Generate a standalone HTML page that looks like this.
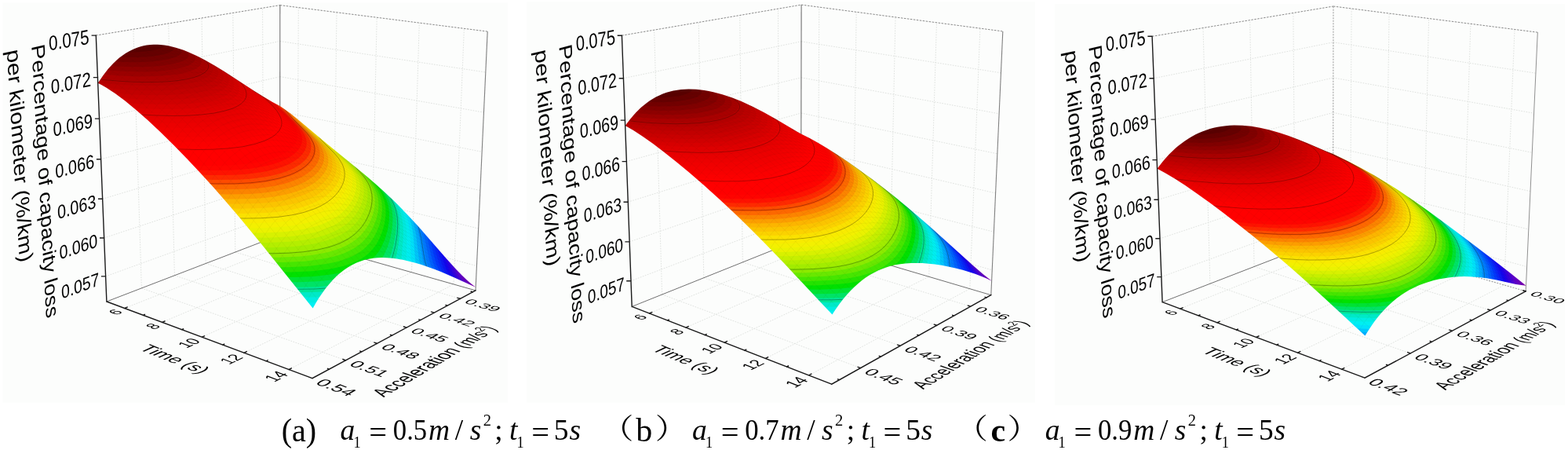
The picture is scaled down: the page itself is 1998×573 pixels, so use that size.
<!DOCTYPE html>
<html lang="en"><head><meta charset="utf-8"><title>Percentage of capacity loss per kilometer</title><style>html,body{margin:0;padding:0;background:#fff}svg{display:block}</style></head><body>
<svg width="1998" height="573" viewBox="0 0 1998 573">
<rect width="1998" height="573" fill="#fff"/>
<g fill="#fcfdfc"><rect x="3.5" y="3.5" width="643.5" height="509"/><rect x="671" y="2.5" width="648" height="510"/><rect x="1344" y="5" width="650" height="511"/></g>
<g id="panel-a">
<g id="grid-a"><path d="M134.6,351.9 356.7,271.3M356.7,271.3 607.4,338.6M132.7,303 356.7,228.8M356.7,228.8 609.6,291M130.7,253.3 356.7,185.8M356.7,185.8 611.8,242.5M128.6,202.7 356.7,142M356.7,142 614.1,193.3M126.6,151.1 356.8,97.6M356.8,97.6 616.4,143.1M124.5,98.6 356.8,52.5M356.8,52.5 618.8,92M378.9,305.5 380.3,9.6M158.8,392.5 378.9,305.5M425.1,318.6 429,15.7M206.6,410.3 425.1,318.6M473.5,332.3 480.2,22.2M257.2,429.2 473.5,332.3M524.5,346.8 534.3,29.1M310.9,449.3 524.5,346.8M578.1,362 591.4,36.3M368,470.6 578.1,362M180.4,366.9 169.9,37.3M180.4,366.9 440.6,458.8M222.4,350.7 214.7,30M222.4,350.7 480.6,437.3M262.2,335.5 257,23M262.2,335.5 518.1,417.1M299.8,321 296.8,16.5M299.8,321 553.3,398.2M335.5,307.3 334.6,10.3M335.5,307.3 586.5,380.3" fill="none" stroke="#dfe2df" stroke-width="1" stroke-dasharray="1.6 1.6"/>
<path d="M122.3,45.1 356.8,6.6M356.8,6.6 621.2,40.1" fill="none" stroke="#8a8a8a" stroke-width="1" stroke-dasharray="2.5 1.5"/>
<path d="M356.7,299.2 356.8,6.6" fill="none" stroke="#707070" stroke-width="1.1"/>
<path d="M606,369.9 621.2,40.1" fill="none" stroke="#808080" stroke-width="1.1"/>
<path d="M135.9,384 356.7,299.2M356.7,299.2 606,369.9" fill="none" stroke="#707070" stroke-width="1"/></g>
<g id="surf-a"><mask id="clip-a" maskUnits="userSpaceOnUse" x="0" y="0" width="1998" height="573"><path d="M124.77,105.75 131.27,96.14 137.77,87.82 144.28,80.7 148.18,76.97 152.08,73.62 155.97,70.63 159.86,67.97 163.74,65.65 167.61,63.63 171.47,61.9 175.32,60.45 179.17,59.27 183,58.32 186.81,57.61 191.88,57.01 195.67,56.79 200.69,56.8 204.44,57.01 209.42,57.55 214.37,58.36 219.29,59.42 224.17,60.7 229.03,62.18 233.86,63.86 239.84,66.18 250.49,70.94 262.12,76.9 273.55,83.39 285.88,90.93 323.46,115.43 334.78,122.6 346.87,129.73 356.75,134.92 363.6,139.63 370.49,144.82 378.57,151.29 417.44,183.85 455.15,214.55 467.56,224.82 478.84,234.49 490.2,244.67 500.38,254.26 510.62,264.41 520.92,275.13 532.59,287.85 543.03,299.66 568.11,328.59 581.51,343.35 588.28,350.28 595.11,356.74 600.61,361.48 606.16,365.74 578.48,353.18 561.17,345.84 552.73,342.56 544.12,339.44 536.33,336.86 528.4,334.48 520.33,332.38 513.16,330.8 505.87,329.52 499.53,328.7 493.1,328.2 486.58,328.07 481.09,328.28 475.53,328.83 469.9,329.76 464.21,331.12 458.46,332.97 453.81,334.84 447.94,337.73 443.19,340.52 438.41,343.77 433.58,347.54 428.71,351.87 423.8,356.8 418.84,362.39 415.1,367.04 410.08,373.91 406.29,379.58 402.48,385.73 398.65,392.39 381.8,371.6 333.93,311.8 319.31,293.91 304.85,276.55 287.72,256.5 272.22,238.87 255.53,220.49 239.08,202.96 221.53,184.96 204.26,168 188.57,153.33 173.12,139.73 159.19,128.36 146.72,119.11 140.55,114.94 135.66,111.84 129.59,108.3 124.77,105.75Z" fill="#fff"/></mask>
<g mask="url(#clip-a)">
<path d="M124.8,105.7 131.3,96.1 137.8,87.8 144.3,80.7 148.2,77 152.1,73.6 156,70.6 159.9,68 163.7,65.6 167.6,63.6 171.5,61.9 175.3,60.5 179.2,59.3 183,58.3 186.8,57.6 191.9,57 195.7,56.8 200.7,56.8 204.4,57 209.4,57.6 214.4,58.4 219.3,59.4 224.2,60.7 229,62.2 233.9,63.9 239.8,66.2 250.5,70.9 262.1,76.9 273.5,83.4 285.9,90.9 323.5,115.4 334.8,122.6 346.9,129.7 356.8,134.9 363.6,139.6 370.5,144.8 378.6,151.3 417.4,183.9 455.1,214.5 467.6,224.8 478.8,234.5 490.2,244.7 500.4,254.3 510.6,264.4 520.9,275.1 532.6,287.9 543,299.7 568.1,328.6 581.5,343.3 588.3,350.3 595.1,356.7 600.6,361.5 606.2,365.7 578.5,353.2 561.2,345.8 552.7,342.6 544.1,339.4 536.3,336.9 528.4,334.5 520.3,332.4 513.2,330.8 505.9,329.5 499.5,328.7 493.1,328.2 486.6,328.1 481.1,328.3 475.5,328.8 469.9,329.8 464.2,331.1 458.5,333 453.8,334.8 447.9,337.7 443.2,340.5 438.4,343.8 433.6,347.5 428.7,351.9 423.8,356.8 418.8,362.4 415.1,367 410.1,373.9 406.3,379.6 402.5,385.7 398.6,392.4 381.8,371.6 333.9,311.8 319.3,293.9 304.9,276.6 287.7,256.5 272.2,238.9 255.5,220.5 239.1,203 221.5,185 204.3,168 188.6,153.3 173.1,139.7 159.2,128.4 146.7,119.1 140.6,114.9 135.7,111.8 129.6,108.3 124.8,105.7Z" fill="#7d00a5" stroke="#7d00a5" stroke-width="3"/>
<path d="M109.9,115.8 120.7,121 133.6,128.7 146.6,137.9 159.9,148.4 175.3,161.7 191,176.1 208.9,193.6 227.1,212.2 260.3,248.2 296.6,290.1 327.3,327.5 400.2,418.6 408,403.4 417.5,387.4 427,374.4 436.2,363.9 445.4,355.6 456.1,348.2 466.7,342.9 477,339.5 488.8,337.4 501.9,336.9 514.7,337.8 530.2,340.4 546.6,344.6 563.9,350.3 583.2,357.6 607.6,368 603.4,365 600,361.6 597.2,357.9 595.2,354.4 578.3,336.8 540.7,293.6 521.3,272.5 509.7,260.7 496.3,248 469.9,225 424,187.5 381.6,151.9 366.1,140 355.8,133.5 344,127.8 331.9,121 275.7,85.1 260.4,76 248.2,69.5 235.7,63.7 224.9,59.5 213.9,56.2 204.6,54.2 195.2,53.3 185.8,53.4 176.2,54.7 168.5,56.9 160.7,60 152.9,64.4 145.1,70.1 137.3,77.2 129.5,85.9 123.6,93.6 115.8,105.5 109.9,115.8Z" fill="#6e00b6"/>
<path d="M109.9,115.8 120.7,121 133.6,128.7 146.6,137.9 159.9,148.4 175.3,161.7 191,176.1 208.9,193.6 227.1,212.2 260.3,248.2 296.6,290.1 327.3,327.5 400.2,418.6 408,403.4 417.5,387.4 427,374.4 436.2,363.9 445.4,355.6 456.1,348.2 466.7,342.9 477,339.5 488.8,337.4 500.3,336.8 513.1,337.6 528.7,340.1 545.2,344.2 562.5,349.8 580.5,356.5 603.6,366.3 599.7,363.4 596.6,360.4 592.5,354.8 589.6,348.9 576.3,334.5 542.7,295.8 525.1,276.5 513.6,264.6 500.1,251.5 486.8,239.4 471.8,226.5 424,187.5 383.3,153.3 366.1,140 355.8,133.5 344,127.8 331.9,121 275.7,85.1 260.4,76 248.2,69.5 235.7,63.7 224.9,59.5 213.9,56.2 204.6,54.2 195.2,53.3 185.8,53.4 176.2,54.7 168.5,56.9 160.7,60 152.9,64.4 145.1,70.1 137.3,77.2 129.5,85.9 123.6,93.6 115.8,105.5 109.9,115.8Z" fill="#6500c1"/>
<path d="M109.9,115.8 120.7,121 133.6,128.7 146.6,137.9 159.9,148.4 175.3,161.7 191,176.1 208.9,193.6 227.1,212.2 260.3,248.2 296.6,290.1 327.3,327.5 400.2,418.6 408,403.4 417.5,387.4 425.1,376.8 434.4,365.8 443.6,357.1 454.4,349.2 464.9,343.7 475.3,340 487.1,337.6 498.7,336.8 511.5,337.4 527.1,339.8 542.2,343.4 559.6,348.8 577.8,355.5 599.5,364.5 594.2,360.3 590.4,355.7 586.5,349 584.5,343.5 531,282.8 517.4,268.5 504,255.2 488.7,241.1 473.6,228.1 424,187.5 383.3,153.3 366.1,140 355.8,133.5 344,127.8 331.9,121 275.7,85.1 260.4,76 248.2,69.5 235.7,63.7 224.9,59.5 213.9,56.2 204.6,54.2 195.2,53.3 185.8,53.4 176.2,54.7 168.5,56.9 160.7,60 152.9,64.4 145.1,70.1 137.3,77.2 129.5,85.9 123.6,93.6 115.8,105.5 109.9,115.8Z" fill="#5b00cc"/>
<path d="M109.9,115.8 120.7,121 133.6,128.7 146.6,137.9 159.9,148.4 175.3,161.7 191,176.1 208.9,193.6 227.1,212.2 260.3,248.2 296.6,290.1 327.3,327.5 400.2,418.6 408,403.4 417.5,387.4 425.1,376.8 434.4,365.8 443.6,357.1 454.4,349.2 464.9,343.7 475.3,340 487.1,337.6 498.7,336.8 511.5,337.4 525.6,339.5 540.7,343 556.8,347.8 575.1,354.4 595.3,362.7 590.1,358.4 585.6,352.4 581.5,344.3 579.6,338.2 536.8,289.2 521.3,272.5 507.8,258.9 492.5,244.5 475.5,229.7 424,187.5 383.3,153.3 366.1,140 355.8,133.5 344,127.8 331.9,121 275.7,85.1 260.4,76 248.2,69.5 235.7,63.7 224.9,59.5 213.9,56.2 204.6,54.2 195.2,53.3 185.8,53.4 176.2,54.7 168.5,56.9 160.7,60 152.9,64.4 145.1,70.1 137.3,77.2 129.5,85.9 123.6,93.6 115.8,105.5 109.9,115.8Z" fill="#4800d6"/>
<path d="M109.9,115.8 120.7,121 133.6,128.7 146.6,137.9 159.9,148.4 175.3,161.7 191,176.1 208.9,193.6 227.1,212.2 260.3,248.2 296.6,290.1 327.3,327.5 400.2,418.6 408,403.4 417.5,387.4 425.1,376.8 434.4,365.8 443.6,357.1 452.6,350.4 463.2,344.5 473.6,340.5 485.5,337.9 497.1,336.9 510,337.3 522.5,338.9 537.7,342.2 553.9,346.9 570.9,352.8 591.1,360.9 586.1,356.5 581.6,350.3 577.2,341 574.9,333 544.6,298 527.1,278.6 511.6,262.6 494.4,246.2 477.4,231.3 422.2,186.1 383.3,153.3 366.1,140 355.8,133.5 344,127.8 330.3,120.1 275.7,85.1 262.1,77 249.9,70.4 237.5,64.5 226.7,60.1 215.7,56.6 206.5,54.6 197.1,53.4 187.7,53.2 178.1,54.3 170.4,56.2 160.7,60 152.9,64.4 145.1,70.1 137.3,77.2 129.5,85.9 123.6,93.6 115.8,105.5 109.9,115.8Z" fill="#3500df"/>
<path d="M109.9,115.8 120.7,121 133.6,128.7 146.6,137.9 159.9,148.4 175.3,161.7 191,176.1 208.9,193.6 227.1,212.2 260.3,248.2 296.6,290.1 327.3,327.5 400.2,418.6 408,403.4 415.6,390.4 423.2,379.3 432.5,367.8 441.7,358.7 450.8,351.6 461.4,345.3 471.9,341 482.1,338.4 493.8,337 506.8,337.1 519.4,338.4 533.2,341.1 549.6,345.5 566.7,351.3 586.8,359.1 581.9,354.7 576.9,347 572.5,336.5 571.1,332 570.4,327.8 540.7,293.6 521.3,272.5 500.1,251.5 479.3,232.9 422.2,186.1 383.3,153.3 366.1,140 355.8,133.5 344,127.8 330.3,120.1 275.7,85.1 262.1,77 249.9,70.4 237.5,64.5 226.7,60.1 215.7,56.6 206.5,54.6 197.1,53.4 187.7,53.2 178.1,54.3 170.4,56.2 160.7,60 152.9,64.4 145.1,70.1 137.3,77.2 129.5,85.9 123.6,93.6 115.8,105.5 109.9,115.8Z" fill="#2200e9"/>
<path d="M109.9,115.8 120.7,121 133.6,128.7 146.6,137.9 159.9,148.4 175.3,161.7 191,176.1 208.9,193.6 227.1,212.2 260.3,248.2 296.6,290.1 327.3,327.5 400.2,418.6 408,403.4 415.6,390.4 423.2,379.3 432.5,367.8 441.7,358.7 450.8,351.6 461.4,345.3 471.9,341 482.1,338.4 493.8,337 505.2,337 517.8,338.2 531.7,340.8 548.1,345.1 563.9,350.3 582.4,357.3 577.7,352.8 575.1,349 572.3,343.7 568.2,332.8 566.5,326.8 565.9,322.6 540.7,293.6 521.3,272.5 502,253.3 481.2,234.5 422.2,186.1 383.3,153.3 367.8,141.2 355.8,133.5 344,127.8 330.3,120.1 275.7,85.1 262.1,77 249.9,70.4 237.5,64.5 226.7,60.1 215.7,56.6 206.5,54.6 197.1,53.4 187.7,53.2 178.1,54.3 170.4,56.2 160.7,60 152.9,64.4 145.1,70.1 137.3,77.2 129.5,85.9 123.6,93.6 115.8,105.5 109.9,115.8Z" fill="#1205f1"/>
<path d="M109.9,115.8 120.7,121 133.6,128.7 146.6,137.9 159.9,148.4 175.3,161.7 191,176.1 208.9,193.6 227.1,212.2 260.3,248.2 296.6,290.1 327.3,327.5 400.2,418.6 408,403.4 415.6,390.4 423.2,379.3 432.5,367.8 441.7,358.7 450.8,351.6 459.7,346.2 470.2,341.6 480.4,338.8 492.1,337.1 503.5,336.9 516.3,338 530.2,340.4 545.2,344.2 561.1,349.3 578,355.5 573.4,350.9 570.9,347.1 568.3,341.7 564,329.3 562,321.6 561.5,317.5 538.8,291.4 519.3,270.5 502,253.3 483,236.1 466.2,221.9 422.2,186.1 383.3,153.3 367.8,141.2 355.8,133.5 344,127.8 330.3,120.1 275.7,85.1 262.1,77 249.9,70.4 237.5,64.5 226.7,60.1 215.7,56.6 206.5,54.6 197.1,53.4 187.7,53.2 178.1,54.3 170.4,56.2 160.7,60 152.9,64.4 145.1,70.1 137.3,77.2 129.5,85.9 123.6,93.6 115.8,105.5 109.9,115.8Z" fill="#0d16f5"/>
<path d="M109.9,115.8 120.7,121 133.6,128.7 146.6,137.9 159.9,148.4 175.3,161.7 191,176.1 208.9,193.6 227.1,212.2 260.3,248.2 296.6,290.1 327.3,327.5 400.2,418.6 408,403.4 415.6,390.4 423.2,379.3 432.5,367.8 439.9,360.3 449,352.9 457.9,347.1 468.4,342.3 478.7,339.1 488.8,337.4 500.3,336.8 513.1,337.6 527.1,339.8 540.7,343 556.8,347.8 573.4,353.8 569,349.1 566.7,345.1 564.2,339.7 559.8,325.8 557.5,316.4 557.1,312.4 536.8,289.2 519.3,270.5 502,253.3 484.9,237.8 466.2,221.9 420.4,184.6 383.3,153.3 367.8,141.2 355.8,133.5 344,127.8 330.3,120.1 275.7,85.1 262.1,77 249.9,70.4 237.5,64.5 226.7,60.1 215.7,56.6 206.5,54.6 197.1,53.4 187.7,53.2 178.1,54.3 170.4,56.2 160.7,60 152.9,64.4 145.1,70.1 137.3,77.2 129.5,85.9 123.6,93.6 115.8,105.5 109.9,115.8Z" fill="#0726fa"/>
<path d="M109.9,115.8 120.7,121 133.6,128.7 146.6,137.9 159.9,148.4 175.3,161.7 191,176.1 208.9,193.6 227.1,212.2 260.3,248.2 296.6,290.1 327.3,327.5 400.2,418.6 408,403.4 415.6,390.4 423.2,379.3 430.7,369.9 438.1,362.1 447.2,354.2 456.1,348.2 466.7,342.9 477,339.5 487.1,337.6 498.7,336.8 510,337.3 522.5,338.9 537.7,342.2 552.5,346.4 568.7,352 565.5,348.4 563.8,345.9 559.6,336.3 555.3,320.9 553.1,311.3 552.7,307.2 534.9,287.1 519.3,270.5 504,255.2 486.8,239.4 468,223.4 420.4,184.6 383.3,153.3 367.8,141.2 355.8,133.5 344,127.8 330.3,120.1 275.7,85.1 262.1,77 249.9,70.4 237.5,64.5 226.7,60.1 215.7,56.6 206.5,54.6 197.1,53.4 187.7,53.2 178.1,54.3 170.4,56.2 160.7,60 152.9,64.4 145.1,70.1 137.3,77.2 129.5,85.9 123.6,93.6 115.8,105.5 109.9,115.8Z" fill="#0237fe"/>
<path d="M109.9,115.8 120.7,121 133.6,128.7 146.6,137.9 159.9,148.4 175.3,161.7 191,176.1 208.9,193.6 227.1,212.2 260.3,248.2 296.6,290.1 327.3,327.5 400.2,418.6 408,403.4 415.6,390.4 423.2,379.3 430.7,369.9 438.1,362.1 447.2,354.2 456.1,348.2 466.7,342.9 477,339.5 487.1,337.6 497.1,336.9 508.4,337.2 521,338.7 534.7,341.5 548.1,345.1 563.9,350.3 560,345.3 555.8,335.7 552,321.5 548.6,306.1 548.2,302.1 532.9,284.9 517.4,268.5 504,255.2 488.7,241.1 469.9,225 424,187.5 385.1,154.7 367.8,141.2 355.8,133.5 344,127.8 330.3,120.1 275.7,85.1 262.1,77 249.9,70.4 237.5,64.5 226.7,60.1 215.7,56.6 206.5,54.6 197.1,53.4 187.7,53.2 178.1,54.3 170.4,56.2 160.7,60 152.9,64.4 145.1,70.1 137.3,77.2 129.5,85.9 123.6,93.6 115.8,105.5 109.9,115.8Z" fill="#004cff"/>
<path d="M109.9,115.8 120.7,121 133.6,128.7 146.6,137.9 159.9,148.4 175.3,161.7 191,176.1 208.9,193.6 227.1,212.2 260.3,248.2 296.6,290.1 327.3,327.5 400.2,418.6 408,403.4 415.6,390.4 423.2,379.3 430.7,369.9 438.1,362.1 447.2,354.2 456.1,348.2 464.9,343.7 473.6,340.5 483.8,338.1 493.8,337 505.2,337 517.8,338.2 530.2,340.4 543.7,343.8 559,348.6 555.3,343.5 551.5,333.7 549.3,325.1 544.2,301 543.8,297 531,282.8 517.4,268.5 504,255.2 490.6,242.8 471.8,226.5 424,187.5 385.1,154.7 367.8,141.2 355.8,133.5 344,127.8 330.3,120.1 275.7,85.1 262.1,77 249.9,70.4 237.5,64.5 226.7,60.1 215.7,56.6 206.5,54.6 197.1,53.4 187.7,53.2 178.1,54.3 170.4,56.2 160.7,60 152.9,64.4 145.1,70.1 137.3,77.2 129.5,85.9 123.6,93.6 115.8,105.5 109.9,115.8Z" fill="#0062ff"/>
<path d="M109.9,115.8 120.7,121 133.6,128.7 146.6,137.9 159.9,148.4 175.3,161.7 191,176.1 208.9,193.6 227.1,212.2 260.3,248.2 296.6,290.1 327.3,327.5 400.2,418.6 406,407 413.7,393.4 421.3,381.9 428.8,372.1 436.2,363.9 445.4,355.6 454.4,349.2 463.2,344.5 471.9,341 482.1,338.4 492.1,337.1 501.9,336.9 513.1,337.6 525.6,339.5 539.2,342.6 553.9,346.9 550.5,341.7 547.1,331.7 539.7,295.9 539.2,291.9 517.4,268.5 494.4,246.2 468,223.4 424,187.5 383.3,153.3 367.8,141.2 355.8,133.5 344,127.8 330.3,120.1 277.4,86.2 263.8,78 251.7,71.3 239.3,65.2 228.5,60.8 217.6,57.1 206.5,54.6 197.1,53.4 187.7,53.2 178.1,54.3 170.4,56.2 160.7,60 152.9,64.4 145.1,70.1 137.3,77.2 129.5,85.9 123.6,93.6 115.8,105.5 109.9,115.8Z" fill="#0078ff"/>
<path d="M109.9,115.8 120.7,121 131.7,127.5 144.7,136.5 158,146.8 173.4,159.9 189,174.3 206.9,191.6 225.1,210.1 260.3,248.2 296.6,290.1 327.3,327.5 399.3,417.5 400.7,417.6 409.9,399.9 417.5,387.4 423.2,379.3 430.7,369.9 438.1,362.1 445.4,355.6 452.6,350.4 461.4,345.3 470.2,341.6 480.4,338.8 490.5,337.3 500.3,336.8 511.5,337.4 522.5,338.9 534.7,341.5 548.6,345.2 545.6,339.9 543,331.2 538.2,304.2 535.1,290.7 534.7,286.8 515.5,266.5 496.3,248 469.9,225 424,187.5 383.3,153.3 367.8,141.2 355.8,133.5 344,127.8 330.3,120.1 277.4,86.2 263.8,78 251.7,71.3 239.3,65.2 228.5,60.8 217.6,57.1 206.5,54.6 197.1,53.4 187.7,53.2 178.1,54.3 170.4,56.2 160.7,60 152.9,64.4 145.1,70.1 137.3,77.2 129.5,85.9 123.6,93.6 115.8,105.5 109.9,115.8Z" fill="#008fff"/>
<path d="M109.9,115.8 120.7,121 131.7,127.5 144.7,136.5 158,146.8 173.4,159.9 189,174.3 206.9,191.6 225.1,210.1 258.2,245.8 294.4,287.5 327.3,327.5 393.9,410.9 403.8,411.3 409.9,399.9 417.5,387.4 425.1,376.8 432.5,367.8 439.9,360.3 447.2,354.2 454.4,349.2 463.2,344.5 471.9,341 480.4,338.8 488.8,337.4 498.7,336.8 508.4,337.2 519.4,338.4 530.2,340.4 543.2,343.7 540.4,338.1 538.9,332.2 534.1,301 530.5,285.6 530,281.7 513.6,264.6 498.2,249.8 484.9,237.8 469.9,225 424,187.5 383.3,153.3 367.8,141.2 355.8,133.5 344,127.8 330.3,120.1 277.4,86.2 263.8,78 251.7,71.3 239.3,65.2 228.5,60.8 217.6,57.1 206.5,54.6 197.1,53.4 187.7,53.2 178.1,54.3 170.4,56.2 160.7,60 152.9,64.4 145.1,70.1 137.3,77.2 129.5,85.9 123.6,93.6 115.8,105.5 109.9,115.8Z" fill="#00abfd"/>
<path d="M109.9,115.8 120.7,121 131.7,127.5 144.7,136.5 158,146.8 173.4,159.9 189,174.3 204.9,189.6 223.1,208 258.2,245.8 294.4,287.5 327.3,327.5 388.5,404.3 407.2,404.9 413.7,393.4 421.3,381.9 427,374.4 434.4,365.8 441.7,358.7 450.8,351.6 457.9,347.1 466.7,342.9 473.6,340.5 482.1,338.4 490.5,337.3 498.7,336.8 506.8,337.1 516.3,338 527.1,339.8 537.4,342.1 535.1,336.4 534.5,333.4 533.3,325.8 530,297.9 525.2,276.6 502,253.3 486.8,239.4 471.8,226.5 424,187.5 383.3,153.3 369.5,142.4 357.5,134.5 342.5,127 328.8,119.2 277.4,86.2 253.4,72.2 241.1,66.1 230.3,61.5 219.4,57.7 208.3,54.9 197.1,53.4 187.7,53.2 178.1,54.3 170.4,56.2 160.7,60 152.9,64.4 145.1,70.1 137.3,77.2 129.5,85.9 123.6,93.6 115.8,105.5 109.9,115.8Z" fill="#00c6fc"/>
<path d="M109.9,115.8 120.7,121 131.7,127.5 144.7,136.5 158,146.8 171.4,158.2 187,172.4 202.9,187.6 221,205.9 256.1,243.5 292.3,285 327.3,327.5 383.3,397.7 410.8,398.3 417.5,387.4 423.2,379.3 430.7,369.9 438.1,362.1 445.4,355.6 452.6,350.4 459.7,346.2 468.4,342.3 475.3,340 482.1,338.4 488.8,337.4 497.1,336.9 505.2,337 513.1,337.6 522.5,338.9 531.4,340.7 529.6,334.8 529,330.1 527,304.1 525.8,293.7 524.1,285.3 521.1,275.3 520.3,271.4 505.9,257 490.6,242.8 473.6,228.1 424,187.5 383.3,153.3 369.5,142.4 357.5,134.5 342.5,127 328.8,119.2 277.4,86.2 253.4,72.2 241.1,66.1 230.3,61.5 219.4,57.7 208.3,54.9 197.1,53.4 187.7,53.2 178.1,54.3 170.4,56.2 160.7,60 152.9,64.4 145.1,70.1 137.3,77.2 129.5,85.9 123.6,93.6 115.8,105.5 109.9,115.8Z" fill="#00e2fb"/>
<path d="M109.9,115.8 120.7,121 131.7,127.5 142.9,135.2 156.1,145.3 169.5,156.5 185.1,170.6 200.9,185.7 219,203.8 254,241.2 290.1,282.4 325.1,324.7 378,391.2 398.3,391.7 414.8,391.7 421.3,381.9 428.8,372.1 434.4,365.8 441.7,358.7 449,352.9 456.1,348.2 463.2,344.5 470.2,341.6 482.1,338.4 495.4,336.9 510,337.3 525.1,339.4 523.8,333.2 522.7,300.9 521.9,292.6 520.8,285.6 519,278.3 516.2,270.1 515.2,266.3 509.7,260.7 492.5,244.5 475.5,229.7 424,187.5 383.3,153.3 369.5,142.4 357.5,134.5 342.5,127 328.8,119.2 279.1,87.2 255.2,73.1 242.9,66.9 230.3,61.5 219.4,57.7 208.3,54.9 197.1,53.4 187.7,53.2 178.1,54.3 170.4,56.2 160.7,60 152.9,64.4 145.1,70.1 137.3,77.2 129.5,85.9 123.6,93.6 115.8,105.5 109.9,115.8Z" fill="#00eff2"/>
<path d="M109.9,115.8 120.7,121 131.7,127.5 142.9,135.2 156.1,145.3 169.5,156.5 185.1,170.6 200.9,185.7 217,201.7 251.9,238.9 288,279.9 322.9,322 372.9,384.7 397.6,385.2 419.3,384.8 428.8,372.1 434.4,365.8 439.9,360.3 450.8,351.6 456.1,348.2 463.2,344.5 468.4,342.3 475.3,340 482.1,338.4 488.8,337.4 495.4,336.9 503.5,336.9 518.2,338.3 517.7,331.7 518.4,302.8 517.8,289.9 516.8,283.3 515.4,277 510.1,261.1 494.4,246.2 475.5,229.7 424,187.5 383.3,153.3 369.5,142.4 357.5,134.5 342.5,127 328.8,119.2 279.1,87.2 256.9,74.1 244.6,67.7 232.1,62.2 221.2,58.2 210.2,55.3 199,53.5 189.6,53.2 180,54 172.3,55.7 162.7,59.1 154.9,63.2 147.1,68.5 139.3,75.3 131.4,83.6 123.6,93.6 115.8,105.5 109.9,115.8Z" fill="#00ede2"/>
<path d="M109.9,115.8 118.9,120 129.9,126.3 141,133.8 154.2,143.8 167.6,154.9 183.1,168.8 198.9,183.7 214.9,199.7 247.8,234.3 283.7,274.9 320.7,319.3 367.7,378.2 396.9,378.6 424.4,377.6 434.4,365.8 443.6,357.1 452.6,350.4 463.2,344.5 473.6,340.5 485.5,337.9 497.1,336.9 510.7,337.4 513.6,305.7 513.9,296.3 513.6,288.1 512.8,280.9 511.2,273.4 509.3,267.6 505.9,259.7 504.7,255.9 490.6,242.8 473.6,228.1 424,187.5 383.3,153.3 369.5,142.4 357.5,134.5 342.5,127 328.8,119.2 280.7,88.3 258.6,75 244.6,67.7 232.1,62.2 221.2,58.2 210.2,55.3 199,53.5 189.6,53.2 180,54 172.3,55.7 162.7,59.1 154.9,63.2 147.1,68.5 139.3,75.3 131.4,83.6 123.6,93.6 115.8,105.5 109.9,115.8Z" fill="#00eac7"/>
<path d="M109.9,115.8 118.9,120 129.9,126.3 141,133.8 154.2,143.8 167.6,154.9 183.1,168.8 198.9,183.7 214.9,199.7 247.8,234.3 283.7,274.9 318.5,316.6 362.6,371.8 382.4,372.2 400.3,372 416.3,371.2 430.6,370 438.1,362.1 447.2,354.2 454.4,349.2 463.2,344.5 471.9,341 482.1,338.4 492.1,337.1 502.2,336.9 505.7,322.6 507.8,310.7 509.1,298.2 509.4,286.7 508.6,277.8 506.9,269.7 504.6,262.9 500.6,254.5 499.2,250.6 486.8,239.4 471.8,226.5 424,187.5 383.3,153.3 369.5,142.4 357.5,134.5 342.5,127 328.8,119.2 280.7,88.3 260.4,76 246.4,68.6 233.9,62.9 223.1,58.8 212,55.7 200.9,53.7 191.5,53.2 181.9,53.7 172.3,55.7 162.7,59.1 154.9,63.2 147.1,68.5 139.3,75.3 131.4,83.6 123.6,93.6 115.8,105.5 109.9,115.8Z" fill="#00e698"/>
<path d="M109.9,115.8 118.9,120 129.9,126.3 141,133.8 154.2,143.8 167.6,154.9 181.1,167 196.9,181.8 212.9,197.6 245.7,232 279.4,269.9 314.1,311.2 357.5,365.3 381.9,365.8 403.1,365.2 421.6,363.8 438.6,361.6 449,352.9 454.4,349.2 461.4,345.3 468.4,342.3 475.3,340 483.8,338.1 491.9,337.1 493.3,334.9 498,324.2 501.4,312.4 504.1,297.8 505,284.6 504.4,274.6 502.3,265.1 499.4,257.2 495.1,249.2 493.5,245.4 469.9,225 424,187.5 383.3,153.3 369.5,142.4 357.5,134.5 342.5,127 328.8,119.2 280.7,88.3 262.1,77 248.2,69.5 235.7,63.7 224.9,59.5 213.9,56.2 202.7,54 193.3,53.2 183.8,53.5 174.3,55.2 164.6,58.3 156.8,62.1 147.1,68.5 139.3,75.3 131.4,83.6 123.6,93.6 115.8,105.5 109.9,115.8Z" fill="#00e366"/>
<path d="M109.9,115.8 118.9,120 129.9,126.3 141,133.8 154.2,143.8 167.6,154.9 181.1,167 210.9,195.6 243.6,229.8 277.3,267.4 311.9,308.5 352.5,359 381.2,359.3 405.5,358.3 429,355.7 448.1,351.9 452,350.8 457.9,347.1 464.9,343.7 476.1,339.8 479.1,337.4 483,333.6 486.2,329.5 489.4,324.4 494.1,314 497.5,302.6 499.9,289.3 500.5,278 499.6,268.3 497.3,259.3 494.3,252.2 489.4,244 487.6,240.1 469.9,225 424,187.5 385.1,154.7 367.8,141.2 355.8,133.5 344,127.8 328.8,119.2 279.1,87.2 256.9,74.1 244.6,67.7 232.1,62.2 221.2,58.2 210.2,55.3 199,53.5 189.6,53.2 180,54 172.3,55.7 162.7,59.1 154.9,63.2 147.1,68.5 139.3,75.3 131.4,83.6 123.6,93.6 115.8,105.5 109.9,115.8Z" fill="#00e233"/>
<path d="M109.9,115.8 118.9,120 129.9,126.3 141,133.8 152.3,142.3 163.7,151.6 177.2,163.4 206.9,191.6 239.5,225.3 273,262.5 307.5,303.2 347.4,352.6 376.1,353 400.2,351.9 423.5,349.3 442.2,345.4 449,343.4 456.9,340.5 463.6,337.2 469.3,333.8 474,330.1 478.7,325.3 482.6,320.3 485.7,315.3 490.3,305.1 493.9,292.9 495.7,281.5 496,271 494.8,262 492.1,253.5 488.9,246.9 483.5,238.7 481.5,234.8 422.2,186.1 383.3,153.3 367.8,141.2 355.8,133.5 344,127.8 330.3,120.1 277.4,86.2 253.4,72.2 241.1,66.1 230.3,61.5 219.4,57.7 208.3,54.9 197.1,53.4 187.7,53.2 178.1,54.3 170.4,56.2 160.7,60 152.9,64.4 145.1,70.1 137.3,77.2 129.5,85.9 123.6,93.6 115.8,105.5 109.9,115.8Z" fill="#01e100"/>
<path d="M109.9,115.8 118.9,120 128,125.2 139.1,132.5 150.4,140.8 161.8,150 175.3,161.7 189,174.3 204.9,189.6 237.4,223.1 270.9,260.1 305.3,300.5 342.3,346.2 371.1,346.6 398.7,345.3 421,342.4 438.9,338.4 447.3,335.6 454.6,332.5 460.7,329.2 466,325.7 470.4,322 474.9,317.2 479.3,311.4 482.7,305.4 486.9,295.4 490,284.4 491.5,273.5 491.3,264 489.7,255.5 486.8,247.8 483.4,241.6 477.5,233.3 475.2,229.4 424,187.5 383.3,153.3 366.1,140 355.8,133.5 344,127.8 331.9,121 275.7,85.1 260.4,76 248.2,69.5 235.7,63.7 224.9,59.5 213.9,56.2 204.6,54.2 195.2,53.3 185.8,53.4 176.2,54.7 168.5,56.9 160.7,60 152.9,64.4 145.1,70.1 137.3,77.2 129.5,85.9 123.6,93.6 115.8,105.5 109.9,115.8Z" fill="#23e300"/>
<path d="M109.9,115.8 118.9,120 128,125.2 139.1,132.5 150.4,140.8 161.8,150 175.3,161.7 202.9,187.6 233.3,218.7 266.6,255.3 300.9,295.3 337.3,339.9 366,340.3 393.5,339 415.8,336.1 426.4,333.9 435.7,331.4 443.7,328.6 450.7,325.5 456.6,322.1 462.9,317.7 467.9,313.1 472.1,308.4 476.1,302.5 479.4,296.6 483.4,286.8 485.9,277 487,266.9 486.5,257.8 484.5,249.7 481.4,242.4 477.7,236.4 471.3,228 468.9,224.1 424,187.5 381.6,151.9 366.1,140 355.8,133.5 344,127.8 331.9,121 274,84.1 258.6,75 246.4,68.6 235.7,63.7 224.9,59.5 213.9,56.2 204.6,54.2 195.2,53.3 185.8,53.4 176.2,54.7 168.5,56.9 160.7,60 152.9,64.4 145.1,70.1 137.3,77.2 129.5,85.9 123.6,93.6 115.8,105.5 109.9,115.8Z" fill="#46e600"/>
<path d="M109.9,115.8 118.9,120 128,125.2 137.3,131.2 148.5,139.3 159.9,148.4 173.4,159.9 200.9,185.7 231.2,216.5 264.5,252.9 296.6,290.1 332.2,333.6 361,334 388.5,332.7 410.6,329.8 421.2,327.7 430.4,325.2 438.4,322.4 445.4,319.3 451.4,316 457.7,311.7 462.8,307.2 467.9,301.5 471.9,295.8 475.6,289 479.5,279.3 481.8,269.6 482.5,260.6 481.7,252.1 479.7,245 476.3,237.7 471.9,231.1 464.9,222.6 462.4,218.7 424,187.5 381.6,151.9 366.1,140 355.8,133.5 344,127.8 328.8,119.2 284.1,90.4 267.2,80 255.2,73.1 242.9,66.9 232.1,62.2 221.2,58.2 210.2,55.3 200.9,53.7 191.5,53.2 183.8,53.5 174.3,55.2 166.5,57.5 158.8,61 151,65.7 143.2,71.7 137.3,77.2 129.5,85.9 123.6,93.6 115.8,105.5 109.9,115.8Z" fill="#69e800"/>
<path d="M109.9,115.8 118.9,120 128,125.2 137.3,131.2 148.5,139.3 159.9,148.4 171.4,158.2 198.9,183.7 229.2,214.4 260.3,248.2 292.3,285 327.1,327.3 356,327.7 383.4,326.4 396.6,325 408.3,323.1 418.5,320.9 427.4,318.3 435.1,315.5 441.8,312.4 448.9,308.3 454.8,303.9 459.7,299.4 464.5,293.8 468.4,288.1 472,281.5 475.3,272.8 477.4,263.3 477.9,254.6 476.8,246.8 474.3,239.3 470.6,232.3 466.7,226.8 458.4,217.2 455.8,213.4 422.2,186.1 381.6,151.9 364.3,138.8 355.8,133.5 344,127.8 328.8,119.2 284.1,90.4 267.2,80 253.4,72.2 241.1,66.1 230.3,61.5 219.4,57.7 210.2,55.3 200.9,53.7 191.5,53.2 183.8,53.5 174.3,55.2 166.5,57.5 158.8,61 151,65.7 143.2,71.7 137.3,77.2 129.5,85.9 123.6,93.6 115.8,105.5 109.9,115.8Z" fill="#8cea00"/>
<path d="M109.9,115.8 118.9,120 128,125.2 137.3,131.2 148.5,139.3 159.9,148.4 171.4,158.2 196.9,181.8 225.1,210.1 256.1,243.5 288,279.9 322.1,321 351,321.5 378.4,320.2 391.6,318.8 403.2,316.9 413.4,314.7 422.3,312.2 430.1,309.4 438.3,305.6 445.2,301.4 451,297.1 456.7,291.7 461.2,286.2 464.9,280.6 468.3,274 471.4,265.5 473,256.9 473.2,249.3 471.7,241.1 469.3,234.6 465.1,227.5 459.9,220.7 451.9,211.9 449.2,208.1 422.2,186.1 381.6,151.9 364.3,138.8 355.8,133.5 344,127.8 328.8,119.2 282.4,89.3 265.5,79 251.7,71.3 237.5,64.5 226.7,60.1 217.6,57.1 208.3,54.9 199,53.5 189.6,53.2 181.9,53.7 172.3,55.7 164.6,58.3 156.8,62.1 149,67.1 141.2,73.4 135.3,79.2 127.5,88.4 121.6,96.4 115.8,105.5 109.9,115.8Z" fill="#a2ec00"/>
<path d="M109.9,115.8 118.9,120 128,125.2 137.3,131.2 146.6,137.9 158,146.8 169.5,156.5 194.9,179.9 223.1,208 254,241.2 283.7,274.9 316.9,314.7 345.9,315.2 373.5,314 386.7,312.6 398.3,310.8 408.4,308.6 417.3,306.1 425.1,303.3 433.4,299.6 440.3,295.5 446.2,291.3 451.9,286 456.6,280.5 460.9,274 464.2,267.5 467.1,259.1 468.5,250.8 468.3,242.9 466.5,235.3 463.7,229.1 459.5,222.6 454,215.8 445.3,206.5 442.6,202.8 381.6,151.9 364.3,138.8 355.8,133.5 344,127.8 328.8,119.2 282.4,89.3 265.5,79 249.9,70.4 235.7,63.7 224.9,59.5 215.7,56.6 206.5,54.6 197.1,53.4 187.7,53.2 180,54 172.3,55.7 164.6,58.3 156.8,62.1 149,67.1 141.2,73.4 135.3,79.2 127.5,88.4 121.6,96.4 115.8,105.5 109.9,115.8Z" fill="#b4ee00"/>
<path d="M109.9,115.8 118.9,120 128,125.2 137.3,131.2 146.6,137.9 167.6,154.9 192.9,178 221,205.9 249.8,236.6 279.4,269.9 311.8,308.5 340.9,309 368.5,307.8 381.7,306.5 393.3,304.7 403.5,302.5 412.4,300 420.2,297.3 428.5,293.6 435.5,289.6 442.5,284.6 448.1,279.3 452.7,273.9 456.9,267.5 460.1,261.1 462.8,252.7 463.8,245.2 463.3,237.6 461.5,230.7 458.6,224.6 454.3,218.2 449.2,212.2 438.7,201.2 436.1,197.5 381.6,151.9 371.2,143.7 362.6,137.6 355.8,133.5 344,127.8 330.3,120.1 282.4,89.3 263.8,78 248.2,69.5 233.9,62.9 223.1,58.8 213.9,56.2 204.6,54.2 197.1,53.4 187.7,53.2 180,54 172.3,55.7 164.6,58.3 156.8,62.1 149,67.1 141.2,73.4 135.3,79.2 127.5,88.4 121.6,96.4 115.8,105.5 109.9,115.8Z" fill="#c6ef00"/>
<path d="M109.9,115.8 117.1,119.1 126.2,124.1 135.4,129.9 144.7,136.5 165.6,153.2 191,176.1 219,203.8 247.8,234.3 277.3,267.4 306.7,302.2 322,302.7 340.2,302.8 367,301.4 379.8,299.9 391.1,298.1 401,295.9 409.6,293.4 417.1,290.6 425.2,286.9 432.1,282.9 438.8,277.9 444.3,272.7 448.8,267.4 452.9,261.1 455.9,254.7 458.2,247.3 459,239.8 458.4,232.5 456.4,226 453.4,220.1 449.4,214.4 444,208.1 432.1,195.9 429.7,192.3 381.6,151.9 371.2,143.7 362.6,137.6 355.8,133.5 344,127.8 330.3,120.1 282.4,89.3 263.8,78 246.4,68.6 232.1,62.2 221.2,58.2 212,55.7 202.7,54 195.2,53.3 185.8,53.4 178.1,54.3 170.4,56.2 162.7,59.1 154.9,63.2 149,67.1 141.2,73.4 135.3,79.2 127.5,88.4 121.6,96.4 115.8,105.5 109.9,115.8Z" fill="#d8f100"/>
<path d="M109.9,115.8 117.1,119.1 126.2,124.1 135.4,129.9 144.7,136.5 165.6,153.2 189,174.3 214.9,199.7 243.6,229.8 273,262.5 301.5,296 316.9,296.5 335.2,296.6 362.1,295.3 374.9,293.8 386.2,292 396.1,289.8 404.8,287.4 412.3,284.7 420.5,281 427.3,277.1 434.2,272.2 439.7,267 444.3,261.8 448.4,255.5 451.4,249.2 453.5,241.9 454.2,234.7 453.4,227.8 451.3,221.4 448.4,216.1 444.3,210.3 439.2,204.5 426.3,191.3 423.5,187.1 381.6,151.9 371.2,143.7 362.6,137.6 355.8,133.5 344,127.8 330.3,120.1 282.4,89.3 263.8,78 246.4,68.6 230.3,61.5 219.4,57.7 210.2,55.3 200.9,53.7 193.3,53.2 185.8,53.4 178.1,54.3 170.4,56.2 162.7,59.1 154.9,63.2 149,67.1 141.2,73.4 135.3,79.2 127.5,88.4 121.6,96.4 115.8,105.5 109.9,115.8Z" fill="#eaf200"/>
<path d="M109.9,115.8 117.1,119.1 126.2,124.1 135.4,129.9 144.7,136.5 163.7,151.6 187,172.4 212.9,197.6 239.5,225.3 266.6,255.3 296.3,289.7 311.7,290.3 330.1,290.4 357.1,289.1 370,287.8 381.3,286 391.3,283.8 400,281.4 407.6,278.7 415.7,275.1 422.7,271.3 429.5,266.4 435.2,261.4 439.7,256.2 443.8,250 446.8,243.7 448.9,235.5 449.3,231.1 449.1,227.2 448.3,223 446.9,218.9 442.8,211.2 436,202.7 420.1,186.3 417.3,181.9 388.6,157.6 371.2,143.7 359.2,135.5 342.5,127 330.3,120.1 280.7,88.3 262.1,77 244.6,67.7 228.5,60.8 219.4,57.7 210.2,55.3 200.9,53.7 193.3,53.2 185.8,53.4 178.1,54.3 170.4,56.2 162.7,59.1 154.9,63.2 149,67.1 141.2,73.4 135.3,79.2 127.5,88.4 121.6,96.4 115.8,105.5 109.9,115.8Z" fill="#f3f000"/>
<path d="M109.9,115.8 117.1,119.1 126.2,124.1 142.9,135.2 161.8,150 185.1,170.6 208.9,193.6 235.3,220.9 262.4,250.5 291,283.5 306.6,284.1 325.1,284.2 352.2,283 365.1,281.7 376.5,279.9 386.4,277.8 395.2,275.5 402.8,272.8 411,269.3 418,265.5 424.9,260.7 430.6,255.7 435.1,250.6 439.2,244.4 442.1,238.2 444.1,230.1 444.1,222.7 442.1,215.1 437.8,207.2 431.2,199.1 414.9,182.4 413,180.2 411.2,176.8 385.1,154.7 371.2,143.7 360.9,136.5 355.8,133.5 342.5,127 330.3,120.1 268.9,81 256.9,74.1 246.4,68.6 235.7,63.7 226.7,60.1 217.6,57.1 208.3,54.9 199,53.5 191.5,53.2 183.8,53.5 176.2,54.7 168.5,56.9 160.7,60 152.9,64.4 147.1,68.5 139.3,75.3 133.4,81.3 127.5,88.4 121.6,96.4 115.8,105.5 109.9,115.8Z" fill="#f8eb00"/>
<path d="M109.9,115.8 117.1,119.1 124.4,123 141,133.8 159.9,148.4 181.1,167 204.9,189.6 231.2,216.5 258.2,245.8 285.7,277.3 301.4,277.9 320,278.1 347.2,277 360.2,275.6 371.6,273.9 381.6,271.9 390.4,269.5 398,266.9 406.3,263.4 413.3,259.7 420.3,255 425.9,250 431.2,244.1 434.6,238.9 437.4,232.8 439.1,225 439,218 436.9,210.7 433.1,203.8 426.6,195.7 409.6,178.3 406.9,175.1 405.2,171.8 383.3,153.3 371.2,143.7 360.9,136.5 355.8,133.5 342.5,127 330.3,120.1 268.9,81 256.9,74.1 246.4,68.6 235.7,63.7 226.7,60.1 217.6,57.1 208.3,54.9 199,53.5 191.5,53.2 183.8,53.5 176.2,54.7 168.5,56.9 160.7,60 152.9,64.4 147.1,68.5 139.3,75.3 133.4,81.3 127.5,88.4 121.6,96.4 115.8,105.5 109.9,115.8Z" fill="#fae100"/>
<path d="M109.9,115.8 117.1,119.1 124.4,123 141,133.8 159.9,148.4 179.2,165.2 202.9,187.6 227.1,212.2 254,241.2 280.4,271.1 310.4,272 338.7,271.1 352.2,270 364,268.4 374.4,266.4 383.5,264.2 393.3,261.1 401.6,257.6 408.6,253.9 415.6,249.3 421.3,244.4 425.9,239.4 429.6,233.9 432.4,227.9 434,221 433.8,213.7 432,207.1 428.3,200.3 421.8,192.2 404.2,174.3 400.8,170 399.3,166.7 381.6,151.9 369.5,142.4 360.9,136.5 355.8,133.5 342.5,127 330.3,120.1 282.4,89.3 267.2,80 255.2,73.1 244.6,67.7 233.9,62.9 224.9,59.5 215.7,56.6 208.3,54.9 199,53.5 191.5,53.2 183.8,53.5 176.2,54.7 168.5,56.9 160.7,60 152.9,64.4 147.1,68.5 139.3,75.3 133.4,81.3 127.5,88.4 121.6,96.4 115.8,105.5 109.9,115.8Z" fill="#fbd200"/>
<path d="M109.9,115.8 117.1,119.1 124.4,123 141,133.8 158,146.8 177.2,163.4 198.9,183.7 223.1,208 247.8,234.3 275,264.9 305.2,265.8 333.6,265.1 347.2,263.9 359.1,262.4 369.5,260.5 378.6,258.3 388.5,255.2 396.9,251.8 403.9,248.2 411,243.6 416.6,238.8 421.2,233.8 424.6,228.7 427.4,222.7 428.9,215.6 428.6,209.2 426.7,202.6 423,196.1 416.3,187.9 398.9,170.2 394.8,164.9 393.4,161.7 378.1,149.1 367.8,141.2 359.2,135.5 342.5,127 330.3,120.1 282.4,89.3 265.5,79 253.4,72.2 242.9,66.9 232.1,62.2 223.1,58.8 213.9,56.2 206.5,54.6 197.1,53.4 189.6,53.2 181.9,53.7 174.3,55.2 166.5,57.5 158.8,61 151,65.7 145.1,70.1 139.3,75.3 133.4,81.3 127.5,88.4 121.6,96.4 115.8,105.5 109.9,115.8Z" fill="#fbc400"/>
<path d="M109.9,115.8 117.1,119.1 124.4,123 139.1,132.5 156.1,145.3 175.3,161.7 196.9,181.8 221,205.9 245.7,232 269.6,258.7 300,259.7 328.6,259 342.2,257.9 354.1,256.4 364.6,254.5 373.8,252.4 383.7,249.4 392.1,246 399.2,242.4 406.2,237.9 411.9,233.1 416.4,228.2 420.3,222.3 422.5,217.2 423.7,211 423.4,204.9 421.6,198.9 418.1,192.6 411.6,184.4 392.9,165.3 388.9,159.9 387.5,156.7 376.4,147.7 367.8,141.2 359.2,135.5 342.5,127 330.3,120.1 282.4,89.3 263.8,78 251.7,71.3 241.1,66.1 230.3,61.5 221.2,58.2 212,55.7 204.6,54.2 195.2,53.3 187.7,53.2 180,54 172.3,55.7 164.6,58.3 158.8,61 151,65.7 145.1,70.1 139.3,75.3 133.4,81.3 127.5,88.4 121.6,96.4 115.8,105.5 109.9,115.8Z" fill="#fcb500"/>
<path d="M109.9,115.8 117.1,119.1 124.4,123 139.1,132.5 156.1,145.3 173.4,159.9 194.9,179.9 217,201.7 239.5,225.3 264.2,252.5 294.7,253.5 323.5,252.9 337.2,251.9 349.2,250.4 359.7,248.6 368.9,246.5 378.9,243.5 387.3,240.2 394.4,236.7 401.5,232.2 407.2,227.5 411.6,222.6 415.2,217.2 417.4,211.8 418.4,206.4 418.2,201 416.6,195.5 413.7,189.8 410.8,185.6 406.8,180.9 387.2,160.8 383.3,155.5 381.4,151.7 376.4,147.7 367.8,141.2 359.2,135.5 342.5,127 330.3,120.1 282.4,89.3 263.8,78 251.7,71.3 241.1,66.1 230.3,61.5 221.2,58.2 212,55.7 204.6,54.2 195.2,53.3 187.7,53.2 180,54 172.3,55.7 164.6,58.3 158.8,61 151,65.7 145.1,70.1 139.3,75.3 133.4,81.3 127.5,88.4 121.6,96.4 115.8,105.5 109.9,115.8Z" fill="#fc9e00"/>
<path d="M109.9,115.8 122.5,122 137.3,131.2 154.2,143.8 171.4,158.2 191,176.1 212.9,197.6 235.3,220.9 258.7,246.3 289.4,247.4 318.3,246.9 332.1,245.9 344.2,244.4 354.8,242.7 364,240.6 372.2,238.3 380.9,235.1 388.3,231.7 395.6,227.3 401.5,222.7 406.1,217.9 409.9,212.3 412.1,207 413,201.8 412.8,196.7 411.4,191.7 408.7,186.2 405.9,182.1 401.9,177.3 381.7,156.5 377.8,151.4 374.7,146.3 366.1,140 359.2,135.5 342.5,127 330.3,120.1 280.7,88.3 262.1,77 249.9,70.4 239.3,65.2 228.5,60.8 219.4,57.7 210.2,55.3 202.7,54 195.2,53.3 187.7,53.2 180,54 172.3,55.7 164.6,58.3 158.8,61 151,65.7 145.1,70.1 139.3,75.3 133.4,81.3 127.5,88.4 121.6,96.4 115.8,105.5 109.9,115.8Z" fill="#fc8400"/>
<path d="M109.9,115.8 122.5,122 137.3,131.2 152.3,142.3 169.5,156.5 189,174.3 208.9,193.6 231.2,216.5 253.1,240.1 284,241.3 313.1,240.8 327,239.9 339.1,238.5 349.8,236.7 359.1,234.7 367.3,232.4 376.1,229.3 383.5,225.9 390.8,221.6 396.7,217 401.2,212.3 404.5,207.4 406.8,202.1 407.6,197.2 407.3,192 405.9,187.2 403.1,181.7 396.3,173 376.2,152.3 371.5,146.4 368.4,141.6 355.8,133.5 344,127.8 328.8,119.2 280.7,88.3 260.4,76 248.2,69.5 237.5,64.5 226.7,60.1 217.6,57.1 208.3,54.9 200.9,53.7 193.3,53.2 185.8,53.4 178.1,54.3 170.4,56.2 162.7,59.1 156.8,62.1 149,67.1 143.2,71.7 137.3,77.2 131.4,83.6 125.5,90.9 119.7,99.3 109.9,115.8Z" fill="#fd6800"/>
<path d="M109.9,115.8 122.5,122 135.4,129.9 150.4,140.8 167.6,154.9 185.1,170.6 204.9,189.6 225.1,210.1 247.5,234 278.6,235.2 307.9,234.8 321.8,233.9 334.1,232.5 344.8,230.8 354.1,228.9 362.3,226.6 371.2,223.5 378.6,220.2 385.9,215.9 391.7,211.4 396.2,206.7 399.4,201.9 401.4,196.9 402.1,191.7 401.5,186.4 399.9,181.7 396.8,176.2 390.8,168.7 373.1,150.6 360.6,136.3 355.8,133.5 342.5,127 330.3,120.1 279.1,87.2 258.6,75 248.2,69.5 237.5,64.5 226.7,60.1 217.6,57.1 208.3,54.9 200.9,53.7 193.3,53.2 185.8,53.4 178.1,54.3 170.4,56.2 162.7,59.1 156.8,62.1 149,67.1 143.2,71.7 137.3,77.2 131.4,83.6 125.5,90.9 119.7,99.3 109.9,115.8Z" fill="#fd4b00"/>
<path d="M109.9,115.8 122.5,122 135.4,129.9 150.4,140.8 165.6,153.2 183.1,168.8 200.9,185.7 221,205.9 241.8,227.8 273.1,229.1 302.6,228.8 316.6,227.9 328.9,226.6 339.7,224.9 349.1,223 357.4,220.8 366.2,217.8 373.6,214.5 381,210.2 385.9,206.5 390.5,201.9 393.8,197.1 395.8,192.2 396.5,187 395.9,181.8 393.9,176.4 390.8,171.3 383.1,162.1 358.8,137.1 354.7,133.4 353.2,132.3 341,126.2 328.8,119.2 280.7,88.3 258.6,75 246.4,68.6 235.7,63.7 224.9,59.5 215.7,56.6 206.5,54.6 199,53.5 191.5,53.2 183.8,53.5 176.2,54.7 170.4,56.2 162.7,59.1 156.8,62.1 149,67.1 143.2,71.7 137.3,77.2 131.4,83.6 125.5,90.9 119.7,99.3 109.9,115.8Z" fill="#fe2a00"/>
<path d="M109.9,115.8 120.7,121 133.6,128.7 146.6,137.9 161.8,150 179.2,165.2 196.9,181.8 217,201.7 236.1,221.7 267.6,223 297.3,222.8 311.4,221.9 323.8,220.6 334.6,219 344,217.1 352.3,215 361.2,212 368.6,208.7 375.9,204.6 380.8,200.9 385.3,196.3 388.5,191.6 390.4,186.6 390.8,181.5 390,176.4 388.1,171.7 384.6,166.2 380.2,160.8 374.6,154.8 356.8,137 350.5,131.6 327.3,118.2 279.1,87.2 256.9,74.1 244.6,67.7 233.9,62.9 223.1,58.8 213.9,56.2 206.5,54.6 199,53.5 191.5,53.2 183.8,53.5 176.2,54.7 170.4,56.2 162.7,59.1 156.8,62.1 149,67.1 143.2,71.7 137.3,77.2 131.4,83.6 125.5,90.9 119.7,99.3 109.9,115.8Z" fill="#ff1200"/>
<path d="M109.9,115.8 120.7,121 133.6,128.7 146.6,137.9 159.9,148.4 175.3,161.7 192.9,178 210.9,195.6 230.3,215.5 262,216.9 291.9,216.7 306.1,215.9 318.5,214.7 329.4,213.1 338.9,211.3 347.2,209.2 356.1,206.2 363.6,203 369.8,199.6 374.8,196 379.5,191.5 382.7,186.8 384.6,181.9 385.1,177.6 384.4,172.5 382.3,167.1 378.9,161.8 374,155.7 366.6,148 353.8,135.6 347.4,130.1 322.6,115.4 275.7,85.1 256.9,74.1 244.6,67.7 233.9,62.9 223.1,58.8 212,55.7 204.6,54.2 197.1,53.4 189.6,53.2 181.9,53.7 174.3,55.2 168.5,56.9 160.7,60 154.9,63.2 149,67.1 143.2,71.7 137.3,77.2 131.4,83.6 125.5,90.9 119.7,99.3 109.9,115.8Z" fill="#ff0400"/>
<path d="M109.9,115.8 120.7,121 131.7,127.5 144.7,136.5 158,146.8 173.4,159.9 189,174.3 206.9,191.6 224.4,209.4 256.4,210.9 286.5,210.7 310.3,209.1 321.6,207.7 331.5,205.9 340.1,203.9 349.3,201.1 357.1,198 363.5,194.6 368.7,191.1 373.5,186.6 376.8,182 378.8,177.2 379.3,173 378.6,167.9 376.7,163 373.6,158 369,152.2 361.4,144.1 351,134 344.4,128.6 321.1,114.4 277.4,86.2 256.9,74.1 244.6,67.7 233.9,62.9 223.1,58.8 212,55.7 204.6,54.2 197.1,53.4 189.6,53.2 181.9,53.7 174.3,55.2 168.5,56.9 160.7,60 154.9,63.2 149,67.1 143.2,71.7 137.3,77.2 131.4,83.6 125.5,90.9 119.7,99.3 109.9,115.8Z" fill="#ff0000"/>
<path d="M109.9,115.8 120.7,121 131.7,127.5 142.9,135.2 156.1,145.3 169.5,156.5 185.1,170.6 200.9,185.7 218.4,203.3 250.7,204.8 281,204.7 304.9,203.2 316.3,201.8 326.2,200 336.9,197.5 345.8,194.7 353.2,191.6 359.4,188.2 364.3,184.7 368.7,180.3 371.5,176.1 373.1,171.6 373.4,167.5 372.6,162.8 370.9,158.5 367.8,153.4 362.7,147.1 355.6,139.6 347.3,131.7 340.8,126.4 319.5,113.4 277.4,86.2 256.9,74.1 244.6,67.7 232.1,62.2 221.2,58.2 210.2,55.3 202.7,54 195.2,53.3 187.7,53.2 180,54 172.3,55.7 166.5,57.5 160.7,60 154.9,63.2 149,67.1 143.2,71.7 137.3,77.2 131.4,83.6 125.5,90.9 119.7,99.3 109.9,115.8Z" fill="#ff0000"/>
<path d="M109.9,115.8 118.9,120 129.9,126.3 141,133.8 154.2,143.8 167.6,154.9 181.1,167 196.9,181.8 212.4,197.1 245,198.7 275.4,198.7 299.5,197.2 310.9,195.9 320.9,194.2 329.6,192.2 338.9,189.5 346.6,186.5 352.9,183.2 358,179.8 362.6,175.4 365.4,171.5 367.1,166.9 367.4,162.8 366.7,158.3 365.1,154.1 361.9,148.9 357.1,142.8 350.7,136 343.2,129 337.3,124.2 319.5,113.4 277.4,86.2 255.2,73.1 242.9,66.9 230.3,61.5 219.4,57.7 208.3,54.9 200.9,53.7 193.3,53.2 185.8,53.4 180,54 172.3,55.7 166.5,57.5 160.7,60 154.9,63.2 149,67.1 143.2,71.7 137.3,77.2 131.4,83.6 125.5,90.9 119.7,99.3 109.9,115.8Z" fill="#ff0000"/>
<path d="M109.9,115.8 118.9,120 129.9,126.3 141,133.8 152.3,142.3 163.7,151.6 177.2,163.4 206.3,191 239.1,192.7 269.8,192.7 294,191.3 305.5,190 315.5,188.3 324.2,186.4 333.5,183.7 341.2,180.8 347.5,177.5 352.6,174.1 357.1,169.8 359.7,165.7 361.2,161.3 361.4,157.2 360.5,153 358.7,148.7 356,144.3 351.4,138.5 345.1,131.8 339,126.1 333,121.4 321.1,114.4 275.7,85.1 253.4,72.2 241.1,66.1 228.5,60.8 217.6,57.1 206.5,54.6 199,53.5 191.5,53.2 183.8,53.5 178.1,54.3 170.4,56.2 164.6,58.3 158.8,61 152.9,64.4 147.1,68.5 141.2,73.4 135.3,79.2 129.5,85.9 119.7,99.3 109.9,115.8Z" fill="#ff0000"/>
<path d="M109.9,115.8 118.9,120 128,125.2 137.3,131.2 148.5,139.3 159.9,148.4 173.4,159.9 200.1,184.9 233.2,186.6 264.1,186.8 288.5,185.4 300,184.1 310.1,182.5 318.8,180.6 328.1,178 335.8,175 342.1,171.9 347,168.5 351.4,164.2 354,160 355.2,155.8 355.2,151.7 354.3,147.7 352.5,143.7 349.7,139.2 345.2,133.6 339.5,127.6 334,122.6 328.7,118.5 320.2,113.9 274,84.1 251.7,71.3 239.3,65.2 226.7,60.1 215.7,56.6 204.6,54.2 197.1,53.4 191.5,53.2 183.8,53.5 178.1,54.3 170.4,56.2 164.6,58.3 158.8,61 152.9,64.4 147.1,68.5 141.2,73.4 135.3,79.2 129.5,85.9 119.7,99.3 109.9,115.8Z" fill="#fb0000"/>
<path d="M109.9,115.8 118.9,120 128,125.2 137.3,131.2 146.6,137.9 158,146.8 169.5,156.5 193.7,178.7 227.3,180.6 258.4,180.8 282.9,179.5 294.5,178.2 304.6,176.7 313.3,174.8 322.6,172.2 330.3,169.3 336.5,166.2 341.4,162.8 345.1,159.3 347.6,155.5 349.1,151 349.1,147 348.3,143.3 346.6,139.3 343.9,134.8 339.5,129.2 334.5,124 329.4,119.4 324.4,115.7 315.8,111 272.3,83 260.4,76 248.2,69.5 235.7,63.7 224.9,59.5 213.9,56.2 202.7,54 195.2,53.3 189.6,53.2 181.9,53.7 176.2,54.7 168.5,56.9 162.7,59.1 156.8,62.1 151,65.7 145.1,70.1 139.3,75.3 129.5,85.9 119.7,99.3 109.9,115.8Z" fill="#f70000"/>
<path d="M109.9,115.8 117.1,119.1 126.2,124.1 135.4,129.9 144.7,136.5 165.6,153.2 187.2,172.6 221.2,174.5 252.5,174.8 277.2,173.6 299,170.8 307.8,169 317.1,166.5 324.7,163.6 330.9,160.5 335.7,157.2 339.2,153.7 341.6,149.9 342.9,145.4 343,142.2 342.1,138.1 340.3,134.1 338.1,130.4 334.3,125.6 330.1,121 325.4,116.7 320.5,113.1 311.4,108.2 270.6,82 248.2,69.5 235.7,63.7 224.9,59.5 213.9,56.2 202.7,54 195.2,53.3 189.6,53.2 181.9,53.7 176.2,54.7 168.5,56.9 162.7,59.1 156.8,62.1 151,65.7 145.1,70.1 139.3,75.3 129.5,85.9 119.7,99.3 109.9,115.8Z" fill="#f30000"/>
<path d="M109.9,115.8 117.1,119.1 124.4,123 141,133.8 159.9,148.4 180.6,166.4 215.1,168.5 242.6,168.9 268.3,167.9 290.9,165.4 300,163.7 309.7,161.2 317.6,158.5 324,155.4 329,152.2 332.7,148.8 335.6,144.4 336.7,140.4 336.7,136.9 335.9,133.5 334.2,129.4 331.7,125.4 328.2,120.9 324.4,116.8 320.2,113.1 315.6,109.8 307,105.3 284.1,90.4 267.2,80 255.2,73.1 244.6,67.7 232.1,62.2 221.2,58.2 210.2,55.3 200.9,53.7 193.3,53.2 187.7,53.2 180,54 174.3,55.2 168.5,56.9 162.7,59.1 156.8,62.1 151,65.7 145.1,70.1 139.3,75.3 129.5,85.9 119.7,99.3 109.9,115.8Z" fill="#f00000"/>
<path d="M109.9,115.8 117.1,119.1 124.4,123 139.1,132.5 156.1,145.3 173.7,160.2 208.8,162.4 236.6,162.9 262.4,162 285.2,159.6 294.3,157.9 304,155.5 311.9,152.7 318.2,149.8 323.2,146.5 326.8,143.1 329.1,139.6 330.4,135.1 330.4,132 329.6,128.4 328.1,124.7 325.9,121.1 322.8,117 319.2,113.2 315.1,109.7 310.9,106.7 302.5,102.3 280.7,88.3 265.5,79 253.4,72.2 242.9,66.9 230.3,61.5 219.4,57.7 208.3,54.9 199,53.5 191.5,53.2 185.8,53.4 174.3,55.2 168.5,56.9 162.7,59.1 156.8,62.1 151,65.7 145.1,70.1 139.3,75.3 129.5,85.9 119.7,99.3 109.9,115.8Z" fill="#ec0000"/>
<path d="M109.9,115.8 122.5,122 135.4,129.9 150.4,140.8 166.6,154 185.7,155.5 217.3,156.9 242.5,156.8 265.9,155.4 286.4,152.5 294.6,150.7 301.6,148.7 307.5,146.5 313.5,143.5 318,140.2 321.3,136.8 323.3,133.3 324.1,129.5 323.7,124.8 321.5,119.3 317.5,113.5 312.6,108.4 306.7,103.9 298,99.4 268.9,81 248.2,69.5 230.3,61.5 221.2,58.2 213.9,56.2 204.6,54.2 197.1,53.4 189.6,53.2 183.8,53.5 172.3,55.7 166.5,57.5 160.7,60 154.9,63.2 149,67.1 139.3,75.3 129.5,85.9 119.7,99.3 109.9,115.8Z" fill="#e80000"/>
<path d="M109.9,115.8 120.7,121 131.7,127.5 144.7,136.5 159.1,147.8 178.9,149.4 201.1,150.6 228.5,151 250.6,150.2 271,148.3 286.8,145.4 294,143.5 300.2,141.3 305.3,139 309.5,136.5 312.7,134 315.6,130.5 317,127.7 317.8,124 317.3,119.4 315.2,114.5 311.5,109.1 306.6,104.3 301.2,100.4 293.5,96.4 263.8,78 244.6,67.7 235.7,63.7 226.7,60.1 217.6,57.1 210.2,55.3 202.7,54 195.2,53.3 187.7,53.2 181.9,53.7 176.2,54.7 170.4,56.2 164.6,58.3 158.8,61 149,67.1 139.3,75.3 129.5,85.9 119.7,99.3 109.9,115.8Z" fill="#e40000"/>
<path d="M109.9,115.8 118.9,120 129.9,126.3 141,133.8 151.3,141.5 183.7,144 213.7,145 234,144.8 253.9,143.7 270,141.7 284.6,138.7 295.6,135.1 300.4,132.7 304.3,130.3 307.3,127.7 309.4,125 310.8,121.8 311.4,118.5 310.7,113.9 308.8,109.5 305.5,104.9 301.2,100.7 296.6,97.4 288.9,93.5 272.3,83 256.9,74.1 237.5,64.5 221.2,58.2 213.9,56.2 206.5,54.6 199,53.5 191.5,53.2 180,54 174.3,55.2 168.5,56.9 162.7,59.1 156.8,62.1 147.1,68.5 137.3,77.2 127.5,88.4 117.7,102.3 109.9,115.8Z" fill="#de0000"/>
<path d="M109.9,115.8 117.1,119.1 126.2,124.1 142.7,135.1 164.4,137.1 182.4,138.2 202.7,139 220.1,139.1 238.4,138.5 256.4,137 270.8,134.8 282.1,132 292.1,128.3 299,124 301.7,121.4 303.5,118.7 304.6,115.9 304.9,113 304.2,108.7 302.3,104.5 298.9,100 295,96.5 290.6,93.6 284.2,90.5 265.5,79 251.7,71.3 233.9,62.9 217.6,57.1 210.2,55.3 202.7,54 195.2,53.3 189.6,53.2 178.1,54.3 172.3,55.7 166.5,57.5 156.8,62.1 147.1,68.5 137.3,77.2 127.5,88.4 117.7,102.3 109.9,115.8Z" fill="#d70000"/>
<path d="M109.9,115.8 120.7,121 133.2,128.4 156.6,130.8 180.8,132.4 205.2,133.1 228.7,132.8 244.7,131.7 257.9,130.2 270.7,127.7 280.7,124.8 288.2,121.4 294.2,117.1 295.9,115.2 297.5,112.5 298.2,110.4 298.4,107.5 297.7,103.8 295.9,99.9 293.2,96.4 289.4,93 260.4,76 246.4,68.6 230.3,61.5 215.7,56.6 208.3,54.9 200.9,53.7 193.3,53.2 187.7,53.2 176.2,54.7 170.4,56.2 164.6,58.3 154.9,63.2 145.1,70.1 135.3,79.2 127.5,88.4 117.7,102.3 109.9,115.8Z" fill="#d00000"/>
<path d="M109.9,115.8 121.6,121.4 155.1,125.1 179,126.6 198.5,127.2 218.8,127 235.4,126.1 249.2,124.7 260.6,122.8 269.9,120.6 278.5,117.5 284.8,114 289,110.3 291.3,106.2 291.8,102 291,98.6 289.3,95.3 286.7,92.1 282.8,88.9 256.9,74.1 241.1,66.1 226.7,60.1 212,55.7 199,53.5 191.5,53.2 185.8,53.4 174.3,55.2 164.6,58.3 154.9,63.2 145.1,70.1 135.3,79.2 127.5,88.4 117.7,102.3 109.9,115.8Z" fill="#c90000"/>
<path d="M111.9,112.2 110.7,114.3 119,115.6 139.7,118.1 165.9,120.2 182.1,120.9 200.4,121.3 215.9,121 232.1,120.1 243,118.9 254.4,117.1 263.6,114.9 272.3,111.8 277.6,109 282,105.3 284.5,101.4 285.1,97.2 284.5,94.3 282.9,91.1 280.3,88.1 276.9,85.3 251.7,71.3 235.7,63.7 221.2,58.2 208.3,54.9 195.2,53.3 183.8,53.5 174.3,55.2 164.6,58.3 154.9,63.2 145.1,70.1 135.3,79.2 127.5,88.4 119.7,99.3 111.9,112.2Z" fill="#c20000"/>
<path d="M113.8,108.8 113.6,109.2 115.7,109.5 136.4,112.1 157.7,114 174.7,114.9 205.5,115.2 219.5,114.7 231.3,113.7 241.5,112.5 252,110.5 260.5,108.3 267.1,105.7 272.1,102.8 275.5,99.8 277.8,95.9 278.3,92.2 277.6,89.4 276,86.6 273.6,83.9 270.8,81.8 248.2,69.5 232.1,62.2 219.4,57.7 206.5,54.6 195.2,53.3 183.8,53.5 174.3,55.2 164.6,58.3 154.9,63.2 147.1,68.5 137.3,77.2 129.5,85.9 121.6,96.4 113.8,108.8Z" fill="#bb0000"/>
<path d="M117.7,102.3 116.7,104 123,104.9 141.6,107 166.9,108.8 198.7,109.3 212.8,108.8 224.8,108 235,106.7 245.6,104.8 252.5,103.1 259.5,100.6 264.7,97.8 268.4,94.8 270.6,91.7 271.2,89.7 271.3,87.6 270.8,85.2 269.4,82.7 267.3,80.4 264.5,78.3 246.4,68.6 230.3,61.5 217.6,57.1 206.5,54.6 195.2,53.3 183.8,53.5 174.3,55.2 166.5,57.5 156.8,62.1 149,67.1 141.2,73.4 133.4,81.3 125.5,90.9 117.7,102.3Z" fill="#b40000"/>
<path d="M121.6,96.4 120,98.8 138.3,101 158.4,102.6 174.2,103.2 191.5,103.4 205.9,103 218.1,102.2 228.4,101 239.1,99.1 246,97.4 252.9,94.9 258.1,92.2 261.6,89.3 263.7,86.1 264.1,82.8 263.5,80.4 261.9,78 259.5,75.8 256.3,73.8 241.1,66.1 226.7,60.1 215.7,56.6 204.6,54.2 193.3,53.2 183.8,53.5 174.3,55.2 166.5,57.5 158.8,61 151,65.7 143.2,71.7 135.3,79.2 127.5,88.4 121.6,96.4Z" fill="#a90000"/>
<path d="M123.6,93.6 148.8,96.2 175.5,97.4 198.9,97.1 219.2,95.5 228.4,94.2 236,92.6 242.3,90.8 247.4,88.8 251.3,86.6 254.7,83.7 256.3,81 256.7,78.2 255.9,75.8 254.5,73.9 249.6,70.3 235.7,63.7 223.1,58.8 212,55.7 200.9,53.7 191.5,53.2 181.9,53.7 174.3,55.2 166.5,57.5 158.8,61 151,65.7 143.2,71.7 137.3,77.2 129.5,85.9 123.6,93.6Z" fill="#9b0000"/>
<path d="M129.5,85.9 127.5,88.3 144,90 156.7,90.8 184.1,91.4 198.1,90.9 209.6,90 219.3,88.8 227.4,87.3 234,85.6 239.3,83.7 243.4,81.6 247,78.7 248.6,76.3 248.9,73.6 248.1,71.6 246.9,70 242.3,66.7 230.3,61.5 219.4,57.7 210.2,55.3 200.9,53.7 191.5,53.2 183.8,53.5 176.2,54.7 168.5,56.9 160.7,60 154.9,63.2 147.1,68.5 141.2,73.4 135.3,79.2 129.5,85.9Z" fill="#8e0000"/>
<path d="M133.4,81.3 131.9,83 145.7,84.3 162.6,85.1 183.6,85.2 204.9,83.9 220.3,81.6 231,78.5 235.3,76.5 238.4,74.3 240.2,71.9 240.6,69.4 240.1,67.9 239.1,66.5 235.1,63.4 226.7,60.1 217.6,57.1 208.3,54.9 200.9,53.7 191.5,53.2 183.8,53.5 176.2,54.7 170.4,56.2 162.7,59.1 156.8,62.1 151,65.7 145.1,70.1 139.3,75.3 133.4,81.3Z" fill="#810000"/>
<path d="M137.3,77.2 137,77.5 151.9,78.7 171,79.2 188.7,78.7 202.2,77.5 214.6,75.4 224.6,72.3 228.4,70.2 230.4,68.6 231.5,66.8 231.7,64.9 230.8,63.2 227.9,60.5 219.4,57.7 212,55.7 204.6,54.2 197.1,53.4 189.6,53.2 181.9,53.7 176.2,54.7 170.4,56.2 164.6,58.3 158.8,61 152.9,64.4 147.1,68.5 137.3,77.2Z" fill="#730000"/>
<path d="M143.2,71.7 142.9,71.9 143.9,72 155.7,72.7 173,72.9 186,72.4 198.7,71 208.3,69.2 216.5,66.5 220.6,63.9 221.6,62.5 221.8,60.8 220.9,58.8 219.8,57.8 206.5,54.6 193.3,53.2 181.9,53.7 172.3,55.7 162.7,59.1 152.9,64.4 143.2,71.7Z" fill="#660000"/>
<path d="M151,65.7 150.4,66.1 153.2,66.2 169.6,66.4 182.2,65.8 191.9,64.8 199.4,63.3 206.2,61.1 209.5,59 210.3,57.9 210.7,56.4 210.2,55.3 197.1,53.4 187.7,53.2 180,54 172.3,55.7 164.6,58.3 156.8,62.1 151,65.7Z" fill="#590000"/>
<path d="M397.2,414.9 401.9,415.1M546.5,344.6 543.5,339.2 541.4,331.9 540,324.4 536.6,303 533.3,288.7 532.8,284.8M359.6,367.9 379.4,368.3 401.2,368 420.3,366.7 435.1,365.1M496.3,336.9 498.4,332.1 500.6,325.5 503.9,312.6 506.1,298 506.8,285.7 506.1,275.9 504.3,267.2 501.5,259.5 497.3,251.4 495.8,247.5M323.1,322.2 347.5,322.8 368.4,322.2 386.2,320.8 404.2,318.2 419,314.7 425.4,312.7 432.8,309.9 437.8,307.5 443.6,304.3 448.6,300.9 453,297.4 457.6,292.9 461.5,288.3 465.3,282.7 468.3,277 470.7,271.3 472.8,264.7 473.9,258 474.2,252.2 473.8,247.4 472.8,242.6 471.1,237.3 468.8,232.6 463.6,224.7 453.2,212.9 450.5,209.1M285.7,277.3 311,278.1 332.4,277.8 353.9,276.4 371.6,273.9 379.2,272.4 388.3,270.1 401.5,265.6 407.8,262.7 413.3,259.7 418.1,256.6 423.3,252.5 427.6,248.4 431.2,244.1 434.5,239 436.7,234.5 438.2,230.1 439.1,225 439.2,220.2 438.5,215.8 437.6,212.6 436,208.7 431.5,201.5 425.6,194.7 409.9,178.7 406.9,175.1 405.2,171.8M246.3,232.8 272.7,233.9 299.1,233.9 320.8,232.7 338.6,230.5 355.3,227.1 368.5,223 374.8,220.4 380.2,217.7 384.9,214.8 389.9,211.1 393.1,208 396.4,204 398.4,200.7 400,196.8 400.8,193.2 401,188.9 400.4,185.3 399.1,181.6 396.1,176 391,169.4 372.6,150.5 361.5,137.9 358.8,135.2M203.8,188.5 226.6,189.9 250.9,190.5 271.3,190.2 291.8,188.9 308.5,186.9 324.1,183.6 336.2,179.7 341.7,177.2 346.5,174.6 350.4,171.9 353.5,169 355.9,166.1 357.6,163 358.7,159.9 359,156.4 358.6,152.8 357.5,149.4 355.1,144.8 352.1,140.3 347.8,135.3 342.5,129.7 337.3,124.9 332.9,121.4 328.7,118.6 322.9,115.5M154.5,144 174.7,145.7 197.2,146.9 220.6,147.4 240.1,147.1 256.3,146 272.4,144.1 285.2,141.5 295.2,138.5 299.3,136.8 303.9,134.4 306.7,132.5 309.7,129.9 311.9,127.2 313.3,124.4 313.9,121.4 313.9,118.7 313.1,115.3 311.7,112 309.2,108.2 306.4,104.9 303.1,101.9 299.3,99.1 290.7,94.7M119.3,99.9 132.5,101.5 154.2,103.4 170.8,104.3 184.8,104.6 200.5,104.4 213.7,103.8 227.3,102.5 238.4,100.7 247.3,98.5 255.4,95.5 261,92.2 263,90.4 264.4,88.5 265.3,86.6 265.6,84.6 265.4,82.5 264.5,80.3 262.6,78 260.7,76.4 254.8,72.9" fill="none" stroke="#1a0c00" stroke-opacity="0.36" stroke-width="0.9"/>
<path d="M130.8,109 137.2,99.4 143.7,91.1 150.2,84.1 156.7,78.1 163.1,73.1 169.6,69.1 176,65.9 182.4,63.4 188.7,61.7 201.3,60.2 213.8,60.7 226,63 238.1,66.6 250,71.3 261.6,76.9 284.3,89.7 342.6,127.5 362.4,138.8M131.2,96.2 143.3,103 155.6,111.3 168,120.7 180.6,131.1 193.4,142.3 213,160.5 246.3,193.9 280.7,231.1 308.9,263.5 337.7,298.3 405,381.6M136.8,112.6 143.3,103 149.8,94.8 156.3,87.7 162.7,81.7 169.2,76.8 175.6,72.8 182,69.6 188.4,67.2 194.8,65.5 207.3,63.9 219.8,64.5 232,66.7 244.1,70.4 255.9,75.1 273.3,83.7 284.6,90.1 301.3,100.4 348.4,131.5 368.1,143M137.7,87.9 149.8,94.8 162,103.1 174.5,112.5 187.1,122.9 219.4,152.2 252.8,185.4 287.1,222.3 315.3,254.6 344.1,289.3 411.3,372.2M142.9,116.5 149.4,107 155.9,98.8 162.4,91.7 168.8,85.8 175.3,80.8 181.7,76.8 188.1,73.6 194.5,71.2 200.9,69.5 213.4,68 225.8,68.5 238.1,70.8 250.1,74.4 261.9,79.1 279.3,87.7 301.7,100.9 354.2,135.7 373.9,147.5M144.2,80.8 156.3,87.7 168.5,96 181,105.5 193.6,115.9 225.9,145.1 259.2,178.1 293.5,214.8 321.7,246.9 350.4,281.5 417.5,364M149.1,120.8 155.6,111.3 162,103.1 168.5,96 175,90.1 181.4,85.2 187.9,81.2 194.3,78 200.7,75.6 207,73.9 219.5,72.4 231.9,72.9 244.1,75.2 256.2,78.8 268,83.5 285.3,92 307.6,105.2 360,140.2 379.6,152.1M150.6,74.8 162.7,81.7 175,90.1 187.4,99.6 200.1,110 232.3,139 252.2,158.3 272.4,178.8 299.9,208.3 328,240.3 349.5,266 401,329.6 423.7,356.9M155.3,125.4 161.8,115.9 168.2,107.7 174.7,100.6 181.2,94.7 187.6,89.8 194.1,85.8 200.5,82.6 206.8,80.2 213.2,78.5 225.7,77 238.1,77.5 250.3,79.8 262.3,83.4 274,88 291.3,96.6 302.6,103 319.1,113.2 365.8,144.8 385.4,157M157.1,69.8 169.2,76.8 181.4,85.2 206.5,105 238.7,134 258.6,153.2 278.7,173.6 306.2,202.9 334.3,234.8 355.7,260.3 407.1,323.8 429.8,350.9M161.5,130.2 168,120.7 174.5,112.5 181,105.5 187.4,99.6 193.9,94.6 200.3,90.6 206.7,87.5 213.1,85.1 219.4,83.4 231.9,81.8 244.3,82.4 256.4,84.6 268.4,88.2 280.1,92.8 297.4,101.3 308.6,107.6 325.1,117.9 371.7,149.5 391.2,161.8M163.5,65.8 175.6,72.8 187.9,81.2 212.9,101 245.1,129.9 264.9,148.9 285.1,169.2 312.5,198.3 340.5,230.1 369.1,264.4 420.7,327.9 435.8,345.7M167.8,135.3 174.3,125.8 180.8,117.6 187.3,110.6 193.7,104.7 200.2,99.7 206.6,95.7 213,92.6 219.3,90.2 225.6,88.5 238.2,86.9 250.5,87.4 262.6,89.6 274.6,93.1 286.3,97.7 303.5,106.1 314.7,112.5 331.1,122.7 377.6,154.3 397.1,166.8M170,62.5 182,69.6 194.3,78 219.3,97.8 251.5,126.6 271.2,145.5 291.4,165.6 318.7,194.6 346.7,226.2 375.3,260.4 419.3,314.7 441.8,341.4M174.1,140.6 180.6,131.1 187.1,122.9 193.6,115.9 200.1,110 206.5,105 212.9,101 219.3,97.8 225.6,95.4 232,93.7 244.4,92.1 256.8,92.6 268.9,94.7 280.8,98.2 292.5,102.8 309.6,111.1 320.8,117.4 337.2,127.5 388.4,162.5 402.9,171.7M176.4,60.1 188.4,67.2 200.7,75.6 225.6,95.4 257.8,124.1 277.5,142.8 297.6,162.8 324.9,191.6 352.8,223.1 381.3,257.2 425.2,311.4 447.7,337.9M180.5,146.1 187,136.6 193.5,128.4 200,121.4 206.4,115.4 212.9,110.5 219.3,106.5 225.7,103.3 232,100.9 238.3,99.1 250.8,97.5 263,97.9 275.1,100 287,103.4 298.7,107.9 315.8,116.2 326.9,122.4 343.3,132.5 394.4,167.4 408.8,176.7M182.7,58.4 194.8,65.5 207,73.9 232,93.7 264,122.2 283.7,140.9 303.8,160.7 331,189.3 358.9,220.7 387.3,254.7 431.1,308.7 453.5,335M186.9,151.9 193.4,142.3 199.9,134.1 206.4,127.1 212.9,121.1 219.3,116.1 225.7,112.1 232,108.9 238.4,106.4 244.7,104.7 257.1,103 269.4,103.4 281.4,105.4 293.3,108.8 304.9,113.2 322,121.4 338.6,130.8 354.7,141 400.4,172.3 414.8,181.6M189,57.3 201.1,64.4 213.3,72.8 238.2,92.6 257.3,109.2 276.8,127 296.5,145.9 316.7,166.1 344,195.2 364.9,218.9 386.1,244.1 437,306.6 459.3,332.7M193.4,157.8 199.9,148.2 206.4,140 212.9,132.9 219.3,126.9 225.7,121.9 232.1,117.9 238.5,114.7 244.8,112.2 251.1,110.4 263.5,108.7 275.8,109 287.8,110.9 299.6,114.2 311.2,118.6 328.3,126.6 344.8,135.9 360.9,146 420.7,186.5M195.3,56.8 207.3,63.9 219.5,72.4 244.4,92.1 263.5,108.7 282.9,126.3 302.7,145.1 322.7,165.1 350,194 370.9,217.6 392.1,242.7 442.7,305 465,330.9M199.9,163.9 206.4,154.3 212.9,146 219.4,138.9 225.8,132.9 232.2,127.9 238.6,123.8 245,120.6 251.3,118 257.5,116.2 269.9,114.4 282.2,114.7 294.2,116.5 311.8,121.8 323.3,126.5 340.1,134.9 367,151.1 426.7,191.5M201.6,56.8 213.6,63.9 225.8,72.4 250.6,92.1 289,126.1 308.7,144.8 328.8,164.6 356,193.4 376.8,216.8 397.9,241.8 448.4,304 470.7,329.6M206.5,170.1 213,160.5 219.4,152.2 225.9,145.1 232.3,139 238.7,134 245.1,129.9 251.5,126.6 257.8,124.1 264,122.2 276.4,120.3 288.6,120.5 300.6,122.3 318.2,127.4 329.6,132 346.4,140.2 373.3,156.2 432.7,196.4M207.8,57.3 219.8,64.5 231.9,72.9 256.8,92.6 295.1,126.4 314.7,144.9 334.7,164.6 361.9,193.1 382.6,216.4 403.7,241.4 454.1,303.3 476.3,328.7M213.1,176.5 219.5,166.9 226,158.6 232.5,151.4 238.9,145.3 245.3,140.2 251.7,136.1 258,132.8 264.3,130.2 270.6,128.3 282.9,126.3 295.1,126.4 307,128.1 324.6,133.1 336,137.6 352.7,145.7 368.9,154.9 384.7,164.8 438.8,201.3M213.9,58.3 225.9,65.4 238.1,73.9 262.8,93.5 301.1,127.1 320.7,145.4 340.6,164.9 367.7,193.3 388.4,216.5 409.4,241.4 459.7,303 481.8,328.2M219.7,183.1 226.2,173.4 232.6,165.1 239.1,157.9 245.5,151.7 251.9,146.6 258.3,142.4 264.6,139.1 270.9,136.4 277.1,134.5 289.5,132.5 301.6,132.4 313.5,134 331,138.8 342.4,143.3 359.1,151.2 375.3,160.2 391,170 444.8,206.2M220.1,59.6 232,66.7 244.1,75.2 268.9,94.7 307,128.1 326.6,146.3 346.5,165.7 373.5,193.8 394.2,216.9 415.1,241.6 465.2,303.1 487.3,328.1M226.4,189.8 232.8,180.1 239.3,171.7 245.8,164.5 252.2,158.3 258.6,153.2 264.9,148.9 271.2,145.5 277.5,142.8 283.7,140.9 296,138.7 308.1,138.6 320,140.1 337.5,144.7 348.8,149 365.5,156.8 381.6,165.7 397.3,175.3 451,211.1M226.1,61.3 238.1,68.4 250.2,76.8 274.8,96.3 312.9,129.5 332.5,147.5 352.3,166.7 379.3,194.6 399.9,217.6 420.7,242.2 470.7,303.4 492.7,328.2M233.1,196.7 239.6,187 246,178.5 252.5,171.2 258.9,165 265.3,159.8 271.6,155.5 277.9,152.1 284.2,149.4 290.4,147.3 302.7,145.1 314.7,144.9 326.6,146.3 344,150.8 355.3,154.9 371.9,162.5 388,171.2 403.6,180.7 457.1,216.1M232.1,63.2 244.1,70.4 256.2,78.8 280.8,98.2 318.8,131.1 338.3,149 358.1,168 384.9,195.8 405.5,218.6 426.3,243.1 476.1,304 498,328.6M239.8,203.7 246.3,193.9 252.8,185.4 259.2,178.1 265.6,171.9 272,166.6 278.3,162.3 284.6,158.8 290.9,156 297.1,154 309.3,151.6 321.4,151.3 333.2,152.6 350.5,156.9 361.8,161 378.4,168.4 394.4,176.9 409.9,186.2 463.3,221.2M238.1,65.5 250,72.6 262.1,81 274.3,90.4 292.9,105.6 318.2,127.4 337.5,144.7 370.4,176.2 390.6,197.1 411,219.8 431.8,244.2 481.4,304.8 503.3,329.1M246.6,210.9 253.1,201.1 259.6,192.5 266,185.1 272.4,178.8 278.7,173.6 285.1,169.2 291.4,165.6 297.6,162.8 303.8,160.7 316,158.3 328,157.9 339.8,159.1 357.1,163.2 368.4,167.1 384.8,174.4 400.8,182.7 416.3,191.8 469.5,226.4M244,68 255.9,75.1 268,83.5 298.7,107.9 343.2,146.8 376,178 396.1,198.7 416.5,221.3 437.2,245.6 486.7,305.9 508.5,329.9M253.5,218.2 259.9,208.3 266.4,199.7 272.8,192.3 279.2,186 285.6,180.7 291.9,176.2 298.1,172.6 304.4,169.8 310.5,167.6 322.7,165.1 334.7,164.6 346.5,165.7 363.7,169.6 375,173.5 391.4,180.5 407.3,188.7 422.8,197.6 475.7,231.8M249.9,70.7 261.8,77.8 273.8,86.2 304.5,110.5 348.8,149 381.6,179.9 401.6,200.5 422,222.9 442.6,247.1 491.9,307.1 513.7,330.9M260.3,225.7 266.8,215.8 273.3,207.1 279.7,199.7 286,193.3 292.4,187.9 298.7,183.4 305,179.8 311.2,176.9 317.3,174.7 329.5,172.1 341.5,171.5 353.2,172.4 370.4,176.2 381.6,179.9 397.9,186.8 413.8,194.8 429.2,203.6 482,237.2M255.7,73.5 267.6,80.6 279.6,89 310.2,113.3 354.4,151.5 387.1,182.1 407.1,202.5 427.4,224.7 448,248.8 497.1,308.4 518.8,332M267.3,233.3 273.7,223.3 280.2,214.6 286.6,207.1 292.9,200.7 299.3,195.3 305.6,190.8 311.8,187.1 318,184.2 324.2,181.9 336.3,179.2 348.2,178.5 359.9,179.4 377.1,183 388.2,186.6 404.5,193.3 420.4,201.1 435.7,209.7 455.5,221.8 488.2,242.9M261.5,76.6 279.3,87.7 291.3,96.6 309.6,111.1 353.6,148.4 372.9,165.8 392.5,184.4 412.5,204.6 432.7,226.7 453.2,250.6 502.2,309.9 516.6,325.9 523.8,333.2M274.2,241.1 280.7,231.1 287.1,222.3 293.5,214.8 299.9,208.3 306.2,202.9 312.5,198.3 318.7,194.6 324.9,191.6 331,189.3 343.2,186.5 355,185.7 366.7,186.5 383.8,190 394.9,193.5 411.2,200 426.9,207.6 447.2,219 494.5,248.7M267.2,79.7 285,90.9 297,99.7 315.2,114.2 359.1,151.2 378.4,168.4 397.9,186.8 417.8,206.9 438,228.8 458.5,252.6 507.3,311.5 521.6,327.3 528.8,334.6M281.2,249 287.7,239 294.1,230.2 300.5,222.6 306.8,216.1 313.2,210.6 319.4,206 325.7,202.3 331.8,199.2 337.9,196.9 350,194 361.9,193.1 373.5,193.8 390.6,197.1 401.6,200.5 417.8,206.9 433.5,214.3 453.7,225.4 500.9,254.8M272.9,83 290.6,94.1 302.6,103 320.8,117.4 370.9,159.7 403.3,189.4 423.1,209.3 443.2,231 463.6,254.7 512.3,313.3 526.6,328.9 533.8,336.1M288.2,257.1 294.7,247 301.1,238.2 307.5,230.5 313.9,224 320.2,218.5 326.4,213.9 332.6,210.1 344.9,204.7 356.9,201.7 368.8,200.7 380.4,201.3 397.4,204.5 408.4,207.8 424.5,214 440.2,221.3 460.3,232.2 507.3,261M278.5,86.4 296.2,97.5 308.1,106.3 326.3,120.7 376.3,162.6 408.6,192 428.4,211.8 448.4,233.4 468.7,256.9 517.3,315.1 531.5,330.5 538.7,337.6M295.3,265.3 301.8,255.2 308.2,246.3 314.6,238.7 320.9,232.1 327.2,226.5 333.4,221.9 339.6,218.1 351.9,212.6 363.9,209.5 375.7,208.5 387.3,209 404.2,212 415.2,215.2 431.2,221.3 446.8,228.4 466.9,239.1 513.6,267.5M284,89.8 301.7,100.9 331.8,124.1 381.6,165.7 413.8,194.8 433.5,214.3 453.5,235.8 473.8,259.1 522.2,317 536.3,332.3 543.5,339.2M302.4,273.7 308.9,263.5 315.3,254.6 321.7,246.9 328,240.3 334.3,234.8 340.5,230.1 346.7,226.2 358.9,220.7 370.9,217.6 382.6,216.4 394.2,216.9 411,219.8 422,222.9 438,228.8 453.5,235.8 473.5,246.2 520.1,274.2M289.6,93.3 307.2,104.4 337.2,127.5 386.9,168.8 419,197.7 438.7,217 458.6,238.3 478.8,261.5 527,318.9 541.1,334.1 548.3,340.9M309.6,282.2 316,272 322.4,263.1 328.8,255.4 335.1,248.8 341.4,243.1 347.6,238.4 353.8,234.5 366,229 377.9,225.8 389.6,224.6 401.1,225 417.9,227.8 428.8,230.8 444.8,236.5 460.3,243.4 480.1,253.6 526.5,281.1M295,96.8 306.7,103.9 318.5,112.3 348.6,136 398.4,177.5 430.6,206.8 450.3,226.6 463.6,240.9 483.8,263.9 531.8,321 545.9,335.9 553,342.7M316.8,290.9 323.2,280.6 329.6,271.7 336,263.9 342.3,257.3 348.5,251.7 354.7,246.9 360.9,243 373,237.4 385,234.2 396.7,232.9 408.1,233.2 424.8,235.9 435.7,238.8 451.6,244.5 467,251.2 486.8,261.2 505.8,272 533,288.3M300.4,100.3 312.1,107.5 323.9,115.8 353.9,139.5 403.6,180.7 435.7,209.7 455.3,229.3 468.6,243.5 488.7,266.4 536.6,323.1 550.6,337.8 557.7,344.5M324,299.7 330.5,289.4 336.8,280.4 343.2,272.7 349.5,266 355.7,260.3 361.9,255.6 368.1,251.7 380.2,246 392.1,242.7 403.7,241.4 415.1,241.6 431.8,244.2 442.6,247.1 458.5,252.6 473.8,259.1 493.5,269 512.4,279.6 539.4,295.6M305.8,103.8 323.3,115.1 353.1,138.1 408.7,183.9 440.7,212.7 460.3,232.2 473.5,246.2 493.5,269 541.2,325.2 555.2,339.8 562.3,346.3M331.3,308.6 337.7,298.3 344.1,289.3 350.4,281.5 356.7,274.8 363,269.1 369.1,264.4 375.3,260.4 387.3,254.7 399.2,251.4 410.8,250 422.2,250.2 438.8,252.7 449.6,255.5 465.3,260.8 480.6,267.3 500.2,276.9 519.1,287.3 545.9,303M311.1,107.3 328.5,118.7 358.3,141.7 413.7,187.2 445.7,215.7 465.2,235 478.4,249 498.3,271.6 539,319.7 552.8,334.8 566.9,348.2M338.6,317.6 345,307.3 351.4,298.3 357.7,290.5 364,283.8 370.2,278.1 376.4,273.3 382.5,269.3 394.5,263.6 406.4,260.2 417.9,258.8 429.3,258.9 445.8,261.3 456.6,264 472.2,269.2 487.4,275.5 507,285 525.7,295.1 552.5,310.6M316.4,110.8 333.8,122.2 363.4,145.3 418.7,190.5 450.6,218.7 470.1,237.9 483.2,251.8 503.1,274.2 543.6,322 557.4,336.9 571.5,350.1M346,326.8 352.4,316.4 358.8,307.4 365.1,299.6 371.3,292.8 377.5,287.1 383.7,282.3 389.8,278.3 401.8,272.5 413.6,269.1 425.1,267.7 436.4,267.7 452.9,270 463.6,272.6 479.2,277.7 494.3,283.9 513.8,293.1 532.4,303.1 559.1,318.2M321.6,114.2 338.9,125.7 362.5,144 423.7,193.8 455.5,221.8 474.9,240.8 494.5,261.8 555.1,331.9 568.9,345.9 575.9,352.1M353.4,336 359.8,325.6 366.1,316.6 372.4,308.7 378.7,302 384.9,296.2 391,291.4 397.1,287.4 409.1,281.5 420.8,278.1 432.3,276.6 443.5,276.6 459.9,278.8 470.6,281.3 486.2,286.3 501.2,292.2 520.6,301.3 539.2,311 565.7,325.8M326.7,117.5 344.1,129.1 367.6,147.5 428.6,197.1 460.3,224.9 479.6,243.7 499.2,264.6 545.9,318.9 559.6,334.1 573.4,348 580.4,354M360.8,345.3 367.2,334.9 373.6,325.8 379.8,317.9 386.1,311.2 392.3,305.4 398.4,300.5 404.4,296.5 416.4,290.6 428.1,287.1 439.5,285.5 450.7,285.5 467.1,287.5 477.7,290 493.2,294.8 508.2,300.6 527.4,309.4 545.9,318.9 572.3,333.3M331.8,120.8 349.1,132.5 366.7,146.2 433.5,200.4 465.1,228 484.3,246.7 503.9,267.4 550.4,321.3 564,336.4 577.8,350 584.8,356M368.3,354.7 374.7,344.3 381,335.1 387.3,327.2 393.5,320.4 399.7,314.6 405.8,309.7 411.8,305.6 423.7,299.7 435.4,296.1 446.8,294.4 457.9,294.3 474.2,296.2 484.8,298.6 500.2,303.2 515.1,308.9 534.3,317.4 552.7,326.6 579,340.6M336.9,123.9 354.2,135.7 371.7,149.5 438.3,203.7 469.8,231 489,249.6 508.5,270.2 554.9,323.7 568.4,338.7 582.2,352.1 589.2,358M375.8,364.2 382.2,353.6 388.5,344.5 394.8,336.5 401,329.6 407.1,323.8 413.2,318.9 419.3,314.7 431.1,308.7 442.7,305 454.1,303.3 465.2,303.1 476.1,304 491.9,307.1 507.3,311.5 522.2,317 541.2,325.2 559.6,334.1 585.7,347.7M341.9,126.9 353.4,134.6 370.8,148.1 443.1,206.9 474.5,234.1 493.6,252.5 513.1,273 559.3,326.2 572.8,341 586.5,354.2 593.5,360M383.4,373.6 389.8,363 396.1,353.8 402.3,345.7 408.5,338.8 414.6,332.9 420.7,327.9 426.7,323.8 438.6,317.6 450.1,313.9 461.4,312 472.5,311.7 483.3,312.5 499.1,315.3 514.4,319.6 529.2,324.8 548.2,332.7 592.4,354.3M346.9,129.8 358.3,137.6 375.7,151.2 454,215.2 479.1,237.1 498.2,255.4 517.6,275.7 563.7,328.6 577.1,343.2 590.8,356.3 597.7,361.9M391,383 397.4,372.4 403.7,363 409.9,354.9 416.1,347.9 422.2,342 428.2,336.9 434.2,332.7 446,326.4 457.6,322.5 468.8,320.5 479.9,320 490.7,320.7 506.4,323.3 521.6,327.3 536.3,332.3 555.2,339.8 599.3,360.4M351.9,132.4 363.3,140.4 374.8,149.4 458.6,218.3 483.7,240 502.8,258.2 522.1,278.5 568,331 581.4,345.5 595.1,358.4 602,363.8" fill="none" stroke="#302000" stroke-opacity="0.07" stroke-width="0.7"/>
</g></g>
<g id="axes-a"><path d="M135.9,384 122.3,45.1M135.9,384 397.9,481.7M397.9,481.7 606,369.9M134.6,351.9 h-5M132.7,303 h-5M130.7,253.3 h-5M128.6,202.7 h-5M126.6,151.1 h-5M124.5,98.6 h-5M122.3,45.1 h-5M158.8,392.5 162.1,391.2M182.4,401.3 184.4,400.5M206.6,410.3 209.9,409M231.6,419.7 233.5,418.8M257.2,429.2 260.5,427.8M283.7,439.1 285.7,438.2M310.9,449.3 314.2,447.7M339,459.8 341,458.8M368,470.6 371.3,468.9M397.9,481.7 399.8,480.7M397.9,481.7 394.3,480.4M419.6,470.1 417.5,469.3M440.6,458.8 437,457.5M460.9,447.8 458.8,447.1M480.6,437.3 477,436.1M499.6,427 497.5,426.3M518.1,417.1 514.6,416M535.9,407.5 533.9,406.9M553.3,398.2 549.8,397.1M570.1,389.1 568.1,388.5M586.5,380.3 583,379.4M602.3,371.8 600.3,371.2" fill="none" stroke="#1a1a1a" stroke-width="1.4" stroke-linecap="square"/></g>
<g id="labels-a"><text transform="matrix(0.9636 -0.3549 0.0539 1.1719 78.5 380.85)" font-family="Liberation Sans, Arial, sans-serif" font-size="20" text-anchor="start" fill="#000">0.057</text>
<text transform="matrix(0.9737 -0.3277 0.0549 1.1932 75.96 330.55)" font-family="Liberation Sans, Arial, sans-serif" font-size="20" text-anchor="start" fill="#000">0.060</text>
<text transform="matrix(0.9841 -0.2995 0.0559 1.2152 73.38 279.32)" font-family="Liberation Sans, Arial, sans-serif" font-size="20" text-anchor="start" fill="#000">0.063</text>
<text transform="matrix(0.9947 -0.2701 0.0569 1.2378 70.75 227.13)" font-family="Liberation Sans, Arial, sans-serif" font-size="20" text-anchor="start" fill="#000">0.066</text>
<text transform="matrix(1.0055 -0.2396 0.058 1.261 68.07 173.95)" font-family="Liberation Sans, Arial, sans-serif" font-size="20" text-anchor="start" fill="#000">0.069</text>
<text transform="matrix(1.0165 -0.2079 0.0591 1.2848 65.33 119.75)" font-family="Liberation Sans, Arial, sans-serif" font-size="20" text-anchor="start" fill="#000">0.072</text>
<text transform="matrix(1.0278 -0.1749 0.0602 1.3094 62.55 64.5)" font-family="Liberation Sans, Arial, sans-serif" font-size="20" text-anchor="start" fill="#000">0.075</text>
<text transform="matrix(0.0785 1.4454 -1.1896 0.2886 40.23 58.82)" font-family="Liberation Sans, Arial, sans-serif" font-size="20" text-anchor="start" fill="#000">Percentage</text>
<text transform="matrix(0.0772 1.4213 -1.1779 0.3204 48.69 214.7)" font-family="Liberation Sans, Arial, sans-serif" font-size="20" text-anchor="start" fill="#000">of</text>
<text transform="matrix(0.0762 1.4034 -1.169 0.3436 50.41 246.31)" font-family="Liberation Sans, Arial, sans-serif" font-size="20" text-anchor="start" fill="#000">capacity</text>
<text transform="matrix(0.0751 1.383 -1.1589 0.3696 56.42 357.07)" font-family="Liberation Sans, Arial, sans-serif" font-size="20" text-anchor="start" fill="#000">loss</text>
<text transform="matrix(0.0894 1.496 -1.2473 0.2656 8.84 64.76)" font-family="Liberation Sans, Arial, sans-serif" font-size="20" text-anchor="start" fill="#000">per</text>
<text transform="matrix(0.088 1.4721 -1.2353 0.2975 11.92 116.32)" font-family="Liberation Sans, Arial, sans-serif" font-size="20" text-anchor="start" fill="#000">kilometer</text>
<text transform="matrix(0.0863 1.4429 -1.2205 0.3356 19.55 243.92)" font-family="Liberation Sans, Arial, sans-serif" font-size="20" text-anchor="start" fill="#000">(%/km)</text>
<text transform="matrix(0.8587 -0.342 0.8371 0.317 147.96 401.4)" font-family="Liberation Sans, Arial, sans-serif" font-size="20" text-anchor="start" fill="#000">6</text>
<text transform="matrix(0.8559 -0.3624 0.8863 0.3356 196.17 419.76)" font-family="Liberation Sans, Arial, sans-serif" font-size="20" text-anchor="start" fill="#000">8</text>
<text transform="matrix(0.8568 -0.3873 0.9407 0.3583 237.72 443.54)" font-family="Liberation Sans, Arial, sans-serif" font-size="20" text-anchor="start" fill="#000">10</text>
<text transform="matrix(0.8501 -0.4119 0.9997 0.3808 292.04 464.48)" font-family="Liberation Sans, Arial, sans-serif" font-size="20" text-anchor="start" fill="#000">12</text>
<text transform="matrix(0.8407 -0.439 1.0645 0.4055 349.86 486.76)" font-family="Liberation Sans, Arial, sans-serif" font-size="20" text-anchor="start" fill="#000">14</text>
<text transform="matrix(1.1233 0.4225 -0.8884 0.4974 400.52 488.48)" font-family="Liberation Sans, Arial, sans-serif" font-size="20" text-anchor="start" fill="#000">0.54</text>
<text transform="matrix(1.1094 0.3948 -0.8294 0.4644 443.53 465.09)" font-family="Liberation Sans, Arial, sans-serif" font-size="20" text-anchor="start" fill="#000">0.51</text>
<text transform="matrix(1.0949 0.3697 -0.7761 0.4345 483.77 443.21)" font-family="Liberation Sans, Arial, sans-serif" font-size="20" text-anchor="start" fill="#000">0.48</text>
<text transform="matrix(1.08 0.347 -0.7278 0.4075 521.49 422.69)" font-family="Liberation Sans, Arial, sans-serif" font-size="20" text-anchor="start" fill="#000">0.45</text>
<text transform="matrix(1.0648 0.3263 -0.6839 0.3829 556.92 403.42)" font-family="Liberation Sans, Arial, sans-serif" font-size="20" text-anchor="start" fill="#000">0.42</text>
<text transform="matrix(1.0495 0.3074 -0.6438 0.3604 590.26 385.29)" font-family="Liberation Sans, Arial, sans-serif" font-size="20" text-anchor="start" fill="#000">0.39</text>
<text transform="matrix(1.0835 0.4337 -1.0661 0.4819 175.92 444.66)" font-family="Liberation Sans, Arial, sans-serif" font-size="20" text-anchor="start" fill="#000">Time</text>
<text transform="matrix(1.1109 0.4447 -1.0637 0.4942 229.29 466.02)" font-family="Liberation Sans, Arial, sans-serif" font-size="20" text-anchor="start" fill="#000">(s)</text>
<text transform="matrix(0.8983 -0.5378 1.2529 0.4321 489.04 505.96)" font-family="Liberation Sans, Arial, sans-serif" font-size="20" text-anchor="start" fill="#000">Acceleration</text>
<text transform="matrix(0.7929 -0.4747 1.2172 0.382 592.62 443.94)" font-family="Liberation Sans, Arial, sans-serif" font-size="20" text-anchor="start" fill="#000">(m/s<tspan font-size="12.4" dy="-8">2</tspan><tspan dy="8">)</tspan></text></g>
</g>
<g id="panel-b">
<g id="grid-b"><path d="M803.9,357.7 1020.7,275.7M1020.7,275.7 1264.2,343.8M802.1,307.9 1020.7,232.5M1020.7,232.5 1266.4,295.3M800.2,257.2 1020.8,188.6M1020.8,188.6 1268.6,246M798.3,205.6 1020.9,144M1020.9,144 1270.8,195.8M796.4,153.1 1020.9,98.8M1020.9,98.8 1273.1,144.8M794.4,99.7 1021,52.8M1021,52.8 1275.4,92.8M1042.3,310.6 1043.8,9.1M827.4,399 1042.3,310.6M1087.1,323.8 1091.2,15.3M873.9,417.1 1087.1,323.8M1134.2,337.7 1141,21.9M923.1,436.2 1134.2,337.7M1183.7,352.3 1193.5,28.8M975.3,456.4 1183.7,352.3M1235.8,367.7 1248.9,36.1M1030.7,477.9 1235.8,367.7M843.6,375 833.6,38.2M843.6,375 1096.7,468.6M896.8,353.7 890.2,28.5M896.8,353.7 1147.2,440.3M946.3,333.9 942.7,19.5M946.3,333.9 1193.8,414.3M992.5,315.5 991.5,11.2M992.5,315.5 1236.8,390.2" fill="none" stroke="#dfe2df" stroke-width="1" stroke-dasharray="1.6 1.6"/>
<path d="M792.4,45.2 1021.1,6.1M1021.1,6.1 1277.8,39.9" fill="none" stroke="#8a8a8a" stroke-width="1" stroke-dasharray="2.5 1.5"/>
<path d="M1020.6,304.2 1021.1,6.1" fill="none" stroke="#707070" stroke-width="1.1"/>
<path d="M1262.8,375.7 1277.8,39.9" fill="none" stroke="#808080" stroke-width="1.1"/>
<path d="M805.2,390.4 1020.6,304.2M1020.6,304.2 1262.8,375.7" fill="none" stroke="#707070" stroke-width="1"/></g>
<g id="surf-b"><mask id="clip-b" maskUnits="userSpaceOnUse" x="0" y="0" width="1998" height="573"><path d="M796.67,160.1 803,151.66 806.8,147.13 810.6,142.99 816.92,136.87 820.7,133.64 824.48,130.72 828.24,128.08 832,125.72 835.75,123.62 840.73,121.18 844.46,119.62 849.4,117.86 853.1,116.76 858,115.57 862.88,114.68 867.73,114.06 872.56,113.68 877.35,113.53 886.86,113.85 891.57,114.29 897.42,115.06 903.22,116.07 908.97,117.29 920.33,120.29 932.61,124.36 944.65,129.1 958.59,135.43 973.25,142.95 987.55,150.98 1020.81,170.61 1031.87,176 1043.04,182.17 1054.34,188.96 1066.89,196.99 1080.76,206.33 1094.8,216.2 1111.4,228.34 1127.02,240.24 1142.85,252.79 1157.64,264.98 1171.35,276.66 1185.21,288.81 1239.54,337.76 1252.85,349.16 1263.63,357.83 1257.01,354.62 1250.28,351.71 1242.57,348.77 1234.7,346.13 1226.69,343.77 1217.6,341.43 1208.32,339.4 1199.81,337.84 1191.13,336.55 1183.27,335.68 1175.29,335.1 1168.18,334.88 1160.97,334.98 1153.65,335.46 1147.29,336.21 1140.84,337.35 1135.41,338.62 1129.91,340.22 1124.35,342.19 1118.74,344.58 1113.06,347.41 1108.47,350.04 1102.68,353.83 1098,357.28 1093.29,361.14 1088.53,365.44 1083.74,370.22 1078.91,375.51 1074.04,381.33 1069.13,387.74 1064.19,394.76 1060.46,400.45 1044.11,383.29 999.19,335.34 973.86,309.03 958.66,293.73 943.67,279.04 928.87,264.97 914.29,251.47 896.01,235.1 878.06,219.59 861.68,205.96 845.58,193.13 832.17,183 818.97,173.68 807.15,166.07 796.67,160.1Z" fill="#fff"/></mask>
<g mask="url(#clip-b)">
<path d="M796.7,160.1 803,151.7 806.8,147.1 810.6,143 816.9,136.9 820.7,133.6 824.5,130.7 828.2,128.1 832,125.7 835.8,123.6 840.7,121.2 844.5,119.6 849.4,117.9 853.1,116.8 858,115.6 862.9,114.7 867.7,114.1 872.6,113.7 877.4,113.5 886.9,113.9 891.6,114.3 897.4,115.1 903.2,116.1 909,117.3 920.3,120.3 932.6,124.4 944.7,129.1 958.6,135.4 973.3,142.9 987.5,151 1020.8,170.6 1031.9,176 1043,182.2 1054.3,189 1066.9,197 1080.8,206.3 1094.8,216.2 1111.4,228.3 1127,240.2 1142.8,252.8 1157.6,265 1171.3,276.7 1185.2,288.8 1239.5,337.8 1252.9,349.2 1263.6,357.8 1257,354.6 1250.3,351.7 1242.6,348.8 1234.7,346.1 1226.7,343.8 1217.6,341.4 1208.3,339.4 1199.8,337.8 1191.1,336.6 1183.3,335.7 1175.3,335.1 1168.2,334.9 1161,335 1153.7,335.5 1147.3,336.2 1140.8,337.3 1135.4,338.6 1129.9,340.2 1124.4,342.2 1118.7,344.6 1113.1,347.4 1108.5,350 1102.7,353.8 1098,357.3 1093.3,361.1 1088.5,365.4 1083.7,370.2 1078.9,375.5 1074,381.3 1069.1,387.7 1064.2,394.8 1060.5,400.4 1044.1,383.3 999.2,335.3 973.9,309 958.7,293.7 943.7,279 928.9,265 914.3,251.5 896,235.1 878.1,219.6 861.7,206 845.6,193.1 832.2,183 819,173.7 807.2,166.1 796.7,160.1Z" fill="#7d00a5" stroke="#7d00a5" stroke-width="3"/>
<path d="M782.3,168.4 792.7,173.7 805,181.2 817.6,189.7 832.1,200.4 848.8,213.5 865.8,227.5 902.7,259.8 934.8,289.8 965.8,320.7 989.1,344.9 1041.7,401 1062,422.2 1071.4,406.6 1080.7,393.3 1089.8,382.2 1098.8,373 1109.5,364 1119.9,357.1 1130.1,351.8 1141.8,347.5 1154.8,344.4 1167.5,342.9 1181.4,342.6 1197.8,343.7 1216.4,346.4 1234.3,350.3 1250.2,355 1265.2,360.8 1252.3,347.2 1234.4,331.6 1191.8,293.1 1171.1,274.9 1136,246.1 1117.9,232.2 1098.3,217.9 1070.4,198.8 1046.5,184.1 1033.1,176.9 1019.9,170.9 1015.7,168.6 978.7,146.8 961.6,137.4 947.3,130.2 932.6,123.8 919.2,118.9 907.3,115.4 895.2,112.7 884.6,111.1 873.9,110.3 863.1,110.6 853.9,111.7 844.7,113.9 835.4,117.2 827.9,120.8 818.4,126.7 810.8,132.8 803.2,140.1 795.6,148.9 788,159.4 782.3,168.4Z" fill="#6e00b6"/>
<path d="M782.3,168.4 792.7,173.7 805,181.2 817.6,189.7 832.1,200.4 848.8,213.5 865.8,227.5 902.7,259.8 934.8,289.8 965.8,320.7 989.1,344.9 1041.7,401 1062,422.2 1071.4,406.6 1080.7,393.3 1089.8,382.2 1098.8,373 1107.7,365.3 1118.2,358.1 1128.4,352.6 1140.1,348 1153.2,344.7 1165.9,343 1179.8,342.6 1194.8,343.4 1212.2,345.6 1230.3,349.3 1247.6,354.1 1262,359.4 1246.8,342.6 1176.7,279.7 1158,263.9 1139.6,249 1119.7,233.6 1100.1,219.1 1070.4,198.8 1046.5,184.1 1033.1,176.9 1019.9,170.9 1015.7,168.6 978.7,146.8 961.6,137.4 947.3,130.2 932.6,123.8 919.2,118.9 907.3,115.4 895.2,112.7 884.6,111.1 873.9,110.3 863.1,110.6 853.9,111.7 844.7,113.9 835.4,117.2 827.9,120.8 818.4,126.7 810.8,132.8 803.2,140.1 795.6,148.9 788,159.4 782.3,168.4Z" fill="#6500c1"/>
<path d="M782.3,168.4 792.7,173.7 805,181.2 817.6,189.7 832.1,200.4 848.8,213.5 865.8,227.5 902.7,259.8 934.8,289.8 965.8,320.7 989.1,344.9 1041.7,401 1062,422.2 1071.4,406.6 1080.7,393.3 1089.8,382.2 1098.8,373 1107.7,365.3 1118.2,358.1 1128.4,352.6 1140.1,348 1151.6,345 1164.3,343.2 1178.3,342.6 1193.3,343.3 1210.8,345.4 1227.5,348.6 1243.7,352.9 1258.7,358.1 1241.6,337.9 1182.4,284.7 1161.7,267 1141.4,250.4 1121.5,234.9 1100.1,219.1 1070.4,198.8 1046.5,184.1 1033.1,176.9 1019.9,170.9 1015.7,168.6 978.7,146.8 961.6,137.4 947.3,130.2 932.6,123.8 919.2,118.9 907.3,115.4 895.2,112.7 884.6,111.1 873.9,110.3 863.1,110.6 853.9,111.7 844.7,113.9 835.4,117.2 827.9,120.8 818.4,126.7 810.8,132.8 803.2,140.1 795.6,148.9 788,159.4 782.3,168.4Z" fill="#5b00cc"/>
<path d="M782.3,168.4 792.7,173.7 805,181.2 817.6,189.7 832.1,200.4 848.8,213.5 865.8,227.5 902.7,259.8 934.8,289.8 965.8,320.7 989.1,344.9 1041.7,401 1062,422.2 1069.5,409.5 1078.8,395.8 1088,384.3 1097,374.7 1105.9,366.7 1116.4,359.2 1126.7,353.4 1138.5,348.6 1150,345.4 1162.8,343.3 1176.8,342.6 1190.4,343 1206.5,344.8 1223.4,347.7 1239.7,351.7 1255.3,356.8 1236.4,333.4 1191.8,293.1 1169.2,273.3 1146.9,254.8 1125.1,237.7 1103.6,221.7 1072.1,199.9 1046.5,184.1 1033.1,176.9 1019.9,170.9 1015.7,168.6 978.7,146.8 961.6,137.4 947.3,130.2 932.6,123.8 919.2,118.9 907.3,115.4 895.2,112.7 884.6,111.1 873.9,110.3 863.1,110.6 853.9,111.7 844.7,113.9 835.4,117.2 827.9,120.8 818.4,126.7 810.8,132.8 803.2,140.1 795.6,148.9 788,159.4 782.3,168.4Z" fill="#4800d6"/>
<path d="M782.3,168.4 792.7,173.7 805,181.2 817.6,189.7 832.1,200.4 848.8,213.5 865.8,227.5 902.7,259.8 934.8,289.8 965.8,320.7 989.1,344.9 1041.7,401 1062,422.2 1069.5,409.5 1078.8,395.8 1088,384.3 1097,374.7 1105.9,366.7 1116.4,359.2 1126.7,353.4 1136.8,349.1 1148.3,345.7 1159.6,343.7 1173.7,342.6 1187.4,342.8 1203.6,344.4 1220.6,347.2 1237,351 1251.8,355.5 1247.8,350.7 1240.8,340.8 1231.4,328.8 1205.2,305.1 1178.6,281.4 1154.3,260.8 1130.5,241.8 1105.4,223 1073.8,201 1060.1,192.2 1046.5,184.1 1033.1,176.9 1019.9,170.9 1015.7,168.6 978.7,146.8 961.6,137.4 947.3,130.2 932.6,123.8 919.2,118.9 907.3,115.4 895.2,112.7 884.6,111.1 873.9,110.3 863.1,110.6 853.9,111.7 844.7,113.9 835.4,117.2 827.9,120.8 818.4,126.7 810.8,132.8 803.2,140.1 795.6,148.9 788,159.4 782.3,168.4Z" fill="#3500df"/>
<path d="M782.3,168.4 792.7,173.7 805,181.2 817.6,189.7 832.1,200.4 848.8,213.5 865.8,227.5 902.7,259.8 934.8,289.8 965.8,320.7 989.1,344.9 1041.7,401 1062,422.2 1069.5,409.5 1078.8,395.8 1088,384.3 1097,374.7 1105.9,366.7 1116.4,359.2 1126.7,353.4 1136.8,349.1 1148.3,345.7 1159.6,343.7 1172.2,342.7 1185.9,342.8 1200.7,344 1216.4,346.4 1233,349.9 1248.2,354.3 1244.4,349.4 1237.1,338.1 1226.4,324.3 1188,289.7 1161.7,267 1134.1,244.7 1107.2,224.3 1075.6,202.2 1061.8,193.3 1048.2,185 1034.8,177.7 1019.9,170.9 1015.7,168.6 978.7,146.8 963.2,138.2 947.3,130.2 932.6,123.8 919.2,118.9 907.3,115.4 895.2,112.7 884.6,111.1 873.9,110.3 863.1,110.6 853.9,111.7 844.7,113.9 835.4,117.2 827.9,120.8 818.4,126.7 810.8,132.8 803.2,140.1 795.6,148.9 788,159.4 782.3,168.4Z" fill="#2200e9"/>
<path d="M782.3,168.4 792.7,173.7 805,181.2 817.6,189.7 832.1,200.4 848.8,213.5 865.8,227.5 902.7,259.8 934.8,289.8 965.8,320.7 989.1,344.9 1041.7,401 1062,422.2 1069.5,409.5 1078.8,395.8 1088,384.3 1097,374.7 1105.9,366.7 1114.7,360.3 1125,354.2 1135.2,349.7 1146.7,346.1 1158,343.9 1170.6,342.7 1182.9,342.6 1197.8,343.7 1213.6,345.9 1228.9,349 1244.4,353.1 1240.8,348.1 1233.2,335.4 1221.5,319.9 1188,289.7 1163.6,268.6 1137.8,247.5 1110.7,226.9 1077.3,203.3 1061.8,193.3 1048.2,185 1034.8,177.7 1019.9,170.9 1015.7,168.6 978.7,146.8 963.2,138.2 947.3,130.2 932.6,123.8 919.2,118.9 907.3,115.4 895.2,112.7 884.6,111.1 873.9,110.3 863.1,110.6 853.9,111.7 844.7,113.9 835.4,117.2 827.9,120.8 818.4,126.7 810.8,132.8 803.2,140.1 795.6,148.9 788,159.4 782.3,168.4Z" fill="#1205f1"/>
<path d="M782.3,168.4 792.7,173.7 805,181.2 817.6,189.7 832.1,200.4 848.8,213.5 865.8,227.5 902.7,259.8 934.8,289.8 965.8,320.7 989.1,344.9 1041.7,401 1062,422.2 1069.5,409.5 1078.8,395.8 1086.2,386.4 1095.2,376.5 1104.2,368.2 1113,361.5 1123.3,355.1 1133.5,350.4 1143.4,347 1154.8,344.4 1167.5,342.9 1179.8,342.6 1194.8,343.4 1209.3,345.2 1224.8,348 1240.5,352 1237.1,346.9 1233.1,338.8 1229.1,332.1 1216.6,315.4 1186.1,288 1161.7,267 1137.8,247.5 1112.5,228.2 1077.3,203.3 1061.8,193.3 1048.2,185 1034.8,177.7 1019.9,170.9 1015.7,168.6 978.7,146.8 963.2,138.2 947.3,130.2 932.6,123.8 919.2,118.9 907.3,115.4 895.2,112.7 884.6,111.1 873.9,110.3 863.1,110.6 853.9,111.7 844.7,113.9 835.4,117.2 827.9,120.8 818.4,126.7 810.8,132.8 803.2,140.1 795.6,148.9 788,159.4 782.3,168.4Z" fill="#0d16f5"/>
<path d="M782.3,168.4 792.7,173.7 805,181.2 817.6,189.7 832.1,200.4 848.8,213.5 865.8,227.5 902.7,259.8 934.8,289.8 965.8,320.7 989.1,344.9 1041.7,401 1062,422.2 1069.5,409.5 1078.8,395.8 1086.2,386.4 1095.2,376.5 1104.2,368.2 1113,361.5 1123.3,355.1 1133.5,350.4 1143.4,347 1154.8,344.4 1165.9,343 1178.3,342.6 1191.9,343.1 1206.5,344.8 1222,347.5 1236.5,350.9 1233.3,345.6 1229.1,336.3 1224.9,328.8 1220.8,322.7 1215.2,315.9 1211.7,311 1184.3,286.3 1161.7,267 1139.6,249 1116.1,230.9 1080.8,205.7 1065.2,195.4 1049.9,186 1034.8,177.7 1019.9,170.9 1015.7,168.6 978.7,146.8 963.2,138.2 947.3,130.2 932.6,123.8 919.2,118.9 907.3,115.4 895.2,112.7 884.6,111.1 873.9,110.3 863.1,110.6 853.9,111.7 844.7,113.9 835.4,117.2 827.9,120.8 818.4,126.7 810.8,132.8 803.2,140.1 795.6,148.9 788,159.4 782.3,168.4Z" fill="#0726fa"/>
<path d="M782.3,168.4 792.7,173.7 805,181.2 817.6,189.7 832.1,200.4 848.8,213.5 865.8,227.5 902.7,259.8 934.8,289.8 965.8,320.7 989.1,344.9 1041.7,401 1062,422.2 1069.5,409.5 1078.8,395.8 1086.2,386.4 1095.2,376.5 1104.2,368.2 1113,361.5 1121.6,356.1 1131.8,351.1 1141.8,347.5 1151.6,345 1162.8,343.3 1175.2,342.6 1188.9,342.9 1202.1,344.2 1217.8,346.6 1232.4,349.8 1229.3,344.5 1225.3,334.1 1221,325.7 1216.6,319.2 1210.3,311.4 1206.8,306.6 1182.4,284.7 1161.7,267 1141.4,250.4 1119.7,233.6 1100.1,219.1 1082.5,206.9 1065.2,195.4 1049.9,186 1034.8,177.7 1019.9,170.9 1015.7,168.6 978.7,146.8 963.2,138.2 947.3,130.2 932.6,123.8 919.2,118.9 907.3,115.4 895.2,112.7 884.6,111.1 873.9,110.3 863.1,110.6 853.9,111.7 844.7,113.9 835.4,117.2 827.9,120.8 818.4,126.7 810.8,132.8 803.2,140.1 795.6,148.9 788,159.4 782.3,168.4Z" fill="#0237fe"/>
<path d="M782.3,168.4 792.7,173.7 805,181.2 817.6,189.7 832.1,200.4 848.8,213.5 865.8,227.5 902.7,259.8 934.8,289.8 965.8,320.7 989.1,344.9 1041.7,401 1062,422.2 1069.5,409.5 1077,398.4 1084.3,388.7 1093.4,378.3 1102.4,369.7 1111.2,362.7 1119.9,357.1 1130.1,351.8 1140.1,348 1150,345.4 1161.2,343.5 1172.2,342.7 1185.9,342.8 1199.2,343.8 1213.6,345.9 1228.1,348.8 1225.3,343.3 1221.9,333.1 1217.4,323.4 1212.6,315.8 1205.4,307 1202,302.1 1180.5,283 1161.7,267 1143.3,251.9 1125.1,237.7 1105.4,223 1086,209.3 1068.7,197.6 1051.6,187 1034.8,177.7 1019.9,170.9 1015.7,168.6 978.7,146.8 963.2,138.2 948.9,131 934.2,124.5 920.9,119.5 909,115.9 896.9,113 886.4,111.3 875.7,110.4 864.9,110.5 853.9,111.7 844.7,113.9 835.4,117.2 827.9,120.8 818.4,126.7 810.8,132.8 803.2,140.1 795.6,148.9 788,159.4 782.3,168.4Z" fill="#004cff"/>
<path d="M782.3,168.4 792.7,173.7 805,181.2 817.6,189.7 832.1,200.4 848.8,213.5 865.8,227.5 902.7,259.8 934.8,289.8 965.8,320.7 989.1,344.9 1041.7,401 1062,422.2 1069.5,409.5 1077,398.4 1084.3,388.7 1093.4,378.3 1102.4,369.7 1111.2,362.7 1119.9,357.1 1128.4,352.6 1138.5,348.6 1148.3,345.7 1159.6,343.7 1170.6,342.7 1182.9,342.6 1196.3,343.5 1209.3,345.2 1223.6,347.8 1221.1,342.2 1219.1,334.4 1217.1,328.5 1213.3,320.1 1207.9,311.5 1200.5,302.5 1197.1,297.7 1161.7,267 1128.7,240.4 1108.9,225.6 1089.5,211.7 1070.4,198.8 1053.3,188 1036.5,178.6 1015.7,168.6 978.7,146.8 963.2,138.2 948.9,131 934.2,124.5 920.9,119.5 909,115.9 896.9,113 886.4,111.3 875.7,110.4 864.9,110.5 853.9,111.7 844.7,113.9 835.4,117.2 827.9,120.8 818.4,126.7 810.8,132.8 803.2,140.1 795.6,148.9 788,159.4 782.3,168.4Z" fill="#0062ff"/>
<path d="M782.3,168.4 792.7,173.7 805,181.2 817.6,189.7 832.1,200.4 848.8,213.5 865.8,227.5 902.7,259.8 934.8,289.8 965.8,320.7 989.1,344.9 1041.7,401 1062,422.2 1069.5,409.5 1077,398.4 1084.3,388.7 1093.4,378.3 1100.6,371.3 1109.5,364 1118.2,358.1 1126.7,353.4 1136.8,349.1 1146.7,346.1 1156.4,344.2 1167.5,342.9 1179.8,342.6 1191.9,343.1 1205,344.6 1219,346.9 1216.7,341.2 1213.6,327.4 1209.5,317.3 1203.8,307.9 1195.6,298.1 1192.2,293.3 1161.7,267 1134.1,244.7 1112.5,228.2 1091.3,212.9 1070.4,198.8 1053.3,188 1036.5,178.6 1015.7,168.6 978.7,146.8 963.2,138.2 948.9,131 934.2,124.5 920.9,119.5 909,115.9 896.9,113 886.4,111.3 875.7,110.4 864.9,110.5 853.9,111.7 844.7,113.9 835.4,117.2 827.9,120.8 818.4,126.7 810.8,132.8 803.2,140.1 795.6,148.9 788,159.4 782.3,168.4Z" fill="#0078ff"/>
<path d="M782.3,168.4 792.7,173.7 805,181.2 817.6,189.7 832.1,200.4 848.8,213.5 865.8,227.5 902.7,259.8 934.8,289.8 965.8,320.7 989.1,344.9 1041.7,401 1062,422.2 1069.5,409.5 1077,398.4 1084.3,388.7 1091.6,380.2 1098.8,373 1107.7,365.3 1116.4,359.2 1125,354.2 1133.5,350.4 1143.4,347 1153.2,344.7 1164.3,343.2 1175.2,342.6 1187.4,342.8 1200.7,344 1214.3,346 1212.2,340.2 1210.4,328.7 1207.7,319.4 1203.3,309.9 1197.7,301.7 1190.6,293.7 1187.2,289 1163.6,268.6 1139.6,249 1117.9,232.2 1094.8,215.4 1073.8,201 1055,189.1 1036.5,178.6 1015.7,168.6 978.7,146.8 963.2,138.2 948.9,131 934.2,124.5 920.9,119.5 909,115.9 896.9,113 886.4,111.3 875.7,110.4 864.9,110.5 853.9,111.7 844.7,113.9 835.4,117.2 827.9,120.8 818.4,126.7 810.8,132.8 803.2,140.1 795.6,148.9 788,159.4 782.3,168.4Z" fill="#008fff"/>
<path d="M782.3,168.4 792.7,173.7 805,181.2 817.6,189.7 832.1,200.4 848.8,213.5 865.8,227.5 902.7,259.8 934.8,289.8 965.8,320.7 991.3,347.1 1058,418.1 1064.1,418.4 1071.4,406.6 1080.7,393.3 1089.8,382.2 1098.8,373 1105.9,366.7 1113,361.5 1119.9,357.1 1126.7,353.4 1135.2,349.7 1143.4,347 1153.2,344.7 1162.8,343.3 1173.7,342.6 1184.4,342.7 1196.3,343.5 1209.3,345.2 1207.6,339.2 1206.4,327.5 1204.2,318.3 1200.6,309.1 1195.7,301 1190.8,294.7 1185.7,289.2 1182.2,284.6 1163.6,268.6 1145.1,253.3 1123.3,236.3 1100.1,219.1 1077.3,203.3 1056.7,190.1 1036.5,178.6 1015.7,168.6 980.2,147.7 964.7,139 950.5,131.7 935.9,125.2 922.6,120.1 910.7,116.3 898.7,113.3 886.4,111.3 875.7,110.4 864.9,110.5 853.9,111.7 844.7,113.9 835.4,117.2 827.9,120.8 818.4,126.7 810.8,132.8 803.2,140.1 795.6,148.9 788,159.4 782.3,168.4Z" fill="#00abfd"/>
<path d="M782.3,168.4 792.7,173.7 803.2,180.1 815.8,188.4 830.3,199 847,212 863.9,225.9 900.7,258 932.8,287.9 963.7,318.5 991.3,347.1 1052.4,412.4 1067.3,413.1 1075.1,401 1082.5,391 1089.8,382.2 1097,374.7 1104.2,368.2 1113,361.5 1121.6,356.1 1130.1,351.8 1136.8,349.1 1145.1,346.6 1153.2,344.7 1162.8,343.3 1172.2,342.7 1182.9,342.6 1193.3,343.3 1204.1,344.4 1202.8,338.3 1202.3,327.4 1200.6,317.2 1198,309.2 1193.9,301 1188.8,293.7 1180.7,284.8 1177.2,280.2 1152.5,259.3 1128.7,240.4 1103.6,221.7 1079,204.5 1058.4,191.1 1038.2,179.5 1015.7,168.6 980.2,147.7 964.7,139 950.5,131.7 935.9,125.2 922.6,120.1 910.7,116.3 898.7,113.3 886.4,111.3 875.7,110.4 864.9,110.5 853.9,111.7 844.7,113.9 835.4,117.2 827.9,120.8 818.4,126.7 810.8,132.8 803.2,140.1 795.6,148.9 788,159.4 782.3,168.4Z" fill="#00c6fc"/>
<path d="M782.3,168.4 792.7,173.7 803.2,180.1 815.8,188.4 830.3,199 862,224.3 898.8,256.2 930.8,285.9 961.7,316.4 991.3,347.1 1047,406.7 1070.7,407.6 1077,398.4 1084.3,388.7 1091.6,380.2 1098.8,373 1105.9,366.7 1114.7,360.3 1123.3,355.1 1131.8,351.1 1138.5,348.6 1146.7,346.1 1154.8,344.4 1162.8,343.3 1179.8,342.6 1198.7,343.8 1197.7,337.4 1197.9,326.1 1197,317.2 1195.1,309.3 1191.9,301.2 1189.1,296.3 1185.3,290.9 1180.8,285.5 1175.7,280.4 1172.1,275.8 1159.9,265.4 1136,246.1 1110.7,226.9 1086,209.3 1061.8,193.3 1039.8,180.3 1029.8,175.3 1019.9,170.9 1014.2,167.8 966.3,139.9 952.1,132.5 937.5,125.9 924.3,120.7 912.4,116.8 900.4,113.7 888.2,111.5 877.5,110.5 866.7,110.4 855.8,111.4 846.6,113.4 837.2,116.4 827.9,120.8 818.4,126.7 810.8,132.8 803.2,140.1 795.6,148.9 788,159.4 782.3,168.4Z" fill="#00e2fb"/>
<path d="M782.3,168.4 792.7,173.7 803.2,180.1 815.8,188.4 828.5,197.6 843.2,209 860.1,222.7 896.8,254.4 928.7,284 959.6,314.3 989.1,344.9 1041.7,401.1 1074.4,402 1080.7,393.3 1088,384.3 1095.2,376.5 1102.4,369.7 1109.5,364 1118.2,358.1 1126.7,353.4 1135.2,349.7 1148.3,345.7 1161.2,343.5 1176.8,342.6 1193,343.2 1192.5,336.7 1193.3,327 1193.1,318.1 1192.1,310.4 1190,303 1186.7,295.7 1182.5,289.1 1177,282.4 1170.6,276 1166.9,271.4 1141.4,250.4 1114.3,229.5 1087.7,210.5 1063.5,194.3 1039.8,180.3 1029.8,175.3 1019.9,170.9 1014.2,167.8 966.3,139.9 952.1,132.5 937.5,125.9 924.3,120.7 912.4,116.8 900.4,113.7 888.2,111.5 877.5,110.5 866.7,110.4 855.8,111.4 846.6,113.4 837.2,116.4 827.9,120.8 818.4,126.7 810.8,132.8 803.2,140.1 795.6,148.9 788,159.4 782.3,168.4Z" fill="#00eff2"/>
<path d="M782.3,168.4 792.7,173.7 803.2,180.1 815.8,188.4 828.5,197.6 843.2,209 860.1,222.7 894.8,252.7 926.7,282.1 957.5,312.2 989.1,344.9 1036.5,395.5 1056.6,396.2 1078.5,396.2 1089.8,382.2 1095.2,376.5 1102.4,369.7 1107.7,365.3 1114.7,360.3 1126.7,353.4 1133.5,350.4 1140.1,348 1146.7,346.1 1154.8,344.4 1170.6,342.7 1187,342.8 1187,336 1188.4,325.6 1188.8,316.8 1188,308.1 1186.1,300.3 1182.9,292.8 1178.2,285.3 1173.2,279.2 1165.4,271.6 1161.7,267 1136,246.1 1110.7,226.9 1086,209.3 1061.8,193.3 1039.8,180.3 1029.8,175.3 1019.9,170.9 1014.2,167.8 966.3,139.9 952.1,132.5 939.1,126.6 925.9,121.3 912.4,116.8 900.4,113.7 888.2,111.5 877.5,110.5 866.7,110.4 855.8,111.4 846.6,113.4 837.2,116.4 827.9,120.8 818.4,126.7 810.8,132.8 803.2,140.1 795.6,148.9 788,159.4 782.3,168.4Z" fill="#00ede2"/>
<path d="M782.3,168.4 792.7,173.7 803.2,180.1 815.8,188.4 828.5,197.6 858.2,221.2 892.9,250.9 924.7,280.1 955.4,310.1 987,342.6 1031.3,390 1055.9,390.7 1083,390.3 1093.4,378.3 1104.2,368.2 1114.7,360.3 1126.7,353.4 1138.5,348.6 1151.6,345 1165.9,343 1180.5,342.6 1181.2,335.4 1183.4,324.1 1184.2,315.5 1183.9,305.7 1182.1,297.3 1178.7,289.1 1173.7,281.2 1168.7,275.3 1160.2,267.1 1156.4,262.6 1132.3,243.2 1108.9,225.6 1084.3,208.1 1061.8,193.3 1039.8,180.3 1029.8,175.3 1019.9,170.9 1014.2,167.8 966.3,139.9 953.7,133.3 940.8,127.3 927.6,121.9 914.1,117.3 902.1,114.1 889.9,111.8 877.5,110.5 866.7,110.4 855.8,111.4 846.6,113.4 837.2,116.4 827.9,120.8 818.4,126.7 810.8,132.8 803.2,140.1 795.6,148.9 788,159.4 782.3,168.4Z" fill="#00eac7"/>
<path d="M782.3,168.4 792.7,173.7 803.2,180.1 814,187.2 826.6,196.3 856.3,219.6 890.9,249.2 922.7,278.2 953.3,308 984.9,340.4 1026.2,384.5 1059.6,385.2 1088.2,384 1097,374.7 1105.9,366.7 1116.4,359.2 1126.7,353.4 1136.8,349.1 1148.3,345.7 1161.2,343.5 1173.3,342.6 1175,335 1177.8,324.8 1179.6,314.1 1179.7,304.1 1178.1,294.7 1174.7,285.9 1170,278.3 1164.3,271.4 1155,262.7 1151,258.2 1128.7,240.4 1105.4,223 1080.8,205.7 1060.1,192.2 1038.2,179.5 1028.2,174.5 1019.9,170.9 1014.2,167.8 967.9,140.7 955.3,134.1 942.4,128 929.3,122.5 915.8,117.9 903.9,114.5 891.7,112 879.3,110.6 868.5,110.3 857.6,111.2 848.4,112.9 839.1,115.7 829.8,119.8 820.3,125.4 812.7,131.2 805.1,138.1 797.5,146.6 789.9,156.6 782.3,168.4Z" fill="#00e698"/>
<path d="M782.3,168.4 792.7,173.7 803.2,180.1 814,187.2 826.6,196.3 856.3,219.6 889,247.5 920.7,276.3 951.3,305.9 982.7,338.1 1021.1,379.1 1040.9,379.7 1058.7,379.6 1078.5,378.7 1094.4,377.3 1102.4,369.7 1109.5,364 1118.2,358.1 1126.7,353.4 1135.2,349.7 1143.4,347 1153.2,344.7 1165.2,343.1 1165.4,342.6 1171.4,326.4 1174.4,314.8 1175.2,308.4 1175.4,303.1 1175.1,297.8 1174.3,292.9 1172.9,288.1 1171.1,283.6 1168.7,279.1 1165.6,274.4 1159.4,267.2 1149.6,258.3 1145.6,253.7 1123.3,236.3 1100.1,219.1 1077.3,203.3 1058.4,191.1 1038.2,179.5 1015.7,168.6 967.9,140.7 955.3,134.1 944,128.7 930.9,123.2 917.5,118.4 903.9,114.5 891.7,112 879.3,110.6 868.5,110.3 857.6,111.2 848.4,112.9 839.1,115.7 829.8,119.8 820.3,125.4 812.7,131.2 805.1,138.1 797.5,146.6 789.9,156.6 782.3,168.4Z" fill="#00e366"/>
<path d="M782.3,168.4 790.9,172.8 801.5,178.9 812.2,185.9 824.8,194.9 852.6,216.5 885.1,244 916.6,272.6 947.1,301.8 978.5,333.7 1016.1,373.6 1040.4,374.2 1061.6,373.9 1083.7,372.3 1102.3,369.8 1107.7,365.3 1114.7,360.3 1126.7,353.4 1133.5,350.4 1140.1,348 1148.3,345.7 1155.3,344.3 1159.1,338.4 1165.2,325.8 1169,314.3 1170.8,303.9 1170.8,294.1 1170,289 1168.8,284.7 1165.3,276.8 1159.8,268.8 1154.2,262.7 1144.2,253.9 1140,249.3 1117.9,232.2 1096.5,216.6 1073.8,201 1055,189.1 1036.5,178.6 1015.7,168.6 978.7,146.8 963.2,138.2 948.9,131 934.2,124.5 920.9,119.5 909,115.9 896.9,113 886.4,111.3 875.7,110.4 864.9,110.5 853.9,111.7 844.7,113.9 835.4,117.2 827.9,120.8 818.4,126.7 810.8,132.8 803.2,140.1 795.6,148.9 788,159.4 782.3,168.4Z" fill="#00e233"/>
<path d="M782.3,168.4 790.9,172.8 801.5,178.9 812.2,185.9 824.8,194.9 852.6,216.5 883.1,242.3 914.6,270.7 945.1,299.8 976.4,331.5 1011,368.2 1044.1,368.8 1071.5,367.5 1084.9,366.1 1096.8,364.3 1107.4,362.1 1115.3,359.9 1126.7,353.4 1133.5,350.4 1140.4,347.9 1143.7,345.3 1149.3,339.4 1154.4,332.2 1158.6,325.1 1161.8,317.9 1165,307.6 1166.6,297.2 1166.1,287.8 1164,279.7 1160.2,271.8 1154.8,264.4 1149,258.3 1138.7,249.4 1134.4,244.9 1112.5,228.2 1091.3,212.9 1070.4,198.8 1053.3,188 1036.5,178.6 1015.7,168.6 978.7,146.8 963.2,138.2 947.3,130.2 930.9,123.2 917.5,118.4 905.6,115 893.4,112.3 882.9,110.9 872.1,110.3 861.3,110.8 852.1,112.1 842.8,114.4 833.5,118 826,121.9 818.4,126.7 810.8,132.8 803.2,140.1 795.6,148.9 788,159.4 782.3,168.4Z" fill="#01e100"/>
<path d="M782.3,168.4 790.9,172.8 801.5,178.9 823,193.6 850.7,215 881.2,240.7 912.6,268.9 943,297.8 972.2,327.1 1006,362.8 1021,363.3 1039,363.4 1066.3,362.1 1079.6,360.7 1091.4,358.8 1101.9,356.6 1113.2,353.3 1120.9,350.4 1129.1,346.3 1134.5,342.7 1140.1,338.1 1145.7,332.2 1150.2,326.3 1154.4,319.2 1158.1,311.1 1161.1,300.9 1162.2,291.7 1161.7,283.1 1160.7,279.1 1159.1,274.4 1155.1,266.9 1149.7,259.9 1143.8,253.9 1133.1,245 1128.7,240.4 1108.9,225.6 1087.7,210.5 1068.7,197.6 1051.6,187 1034.8,177.7 1019.9,170.9 1015.7,168.6 978.7,146.8 961.6,137.4 945.6,129.5 929.3,122.5 917.5,118.4 905.6,115 893.4,112.3 882.9,110.9 872.1,110.3 861.3,110.8 852.1,112.1 842.8,114.4 833.5,118 826,121.9 818.4,126.7 810.8,132.8 803.2,140.1 795.6,148.9 788,159.4 782.3,168.4Z" fill="#23e300"/>
<path d="M782.3,168.4 790.9,172.8 799.7,177.9 821.2,192.3 847,212 877.3,237.3 908.7,265.2 938.9,293.8 967.9,322.8 1001,357.4 1016,358 1034,358 1061.2,356.8 1074.4,355.3 1086.2,353.5 1096.6,351.3 1107.8,348 1115.4,345 1123.6,341 1130.4,336.6 1137.1,331.1 1142.5,325.3 1147.5,318.4 1151.4,311.5 1154.4,304.4 1156.9,295.3 1157.9,286.1 1157,277.6 1154.2,269.3 1150.3,262.5 1144.4,255.2 1137,248.2 1127.4,240.5 1122.9,236 1103.6,221.7 1084.3,208.1 1065.2,195.4 1049.9,186 1034.8,177.7 1019.9,170.9 1015.7,168.6 977.1,145.9 960,136.5 942.4,128 925.9,121.3 914.1,117.3 902.1,114.1 891.7,112 881.1,110.7 870.3,110.3 861.3,110.8 852.1,112.1 842.8,114.4 833.5,118 826,121.9 818.4,126.7 810.8,132.8 803.2,140.1 795.6,148.9 788,159.4 782.3,168.4Z" fill="#46e600"/>
<path d="M782.3,168.4 790.9,172.8 799.7,177.9 821.2,192.3 847,212 875.4,235.6 904.7,261.6 934.8,289.8 963.7,318.5 995.9,352 1010.9,352.6 1029,352.7 1056.1,351.4 1069.3,350 1081.1,348.2 1091.4,346 1102.6,342.7 1110.3,339.8 1118.5,335.8 1125.4,331.5 1132.2,326.1 1137.7,320.4 1142.9,313.6 1146.9,306.7 1150.4,298.8 1152.8,289.8 1153.4,280.6 1152.2,272.3 1149.4,264.8 1145.3,258 1138.9,250.6 1131.5,243.7 1121.5,236 1117,231.5 1098.3,217.9 1079,204.5 1063.5,194.3 1048.2,185 1034.8,177.7 1019.9,170.9 1015.7,168.6 977.1,145.9 960,136.5 942.4,128 924.3,120.7 912.4,116.8 900.4,113.7 889.9,111.8 879.3,110.6 868.5,110.3 859.4,110.9 850.3,112.5 841,115.1 831.6,118.9 824.1,123 816.5,128.1 808.9,134.5 801.3,142.2 795.6,148.9 788,159.4 782.3,168.4Z" fill="#69e800"/>
<path d="M782.3,168.4 790.9,172.8 799.7,177.9 821.2,192.3 845.1,210.5 873.5,234 902.7,259.8 932.8,287.9 961.7,316.4 990.9,346.7 1005.9,347.3 1024.1,347.4 1051.1,346.1 1064.3,344.7 1076,342.9 1086.4,340.7 1097.6,337.5 1107,333.9 1115,329.9 1121.8,325.6 1128.4,320.2 1133.9,314.6 1139,307.9 1143,301 1146.3,293.2 1148.6,284.2 1149,276.1 1147.7,267.8 1144.6,260.3 1140.3,253.6 1134.1,246.6 1126,239.3 1115.7,231.6 1110.9,227 1093,214.1 1075.6,202.2 1060.1,192.2 1044.9,183.1 1033.1,176.9 1017.1,169.4 977.1,145.9 958.4,135.7 939.1,126.6 920.9,119.5 909,115.9 898.7,113.3 888.2,111.5 877.5,110.5 866.7,110.4 857.6,111.2 848.4,112.9 841,115.1 831.6,118.9 824.1,123 816.5,128.1 808.9,134.5 801.3,142.2 795.6,148.9 788,159.4 782.3,168.4Z" fill="#8cea00"/>
<path d="M782.3,168.4 790.9,172.8 799.7,177.9 819.4,191 843.2,209 869.6,230.7 898.8,256.2 928.7,284 957.5,312.2 985.8,341.3 1000.9,341.9 1019.1,342.1 1035.2,341.6 1049.6,340.6 1062.4,339.1 1073.7,337.2 1083.8,334.9 1094.6,331.7 1103.8,328 1111.6,324 1118.2,319.7 1124.7,314.4 1130.1,308.8 1135.1,302.1 1139,295.4 1142.3,287.6 1144.3,278.7 1144.5,270.6 1142.9,263 1139.5,255.3 1134.7,248.5 1128,241.4 1120.2,234.8 1109.7,227.1 1104.8,222.6 1087.7,210.5 1070.4,198.8 1056.7,190.1 1043.2,182.2 1031.5,176.1 1017.1,169.4 975.6,145.1 956.9,134.9 937.5,125.9 919.2,118.9 907.3,115.4 896.9,113 886.4,111.3 875.7,110.4 864.9,110.5 855.8,111.4 846.6,113.4 839.1,115.7 831.6,118.9 824.1,123 816.5,128.1 808.9,134.5 801.3,142.2 795.6,148.9 788,159.4 782.3,168.4Z" fill="#a2ec00"/>
<path d="M782.3,168.4 790.9,172.8 799.7,177.9 819.4,191 841.4,207.5 867.7,229.1 896.8,254.4 924.7,280.1 951.3,305.9 980.7,336 995.9,336.6 1014.1,336.8 1030.3,336.3 1044.7,335.3 1057.5,333.9 1068.8,332 1078.9,329.8 1089.7,326.5 1099,322.9 1106.8,319 1113.5,314.8 1120.1,309.5 1125.6,304 1130.7,297.4 1134.6,290.7 1137.9,283 1139.9,274.2 1140,266.3 1138.4,258.9 1134.9,251.5 1130.1,244.7 1123.3,237.7 1114.8,230.6 1103.6,222.5 1098.6,218.1 1067,196.5 1053.3,188 1041.5,181.3 1031.5,176.1 1017.1,169.4 975.6,145.1 956.9,134.9 937.5,125.9 917.5,118.4 905.6,115 895.2,112.7 884.6,111.1 875.7,110.4 864.9,110.5 855.8,111.4 846.6,113.4 839.1,115.7 831.6,118.9 824.1,123 816.5,128.1 808.9,134.5 801.3,142.2 795.6,148.9 788,159.4 782.3,168.4Z" fill="#b4ee00"/>
<path d="M782.3,168.4 797.9,176.8 817.6,189.7 839.5,206.1 863.9,225.9 892.9,250.9 920.7,276.3 947.1,301.8 975.6,330.7 990.9,331.3 1009.2,331.5 1036.3,330.4 1049.5,329.1 1063.9,326.8 1074,324.6 1084.9,321.4 1094.2,317.9 1102.1,314 1110,309 1116.5,303.7 1121.9,298.3 1126.9,291.8 1130.7,285.2 1133.8,277.5 1135.4,269.7 1135.4,261.7 1133.4,253.9 1129.7,246.6 1124.6,240.1 1117.7,233.2 1109.1,226.3 1097.5,218.1 1092.2,213.6 1070.4,198.8 1049.9,186 1034.8,177.7 1019.9,170.9 1015.7,168.6 966.3,139.9 953.7,133.3 940.8,127.3 927.6,121.9 915.8,117.9 903.9,114.5 893.4,112.3 882.9,110.9 873.9,110.3 864.9,110.5 855.8,111.4 846.6,113.4 839.1,115.7 831.6,118.9 824.1,123 816.5,128.1 808.9,134.5 801.3,142.2 795.6,148.9 788,159.4 782.3,168.4Z" fill="#c6ef00"/>
<path d="M782.3,168.4 797.9,176.8 815.8,188.4 837.7,204.6 862,224.3 889,247.5 916.6,272.6 943,297.8 970.4,325.3 985.8,326 1004.2,326.3 1031.4,325.2 1044.6,323.9 1059.1,321.7 1069.1,319.5 1080.1,316.4 1089.4,312.9 1097.4,309 1105.4,304.1 1112,298.9 1118.2,292.6 1123.1,286.2 1126.8,279.6 1129.4,272.9 1131,265.2 1130.8,257.2 1128.8,250 1124.8,242.5 1119.4,235.8 1112.1,228.8 1103.4,222 1091.1,213.6 1085.7,209.1 1065.2,195.4 1048.2,185 1034.8,177.7 1019.9,170.9 1015.7,168.6 980.2,147.7 964.7,139 952.1,132.5 939.1,126.6 925.9,121.3 914.1,117.3 902.1,114.1 891.7,112 881.1,110.7 872.1,110.3 863.1,110.6 853.9,111.7 844.7,113.9 837.2,116.4 829.8,119.8 822.2,124.2 814.6,129.6 807,136.3 799.4,144.3 793.7,151.4 788,159.4 782.3,168.4Z" fill="#d8f100"/>
<path d="M782.3,168.4 797.9,176.8 815.8,188.4 835.8,203.2 860.1,222.7 887,245.7 912.6,268.9 938.9,293.8 965.2,320 980.7,320.7 999.2,321 1026.5,320 1039.8,318.7 1054.2,316.6 1064.3,314.4 1075.3,311.3 1084.7,307.9 1092.7,304.1 1100.8,299.2 1107.4,294.1 1113.7,287.9 1118.6,281.5 1122.4,275 1125,268.4 1126.4,261.6 1126.4,254.8 1125.1,248.7 1122.4,242.4 1118.2,236.2 1112.8,230.1 1106.1,224.2 1097.6,217.8 1084.7,209.1 1075.6,202.2 1051.6,187 1034.8,177.7 1019.9,170.9 1015.7,168.6 966.3,139.9 952.1,132.5 939.1,126.6 925.9,121.3 912.4,116.8 902.1,114.1 891.7,112 881.1,110.7 872.1,110.3 863.1,110.6 853.9,111.7 844.7,113.9 837.2,116.4 829.8,119.8 822.2,124.2 814.6,129.6 807,136.3 799.4,144.3 793.7,151.4 788,159.4 782.3,168.4Z" fill="#eaf200"/>
<path d="M782.3,168.4 797.9,176.8 814,187.2 834,201.8 856.3,219.6 883.1,242.3 908.7,265.2 934.8,289.8 960,314.7 975.6,315.5 994.2,315.8 1021.6,314.8 1034.9,313.6 1049.4,311.5 1059.5,309.4 1070.6,306.3 1080,302.9 1088,299.1 1096.2,294.3 1102.9,289.3 1109.2,283.2 1114.2,276.8 1117.9,270.4 1120.6,263.6 1121.8,257.1 1121.8,251.3 1120.6,245.2 1117.9,239 1113.5,232.5 1108.3,226.8 1101.7,220.9 1092.9,214.3 1078.1,204.5 1072.1,199.9 1049.9,186 1034.8,177.7 1019.9,170.9 1015.7,168.6 980.2,147.7 964.7,139 950.5,131.7 937.5,125.9 924.3,120.7 910.7,116.3 900.4,113.7 889.9,111.8 879.3,110.6 870.3,110.3 861.3,110.8 853.9,111.7 844.7,113.9 837.2,116.4 829.8,119.8 822.2,124.2 814.6,129.6 807,136.3 799.4,144.3 793.7,151.4 788,159.4 782.3,168.4Z" fill="#f3f000"/>
<path d="M782.3,168.4 797.9,176.8 814,187.2 832.1,200.4 854.5,218.1 879.3,239 904.7,261.6 930.8,285.9 954.7,309.4 970.4,310.2 989.1,310.6 1016.7,309.7 1030,308.5 1044.6,306.4 1054.8,304.3 1065.8,301.3 1075.3,297.9 1084.9,293.5 1092.8,288.7 1099.4,283.7 1105.5,277.6 1110.4,271.3 1113.9,264.9 1116.3,258.3 1117.2,252.4 1117,246.1 1115.6,240.5 1112.7,234.3 1108.7,228.8 1103.2,222.8 1095.9,216.6 1087.1,210.1 1071.4,200 1065.1,195.4 1048.2,185 1034.8,177.7 1019.9,170.9 1015.7,168.6 978.7,146.8 963.2,138.2 948.9,131 935.9,125.2 922.6,120.1 909,115.9 898.7,113.3 888.2,111.5 877.5,110.5 868.5,110.3 859.4,110.9 852.1,112.1 842.8,114.4 835.4,117.2 827.9,120.8 820.3,125.4 812.7,131.2 807,136.3 799.4,144.3 793.7,151.4 788,159.4 782.3,168.4Z" fill="#f8eb00"/>
<path d="M782.3,168.4 796.2,175.7 812.2,185.9 830.3,199 850.7,215 875.4,235.6 900.7,258 924.7,280.1 949.4,304.1 965.2,304.9 984,305.3 1011.8,304.5 1025.2,303.3 1039.8,301.3 1050,299.3 1061.1,296.3 1070.6,293 1080.2,288.6 1088.2,283.9 1094.8,278.9 1101,272.9 1105.9,266.7 1109.4,260.3 1111.7,253.9 1112.6,247.2 1112.1,241.3 1110.4,235.6 1107.5,230 1103.5,224.6 1098,218.9 1091,213 1082.2,206.6 1064.4,195.4 1057.7,190.7 1046.5,184.1 1033.1,176.9 1019.9,170.9 1015.7,168.6 977.1,145.9 960,136.5 945.6,129.5 932.6,123.8 919.2,118.9 907.3,115.4 896.9,113 886.4,111.3 877.5,110.5 868.5,110.3 859.4,110.9 852.1,112.1 842.8,114.4 835.4,117.2 827.9,120.8 820.3,125.4 812.7,131.2 807,136.3 799.4,144.3 793.7,151.4 788,159.4 782.3,168.4Z" fill="#fae100"/>
<path d="M782.3,168.4 796.2,175.7 812.2,185.9 828.5,197.6 848.8,213.5 871.6,232.4 896.8,254.4 920.7,276.3 944,298.7 960,299.6 978.9,300.1 1006.8,299.4 1020.3,298.2 1034.9,296.2 1045.2,294.2 1056.3,291.3 1065.9,288.1 1075.6,283.7 1083.7,279.1 1090.3,274.1 1096.5,268.2 1101,262.6 1104.9,255.8 1107,249.8 1107.8,243.6 1107.4,237.8 1105.6,231.8 1102.9,226.6 1098.9,221.2 1093.4,215.5 1086.2,209.5 1077.4,203.2 1046.5,184.1 1033.1,176.9 1017.1,169.4 977.1,145.9 958.4,135.7 944,128.7 930.9,123.2 917.5,118.4 905.6,115 895.2,112.7 886.4,111.3 877.5,110.5 868.5,110.3 859.4,110.9 852.1,112.1 842.8,114.4 835.4,117.2 827.9,120.8 820.3,125.4 812.7,131.2 807,136.3 799.4,144.3 793.7,151.4 788,159.4 782.3,168.4Z" fill="#fbd200"/>
<path d="M782.3,168.4 796.2,175.7 810.4,184.7 826.6,196.3 847,212 869.6,230.7 892.9,250.9 916.6,272.6 938.5,293.4 954.7,294.4 973.8,294.9 1001.8,294.2 1015.4,293.1 1030.1,291.2 1040.4,289.2 1051.6,286.4 1061.2,283.1 1071,278.9 1079.1,274.3 1085.7,269.4 1091.2,264.4 1096.2,258.3 1099.9,252.1 1102.2,245.7 1103,240 1102.7,234.3 1100.9,228.3 1098.2,223.1 1094.2,217.7 1088.6,212 1081.3,206 1072.4,199.8 1042.4,181.8 1031.5,176.1 1017.1,169.4 975.6,145.1 956.9,134.9 942.4,128 929.3,122.5 915.8,117.9 903.9,114.5 893.4,112.3 884.6,111.1 875.7,110.4 866.7,110.4 857.6,111.2 850.3,112.5 841,115.1 833.5,118 826,121.9 820.3,125.4 812.7,131.2 807,136.3 799.4,144.3 793.7,151.4 788,159.4 782.3,168.4Z" fill="#fbc400"/>
<path d="M782.3,168.4 794.4,174.7 808.6,183.5 824.8,194.9 843.2,209 863.9,225.9 887,245.7 910.6,267 933,288.1 949.3,289.1 968.6,289.7 996.8,289.1 1010.4,288.1 1025.2,286.1 1035.6,284.2 1046.8,281.4 1056.5,278.2 1066.3,274 1074.4,269.5 1081.2,264.7 1086.6,259.7 1091.6,253.7 1095.3,247.5 1097.5,241.1 1098.2,235.5 1097.7,229.8 1095.9,224.2 1092.7,218.6 1088.4,213.2 1082.8,207.7 1075.4,201.8 1067.5,196.4 1055,188.7 1038,179.3 1015.7,168.6 975.6,145.1 953.7,133.3 940.8,127.3 927.6,121.9 914.1,117.3 902.1,114.1 891.7,112 882.9,110.9 873.9,110.3 864.9,110.5 855.8,111.4 848.4,112.9 841,115.1 833.5,118 826,121.9 820.3,125.4 812.7,131.2 807,136.3 799.4,144.3 793.7,151.4 788,159.4 782.3,168.4Z" fill="#fcb500"/>
<path d="M782.3,168.4 794.4,174.7 808.6,183.5 824.8,194.9 841.4,207.5 862,224.3 883.1,242.3 904.7,261.6 927.5,282.8 944,283.9 963.3,284.5 991.8,284 1005.5,283 1017.6,281.5 1030.7,279.2 1042.1,276.5 1051.8,273.3 1061.6,269.2 1069.8,264.7 1076.5,259.9 1082,255 1087,249 1090.6,242.9 1092.7,236.6 1093.3,231 1092.7,225.6 1090.8,220.3 1087.7,214.8 1083.5,209.7 1077.8,204.2 1070.4,198.4 1062.5,193 1052.1,186.7 1040.2,180.2 1029.1,174.7 1017.1,169.4 974.1,144.2 952.1,132.5 939.1,126.6 925.9,121.3 912.4,116.8 900.4,113.7 891.7,112 882.9,110.9 873.9,110.3 864.9,110.5 855.8,111.4 848.4,112.9 841,115.1 833.5,118 826,121.9 820.3,125.4 812.7,131.2 807,136.3 799.4,144.3 793.7,151.4 788,159.4 782.3,168.4Z" fill="#fc9e00"/>
<path d="M782.3,168.4 794.4,174.7 808.6,183.5 823,193.6 839.5,206.1 858.2,221.2 879.3,239 900.7,258 921.9,277.5 938.5,278.6 958.1,279.3 986.7,278.9 1000.5,277.9 1015.4,276.1 1025.9,274.2 1037.3,271.5 1047,268.4 1056.9,264.3 1065.1,259.9 1071.9,255.2 1077.4,250.3 1082.4,244.4 1085.9,238.3 1087.8,232.4 1088.3,227.4 1087.6,221.7 1085.9,216.7 1082.6,211.1 1078.5,206.1 1072.7,200.7 1065.4,194.9 1057.4,189.6 1047.1,183.5 1036,177.6 1025.1,172.5 1016,168.8 974.1,144.2 950.5,131.7 937.5,125.9 924.3,120.7 910.7,116.3 898.7,113.3 889.9,111.8 881.1,110.7 872.1,110.3 863.1,110.6 853.9,111.7 846.6,113.4 839.1,115.7 831.6,118.9 824.1,123 818.4,126.7 810.8,132.8 805.1,138.1 799.4,144.3 793.7,151.4 788,159.4 782.3,168.4Z" fill="#fc8400"/>
<path d="M782.3,168.4 794.4,174.7 806.8,182.3 821.2,192.3 837.7,204.6 856.3,219.6 875.4,235.6 896.8,254.4 916.2,272.2 933,273.3 952.7,274.1 981.6,273.8 995.4,272.8 1007.7,271.5 1021,269.3 1032.4,266.6 1042.2,263.6 1050.7,260.2 1059.2,255.9 1066.2,251.3 1071.9,246.5 1077,240.6 1080.7,234.6 1082.8,228.4 1083.3,222.8 1082.6,218 1080.8,213 1077.6,207.5 1073.4,202.5 1067.7,197.2 1061.3,192.2 1052.6,186.4 1042.9,180.7 1031.8,175 1022.5,170.8 1012.5,166.9 972.5,143.3 948.9,131 935.9,125.2 922.6,120.1 909,115.9 896.9,113 888.2,111.5 879.3,110.6 870.3,110.3 861.3,110.8 853.9,111.7 846.6,113.4 839.1,115.7 831.6,118.9 824.1,123 818.4,126.7 810.8,132.8 805.1,138.1 799.4,144.3 793.7,151.4 788,159.4 782.3,168.4Z" fill="#fd6800"/>
<path d="M782.3,168.4 792.7,173.7 805,181.2 819.4,191 834,201.8 850.7,215 869.6,230.7 890.9,249.2 910.5,266.9 927.4,268.1 947.3,268.9 976.4,268.6 990.4,267.8 1002.7,266.4 1016.1,264.3 1027.6,261.7 1037.4,258.7 1047.4,254.7 1055.7,250.4 1062.5,245.8 1068,241 1072.9,235.1 1075.8,230 1077.8,223.8 1078.1,218.6 1077.3,213.6 1075.4,208.6 1072.2,203.5 1068.3,199 1062.5,193.7 1055.2,188.1 1047.2,183 1038.2,177.8 1028.7,173 1019.3,168.8 1009.2,164.9 971,142.4 958.4,135.7 945.6,129.5 932.6,123.8 919.2,118.9 907.3,115.4 895.2,112.7 886.4,111.3 877.5,110.5 868.5,110.3 861.3,110.8 853.9,111.7 846.6,113.4 839.1,115.7 831.6,118.9 824.1,123 818.4,126.7 810.8,132.8 805.1,138.1 799.4,144.3 793.7,151.4 788,159.4 782.3,168.4Z" fill="#fd4b00"/>
<path d="M782.3,168.4 792.7,173.7 805,181.2 817.6,189.7 832.1,200.4 848.8,213.5 865.8,227.5 904.7,261.6 921.8,262.8 941.9,263.7 971.2,263.5 985.2,262.7 997.6,261.4 1008.6,259.8 1020.5,257.3 1030.7,254.4 1041.1,250.5 1049.6,246.3 1056.7,241.8 1062.3,237.1 1067.4,231.4 1070.9,225.4 1072.7,219.5 1073,214.7 1072.1,209.5 1070.1,204.7 1066.6,199.5 1062.3,194.7 1056.5,189.5 1050,184.7 1042,179.6 1033.4,174.9 1024.4,170.4 1005.8,163 969.4,141.6 956.9,134.9 944,128.7 930.9,123.2 917.5,118.4 905.6,115 893.4,112.3 884.6,111.1 875.7,110.4 866.7,110.4 859.4,110.9 852.1,112.1 844.7,113.9 837.2,116.4 829.8,119.8 822.2,124.2 816.5,128.1 810.8,132.8 805.1,138.1 799.4,144.3 793.7,151.4 788,159.4 782.3,168.4Z" fill="#fe2a00"/>
<path d="M782.3,168.4 792.7,173.7 803.2,180.1 815.8,188.4 830.3,199 862,224.3 898.8,256.3 916.1,257.6 936.4,258.5 965.9,258.4 980.1,257.6 992.5,256.4 1003.5,254.8 1015.5,252.4 1025.8,249.5 1036.2,245.7 1044.8,241.5 1051.8,237.1 1057.5,232.4 1062.5,226.7 1065.9,220.8 1067.4,215.5 1067.7,211 1066.8,205.8 1064.9,201.1 1061.8,196.4 1057.9,191.9 1052.2,186.8 1045.7,182 1037.7,176.9 1021.2,168.4 1002.5,161 967.9,140.7 955.3,134.1 942.4,128 929.3,122.5 915.8,117.9 903.9,114.5 891.7,112 882.9,110.9 873.9,110.3 864.9,110.5 857.6,111.2 850.3,112.5 842.8,114.4 835.4,117.2 829.8,119.8 822.2,124.2 816.5,128.1 810.8,132.8 805.1,138.1 799.4,144.3 793.7,151.4 788,159.4 782.3,168.4Z" fill="#ff1200"/>
<path d="M782.3,168.4 792.7,173.7 803.2,180.1 815.8,188.4 828.5,197.6 858.2,221.2 892.9,251 910.4,252.3 930.8,253.3 960.6,253.3 974.8,252.6 987.4,251.4 998.5,249.8 1010.5,247.4 1020.9,244.6 1031.3,240.9 1039.9,236.8 1047,232.4 1052.6,227.7 1057.5,222.1 1060.5,217 1062.2,210.9 1062.3,206.4 1061.4,201.7 1059.2,196.9 1056.1,192.4 1051.8,187.7 1046.6,183.1 1040.2,178.5 1032.4,173.6 1016.8,165.8 999.1,159 966.3,139.9 952.1,132.5 939.1,126.6 925.9,121.3 914.1,117.3 902.1,114.1 889.9,111.8 873.9,110.3 864.9,110.5 857.6,111.2 850.3,112.5 842.8,114.4 835.4,117.2 829.8,119.8 822.2,124.2 816.5,128.1 810.8,132.8 805.1,138.1 799.4,144.3 793.7,151.4 788,159.4 782.3,168.4Z" fill="#ff0400"/>
<path d="M782.3,168.4 790.9,172.8 801.5,178.9 812.2,185.9 824.8,194.9 854.5,218.1 886.9,245.7 904.6,247.1 925.2,248.1 955.2,248.2 969.6,247.5 982.2,246.4 993.3,244.8 1005.5,242.5 1015.9,239.8 1024.7,236.7 1033.6,232.7 1040.9,228.4 1046.8,223.8 1051.9,218.2 1054.9,213.3 1056.8,207.2 1056.9,202.7 1056,198.1 1054.2,193.9 1051.1,189.2 1047.3,185 1041.5,180 1035.1,175.3 1028,171 1013.5,163.7 995.7,156.9 977.1,145.9 963.2,138.2 950.5,131.7 937.5,125.9 924.3,120.7 912.4,116.8 900.4,113.7 888.2,111.5 879.3,110.6 872.1,110.3 863.1,110.6 855.8,111.4 848.4,112.9 841,115.1 833.5,118 827.9,120.8 820.3,125.4 814.6,129.6 808.9,134.5 803.2,140.1 797.5,146.6 791.8,153.9 782.3,168.4Z" fill="#ff0000"/>
<path d="M782.3,168.4 790.9,172.8 801.5,178.9 823,193.6 850.7,215 880.9,240.4 898.7,241.8 919.5,242.9 949.8,243.1 964.2,242.5 977,241.4 988.2,239.9 1000.4,237.6 1010.8,234.9 1019.7,231.9 1028.6,227.9 1035.9,223.6 1041.7,219.1 1046.8,213.6 1049.9,208.2 1051.4,202.6 1051.4,198.1 1050.4,194 1048.4,189.6 1045.4,185.4 1041.1,180.8 1036.1,176.6 1029.7,172 1022.5,167.7 1009,161.1 992.4,154.9 975.6,145.1 961.6,137.4 948.9,131 935.9,125.2 922.6,120.1 910.7,116.3 898.7,113.3 886.4,111.3 877.5,110.5 870.3,110.3 863.1,110.6 855.8,111.4 848.4,112.9 841,115.1 833.5,118 827.9,120.8 820.3,125.4 814.6,129.6 808.9,134.5 803.2,140.1 797.5,146.6 791.8,153.9 782.3,168.4Z" fill="#ff0000"/>
<path d="M782.3,168.4 790.9,172.8 799.7,177.9 821.2,192.3 847,212 874.7,235.1 892.8,236.6 913.8,237.7 944.3,238 958.9,237.4 971.7,236.3 982.9,234.9 995.2,232.7 1005.7,230 1014.6,227.1 1023.6,223.1 1030.9,218.9 1036.6,214.4 1041,209.7 1044.2,204.5 1045.8,198.9 1045.8,194.4 1044.9,190.4 1042.8,186 1039.9,181.9 1036.1,177.8 1031,173.4 1025.1,169.3 1018,165.1 1005.6,159.1 988.9,152.9 960,136.5 947.3,130.2 934.2,124.5 920.9,119.5 909,115.9 896.9,113 884.6,111.1 875.7,110.4 868.5,110.3 861.3,110.8 853.9,111.7 846.6,113.4 841,115.1 833.5,118 827.9,120.8 820.3,125.4 814.6,129.6 808.9,134.5 803.2,140.1 797.5,146.6 791.8,153.9 782.3,168.4Z" fill="#ff0000"/>
<path d="M782.3,168.4 790.9,172.8 799.7,177.9 819.4,191 841.4,207.5 868.5,229.8 886.7,231.3 908,232.6 938.8,232.9 953.4,232.4 966.3,231.3 977.7,229.9 990,227.7 1000.5,225.1 1009.5,222.2 1018.5,218.3 1025.7,214.2 1031.4,209.7 1035.8,205 1038.9,199.6 1040.2,194.2 1040,189.8 1039,186 1036.7,181.7 1033.8,177.7 1030.1,174 1025.1,169.8 1019.6,166 1012.4,161.9 1000.9,156.5 985.5,150.8 971,142.4 956.9,134.9 944,128.7 930.9,123.2 917.5,118.4 905.6,115 893.4,112.3 882.9,110.9 873.9,110.3 866.7,110.4 859.4,110.9 852.1,112.1 844.7,113.9 839.1,115.7 831.6,118.9 826,121.9 820.3,125.4 814.6,129.6 808.9,134.5 803.2,140.1 797.5,146.6 791.8,153.9 782.3,168.4Z" fill="#ff0000"/>
<path d="M782.3,168.4 797.9,176.8 815.8,188.4 837.7,204.6 862.2,224.5 874.8,225.6 907,227.6 937,227.8 951.3,227.1 963.9,226 975,224.6 987,222.3 997.2,219.7 1005.9,216.8 1013.3,213.6 1020.5,209.4 1026.2,205 1030.4,200.4 1033.1,195.5 1034.4,190.5 1034.3,186.2 1033.3,182.5 1031.4,178.6 1028.5,174.6 1024.6,170.6 1019.6,166.5 1013.9,162.8 1007.8,159.2 997.4,154.4 982,148.8 967.9,140.7 953.7,133.3 940.8,127.3 929.3,122.5 915.8,117.9 903.9,114.5 891.7,112 881.1,110.7 866.7,110.4 859.4,110.9 852.1,112.1 844.7,113.9 839.1,115.7 831.6,118.9 826,121.9 820.3,125.4 814.6,129.6 808.9,134.5 803.2,140.1 797.5,146.6 791.8,153.9 782.3,168.4Z" fill="#fb0000"/>
<path d="M782.3,168.4 797.9,176.8 814,187.2 834,201.8 855.8,219.2 880.2,221.3 910.5,222.7 938.8,222.4 952.3,221.6 964.2,220.4 974.6,218.8 985.9,216.4 995.6,213.7 1003.7,210.7 1010.6,207.4 1017.2,203.2 1021.6,199.6 1025.5,194.9 1027.8,190.1 1028.6,185.8 1028.3,181.7 1027.2,178.1 1025.4,174.8 1022.5,170.9 1018.3,166.8 1013.9,163.2 1008.2,159.5 1001.9,156.1 992.7,151.9 978.5,146.7 963.2,138.2 950.5,131.7 937.5,125.9 925.9,121.3 914.1,117.3 902.1,114.1 889.9,111.8 879.3,110.6 864.9,110.5 857.6,111.2 850.3,112.5 842.8,114.4 837.2,116.4 829.8,119.8 824.1,123 818.4,126.7 812.7,131.2 807,136.3 801.3,142.2 791.8,153.9 782.3,168.4Z" fill="#f70000"/>
<path d="M782.3,168.4 796.2,175.7 812.2,185.9 830.3,199 849.3,213.8 885,216.8 913.5,217.7 940.2,217 952.9,216 964.1,214.7 982.6,211 992,208.3 999.9,205.3 1006.4,202 1011.8,198.5 1016.1,194.8 1019.9,190.2 1021.8,186.2 1022.7,182 1022.5,178.5 1021.4,174.7 1019.5,171.1 1016.5,167.2 1012.4,163.2 1008.1,160 997.1,153.5 989,149.8 974.9,144.6 961.6,137.4 948.9,131 935.9,125.2 924.3,120.7 912.4,116.8 900.4,113.7 888.2,111.5 877.5,110.5 863.1,110.6 855.8,111.4 848.4,112.9 841,115.1 835.4,117.2 824.1,123 818.4,126.7 812.7,131.2 807,136.3 801.3,142.2 791.8,153.9 782.3,168.4Z" fill="#f30000"/>
<path d="M782.3,168.4 794.4,174.7 808.6,183.5 824.8,194.9 842.6,208.5 867.8,210.8 889.2,212.1 916,212.6 941.1,211.6 961.2,209.3 979.2,205.7 986.5,203.5 994.4,200.5 1001,197.2 1006.4,193.8 1010.6,190.1 1013.7,186.3 1015.7,182.3 1016.6,177.7 1016.3,173.9 1015.1,170.4 1013.2,167.1 1010.2,163.4 1006.5,159.9 1002.3,156.7 997.2,153.5 991.1,150.3 984,147.3 971.2,142.6 958.4,135.7 945.6,129.5 934.2,124.5 922.6,120.1 910.7,116.3 898.7,113.3 886.4,111.3 875.7,110.4 861.3,110.8 848.4,112.9 841,115.1 835.4,117.2 824.1,123 818.4,126.7 812.7,131.2 807,136.3 801.3,142.2 791.8,153.9 782.3,168.4Z" fill="#f00000"/>
<path d="M782.3,168.4 794.4,174.7 806.8,182.3 821.2,192.3 835.7,203.1 867.1,206 897.3,207.4 921.7,207.3 941.7,206.1 960.6,203.6 977.5,199.7 984.4,197.5 991.7,194.4 996.6,191.8 1001.7,188.3 1005.6,184.7 1008.4,180.9 1009.9,177.4 1010.5,173.5 1010.1,170 1008.8,166.4 1006.8,163 1003.8,159.6 1000.4,156.5 995.8,153.2 985,147.2 967.5,140.5 953.7,133.3 939.1,126.6 919.2,118.9 907.3,115.4 895.2,112.7 884.6,111.1 873.9,110.3 866.7,110.4 859.4,110.9 846.6,113.4 839.1,115.7 833.5,118 822.2,124.2 816.5,128.1 810.8,132.8 801.3,142.2 791.8,153.9 782.3,168.4Z" fill="#ec0000"/>
<path d="M782.3,168.4 792.7,173.7 803.2,180.1 815.8,188.4 828.6,197.7 866.3,201.2 900,202.4 923,202 941.8,200.5 959.6,197.8 975.5,193.8 987.4,189 992.1,186.3 996.9,182.9 999.8,179.9 1002.4,176.3 1003.8,172.9 1004.2,169.6 1003.8,166.2 1002.9,163.5 1000.7,159.7 998.3,156.8 994.6,153.4 990.4,150.4 979.8,144.7 963.6,138.4 950.5,131.7 937.5,125.9 917.5,118.4 905.6,115 893.4,112.3 882.9,110.9 872.1,110.3 859.4,110.9 846.6,113.4 839.1,115.7 833.5,118 822.2,124.2 816.5,128.1 810.8,132.8 801.3,142.2 791.8,153.9 782.3,168.4Z" fill="#e80000"/>
<path d="M782.3,168.4 790.9,172.8 799.7,177.9 821.2,192.3 842.1,194.5 865.3,196.3 885.1,197.2 906.1,197.3 927.1,196.3 944.3,194.5 958.3,192 971.5,188.4 983,183.5 987.4,180.9 991.1,178.1 993.9,175.2 996,172.2 997.3,169 997.8,165.6 997.1,161.1 994.5,156.4 990.5,151.9 985,147.7 975.7,142.6 959.7,136.4 939.1,126.6 920.9,119.5 902.1,114.1 886.4,111.3 877.5,110.5 870.3,110.3 857.6,111.2 844.7,113.9 833.5,118 822.2,124.2 816.5,128.1 810.8,132.8 801.3,142.2 791.8,153.9 782.3,168.4Z" fill="#e40000"/>
<path d="M782.3,168.4 796.2,175.7 813.3,186.7 841.4,189.8 864.2,191.4 887.8,192.2 907.6,192 927.3,190.8 943.5,188.8 956.7,186.2 969,182.4 978.4,178.1 982.5,175.4 985.9,172.6 988.5,169.7 989.9,167.4 991,164.3 991.3,161.3 990.4,157 988.2,152.9 984.5,148.9 978.9,144.7 970.4,140.1 955.7,134.3 934.2,124.5 915.8,117.9 898.7,113.3 882.9,110.9 873.9,110.3 866.7,110.4 853.9,111.7 842.8,114.4 831.6,118.9 820.3,125.4 814.6,129.6 808.9,134.5 799.4,144.3 789.9,156.6 782.3,168.4Z" fill="#de0000"/>
<path d="M782.3,168.4 792.7,173.7 804.8,181 834.4,184.5 862.8,186.5 890,187.2 912,186.6 927.2,185.3 942.4,183.1 954.7,180.3 964.6,177 973.6,172.7 979.8,167.9 982,165.3 983.6,162.7 984.4,159.9 984.6,157 983.6,152.9 981.3,149.1 977.3,145.1 972.8,141.8 964.9,137.6 956.1,134.2 930.9,123.2 912.4,116.8 895.2,112.7 879.3,110.6 864.9,110.5 852.1,112.1 841,115.1 829.8,119.8 818.4,126.7 808.9,134.5 799.4,144.3 789.9,156.6 782.3,168.4Z" fill="#d70000"/>
<path d="M782.3,168.4 795,175 827,179.1 850.9,181 870.8,181.9 891.7,182 912.4,181.1 926.7,179.7 938.7,177.8 950.6,174.9 960.1,171.6 967.5,167.9 973.6,163.1 975.4,160.9 977.1,157.9 977.7,155.5 977.8,153.1 977,149.6 974.8,145.9 971,142 966.4,138.8 958.9,134.9 925.9,121.3 909,115.9 893.4,112.3 877.5,110.5 863.1,110.6 850.3,112.5 839.1,115.7 827.9,120.8 818.4,126.7 808.9,134.5 799.4,144.3 789.9,156.6 782.3,168.4Z" fill="#d00000"/>
<path d="M784.2,165.2 782.3,168.4 803.5,171.7 832.3,174.9 854.6,176.4 873.2,177 892.9,176.8 909.3,175.9 923.2,174.4 934.9,172.4 946.4,169.5 955.4,166.2 962.4,162.4 967.3,158.3 970.1,153.9 970.8,151.5 970.8,149.1 969.9,145.6 967.5,142.1 964.1,138.8 959.8,135.8 952.3,132.1 932.6,123.8 922.6,120.1 905.6,115 889.9,111.8 875.7,110.4 861.3,110.8 850.3,112.5 839.1,115.7 827.9,120.8 818.4,126.7 808.9,134.5 801.3,142.2 791.8,153.9 784.2,165.2Z" fill="#c90000"/>
<path d="M786.1,162.2 784.8,164.2 791,165.3 811,168 836.7,170.5 857.6,171.6 875.1,172 890.1,171.7 906.1,170.7 917.1,169.5 928.8,167.5 938.5,165.2 947.9,161.9 955.1,158.2 960.1,154.2 961.9,152.1 963,149.8 963.7,145.8 962.9,142.6 961.2,139.6 958,136.3 953.8,133.3 948.7,130.6 935.9,125.2 920.9,119.5 905.6,115 889.9,111.8 875.7,110.4 861.3,110.8 850.3,112.5 839.1,115.7 829.8,119.8 820.3,125.4 810.8,132.8 803.2,140.1 793.7,151.4 786.1,162.2Z" fill="#c20000"/>
<path d="M788,159.4 787.5,160 808.8,163.1 829.1,165.1 845.7,166.2 876.4,166.8 890.5,166.4 905.6,165.2 915.8,163.8 926.7,161.7 935.7,159.3 942.9,156.5 948.6,153.4 953.5,149.4 955.8,145.7 956.3,141.8 955.5,138.7 953.6,135.8 951,133.2 947.6,130.9 943.6,128.7 933.5,124.2 917.5,118.4 902.1,114.1 888.2,111.5 873.9,110.3 861.3,110.8 850.3,112.5 839.1,115.7 829.8,119.8 820.3,125.4 810.8,132.8 803.2,140.1 795.6,148.9 788,159.4Z" fill="#bb0000"/>
<path d="M791.8,153.9 790.4,155.8 794.6,156.5 814.1,159 838.2,161 852.9,161.6 869.7,161.7 884,161.3 899.2,160.2 909.5,158.9 920.3,156.8 929.3,154.4 936.5,151.6 942,148.6 946,145.2 948.2,141.6 948.7,138 947.8,135.1 946.3,132.8 943.9,130.4 940.8,128.2 928.6,122.3 915.8,117.9 900.4,113.7 886.4,111.3 873.9,110.3 861.3,110.8 850.3,112.5 841,115.1 831.6,118.9 824.1,123 814.6,129.6 807,136.3 799.4,144.3 791.8,153.9Z" fill="#b40000"/>
<path d="M793.7,151.4 793.5,151.6 802.2,152.8 818.4,154.6 845.6,156.4 870.4,156.5 883.8,155.9 895.4,154.9 905.3,153.6 915.8,151.5 922.7,149.5 929.8,146.8 934.2,144.3 938.3,141 940.4,137.6 940.8,134.3 940.1,131.9 938.7,129.8 936.8,127.9 933.6,125.5 923.3,120.4 910.7,116.3 896.9,113 882.9,110.9 870.3,110.3 859.4,110.9 850.3,112.5 841,115.1 831.6,118.9 824.1,123 816.5,128.1 808.9,134.5 801.3,142.2 793.7,151.4Z" fill="#a90000"/>
<path d="M797.5,146.6 796.9,147.3 810.4,149 827.4,150.5 842.7,151.3 867,151.3 880.1,150.7 891.3,149.6 900.9,148.2 909.1,146.5 916,144.6 921.7,142.4 927.2,139.4 930.3,136.8 932.2,134 932.6,130.9 932.1,129 930.9,126.9 926.6,123.2 917.8,118.5 909,115.9 895.2,112.7 882.9,110.9 870.3,110.3 859.4,110.9 850.3,112.5 842.8,114.4 833.5,118 826,121.9 818.4,126.7 810.8,132.8 803.2,140.1 797.5,146.6Z" fill="#9b0000"/>
<path d="M801.3,142.2 800.6,142.9 812.1,144.3 829.4,145.6 843.8,146.2 866.7,146 887,144.3 902.2,141.6 909,139.7 914.6,137.5 918.9,135.1 922,132.5 923.7,129.7 924,127.3 922.6,124.1 919.2,121 911.9,116.7 905.6,115 893.4,112.3 881.1,110.7 870.3,110.3 859.4,110.9 850.3,112.5 842.8,114.4 835.4,117.2 827.9,120.8 820.3,125.4 814.6,129.6 807,136.3 801.3,142.2Z" fill="#8e0000"/>
<path d="M805.1,138.1 804.8,138.5 819.7,139.9 844.1,141 865.7,140.5 882.2,139 896.8,136.1 901.7,134.7 907.1,132.5 911.2,130.1 913.3,128.1 914.5,126 914.8,123.7 913.8,121.3 911.3,118.9 905.5,114.9 900.4,113.7 888.2,111.5 877.5,110.5 866.7,110.4 857.6,111.2 850.3,112.5 842.8,114.4 835.4,117.2 829.8,119.8 822.2,124.2 816.5,128.1 810.8,132.8 805.1,138.1Z" fill="#810000"/>
<path d="M810.8,132.8 809.6,133.9 812,134.1 825.6,135.2 839.5,135.6 857.8,135.3 874.6,133.9 887.4,131.5 896.7,128.6 900.2,126.8 902.8,125 904.4,122.9 904.9,120.7 904.5,119 903.1,117.2 898.5,113.3 896.9,113 886.4,111.3 875.7,110.4 866.7,110.4 857.6,111.2 844.7,113.9 833.5,118 822.2,124.2 816.5,128.1 810.8,132.8Z" fill="#730000"/>
<path d="M816.5,128.1 815.3,129.1 838.1,130.2 855.5,129.7 868.8,128.3 879.2,126.4 888.2,123.4 892.7,120.3 893.8,118.6 894,117.1 893.5,115.7 890.6,111.9 882.9,110.9 873.9,110.3 864.9,110.5 857.6,111.2 846.6,113.4 835.4,117.2 826,121.9 816.5,128.1Z" fill="#660000"/>
<path d="M824.1,123 822.4,124 842.5,124.3 854.6,123.5 866.3,121.9 873.3,120.1 878.4,118 880.1,116.7 881.2,115.4 881.6,112.1 881.1,110.7 870.3,110.3 861.3,110.8 852.1,112.1 844.7,113.9 837.2,116.4 829.8,119.8 824.1,123Z" fill="#590000"/>
<path d="M1061.4,421.6 1062.3,421.6M1212.3,345.7 1210.4,339.8 1209.4,331.4 1208,324.5 1206.3,318.7 1203.9,312.9 1201.1,307.7 1197.4,302.1 1193.4,297 1188.6,291.9 1185.2,287.2M1023.2,381.2 1042.9,381.8 1060.8,381.8 1076.9,381.2 1091.8,380.1M1168.6,342.8 1173.9,326.2 1176.3,315.6 1177.1,309.2 1177.2,303.9 1176.8,298.9 1176,294.2 1174.7,289.7 1172.7,284.9 1170.3,280.4 1167.5,276.2 1161.4,268.9 1151.8,260.1 1147.8,255.5M986.8,342.4 1011.3,343.2 1036.2,342.6 1057.2,340.9 1066.4,339.7 1077.4,337.7 1084.8,336 1093.6,333.4 1099.5,331.3 1106.5,328.2 1112.6,325 1117.9,321.6 1122.6,318.1 1127.6,313.5 1131.8,308.8 1136,303.1 1139.4,297.3 1142.5,290.5 1144.5,283.6 1145.4,277.6 1145.4,272 1144.5,266.4 1142.8,261.1 1140.8,256.7 1137.5,251.7 1133.7,247 1129.4,242.7 1124.8,238.5 1118.9,233.8 1110.9,228 1106,223.5M949.4,304.1 974.9,305.2 1000.6,305.1 1011.8,304.5 1025.2,303.3 1034.2,302.2 1045,300.3 1054.6,298.1 1063.1,295.7 1070.6,293 1077.2,290.1 1083.1,287 1089.4,283.1 1094.8,278.9 1099.4,274.6 1103.3,270.2 1107,264.9 1109.8,259.4 1111.7,253.8 1112.5,248.4 1112.4,243.3 1111.4,238.3 1109.3,233.2 1106.7,228.7 1103.2,224.2 1099.2,220 1093.9,215.3 1082.2,206.6 1064.4,195.4 1057.7,190.7M909.3,265.8 936.6,267.5 963.7,267.9 975.4,267.6 989.3,266.7 998.7,265.8 1009.9,264.2 1019.9,262.3 1028.7,260.1 1036.5,257.7 1043.3,255.1 1050.8,251.6 1057.2,247.9 1062.5,244 1067,240 1070.7,235.9 1074,230.8 1076.1,225.6 1077,221.1 1077,216.4 1075.9,211.7 1073.9,207.1 1071,202.6 1066.8,197.8 1061.3,192.8 1054.5,187.7 1046.6,182.5 1038.1,177.7 1028.1,172.6 1018.6,168.4 1008.5,164.5M866,227.6 895.4,230 919.8,230.9 944.1,230.7 964.2,229.3 983.2,226.7 998.4,223.2 1005.7,220.9 1012.1,218.4 1017.7,215.8 1023.6,212.3 1028.5,208.6 1032.3,204.8 1035.2,200.8 1037.1,196.7 1037.9,192.4 1037.8,188.8 1036.6,184.4 1034.6,180.4 1031.6,176.4 1027.5,172.3 1022,167.9 1016.2,164 1008.8,159.9 1002,156.7 984.1,150M816.5,189 844.2,191.9 866.7,193.5 890.3,194.3 910,194.1 929.7,192.8 945.8,190.8 959,188.1 971.3,184.3 977,181.9 981.8,179.4 985.8,176.7 989.7,173.1 991.9,170.1 993.6,166.2 993.9,162.9 993.4,159.4 991.9,156.1 989.7,153 986.4,149.7 982.3,146.5 977.5,143.6 972.1,140.9 957.3,135.1M792.9,152.5 806.1,154.3 826.3,156.3 842.3,157.2 860.2,157.7 875.3,157.4 891.1,156.5 904.3,154.9 917.1,152.5 927.1,149.4 934.6,145.9 937.5,144 939.7,142 941.3,139.9 942.3,137.7 942.5,135.3 942.1,133.7 941.1,131.5 939.1,129.1 934.7,125.9 924.4,120.7" fill="none" stroke="#1a0c00" stroke-opacity="0.36" stroke-width="0.9"/>
<path d="M802.4,163.3 808.7,154.9 815,147.6 821.3,141.2 827.6,135.8 833.9,131.3 840.1,127.4 852.5,121.7 864.7,118.2 876.7,116.5 888.6,116.2 900.3,117.2 917.5,120.4 934.3,125.2 950.7,131.4 966.6,138.7 982.2,146.9 1026.3,173.2M803,151.7 814.6,158.3 826.4,166 850.4,183.5 881.4,208.5 920,242.2 953.2,273.4 980.5,300.6 1066.6,391.2M808.3,166.8 814.6,158.3 820.9,151 827.2,144.7 833.4,139.2 845.9,130.7 858.3,124.9 870.5,121.3 882.5,119.5 894.4,119.1 906.1,120 923.3,123 940,127.7 956.4,133.8 972.3,141.1 987.8,149.2 1002.8,158 1031.8,176M809.3,144.4 820.9,151 832.7,158.6 856.7,176 887.7,200.9 926.2,234.5 959.5,265.6 986.8,292.7 1072.8,383M814.1,170.5 820.4,162 826.7,154.7 833,148.3 839.3,142.8 851.8,134.3 864.1,128.4 876.3,124.7 888.3,122.8 900.2,122.3 911.9,123 929,125.9 945.8,130.5 962.1,136.5 978,143.7 993.4,151.8 1008.5,160.6 1037.4,179M815.6,138.1 827.2,144.7 838.9,152.2 863,169.5 894,194.3 932.5,227.7 965.7,258.7 993,285.7 1078.8,375.6M820,174.4 826.4,166 832.7,158.6 838.9,152.2 845.2,146.7 851.5,142 863.9,134.7 876.1,129.9 888.2,127 900.2,125.8 911.9,125.8 923.5,127 940.5,130.3 957,135.3 973.1,141.7 988.9,149.1 1004.1,157.5 1019,166.5 1042.9,182.1M821.8,132.7 833.4,139.2 845.2,146.7 869.3,163.9 900.2,188.5 938.7,221.7 971.8,252.6 999.1,279.5 1084.8,369.1M826,178.5 832.3,170.1 838.6,162.7 844.9,156.3 851.2,150.7 857.4,146 869.8,138.7 882,133.7 894.1,130.8 906,129.4 917.8,129.4 929.3,130.4 946.3,133.6 962.8,138.5 978.9,144.7 994.6,152.1 1009.8,160.5 1024.7,169.6 1048.5,185.4M828.1,128.2 839.7,134.6 851.5,142 875.5,159 906.4,183.5 944.9,216.5 978,247.2 1005.2,274.1 1090.8,363.4M832,182.9 838.3,174.4 844.6,167 850.9,160.5 857.2,155 863.4,150.2 875.8,142.8 888,137.7 900.1,134.7 912,133.2 923.7,133.1 935.2,134 952.2,137.1 968.7,141.8 984.7,148 1000.4,155.3 1015.6,163.6 1030.4,172.8 1054.2,188.8M834.3,124.4 845.9,130.7 857.7,138 881.7,154.9 912.6,179.2 951,212 984,242.6 1011.2,269.3 1096.7,358.3M838,187.4 844.3,178.9 850.6,171.4 856.9,164.9 869.4,154.5 881.8,147 894,141.9 906.1,138.8 918,137.2 929.7,136.9 941.2,137.8 958.1,140.7 974.5,145.4 990.6,151.4 1006.2,158.6 1021.3,167 1040.9,179.3 1059.8,192.4M840.5,121.3 852.1,127.5 863.9,134.7 887.9,151.5 918.7,175.5 957.1,208.2 990.1,238.6 1017.2,265.2 1102.5,354M844.1,192 850.4,183.5 856.7,176 863,169.5 875.5,159 887.9,151.5 900.1,146.3 912.1,143 924,141.3 935.6,141 947.1,141.7 964,144.5 980.4,149 996.4,155 1012,162.2 1027.1,170.4 1046.7,182.8 1065.5,196.1M846.7,118.8 858.3,124.9 870,132.1 894,148.6 924.8,172.4 963.1,204.9 996.1,235.1 1023.2,261.7 1108.2,350.2M850.2,196.8 856.5,188.2 862.8,180.8 869.1,174.2 881.6,163.7 893.9,156 906.1,150.7 918.2,147.4 930,145.6 941.7,145.2 953.1,145.8 970,148.5 986.4,152.9 1002.3,158.7 1017.9,165.8 1033,174 1052.5,186.4 1071.2,199.9M852.8,116.8 864.4,122.9 876.1,129.9 900.1,146.3 930.9,169.9 969.1,202.1 1002,232.2 1029,258.7 1113.9,346.9M856.4,201.7 862.7,193.1 869,185.6 875.3,179.1 887.7,168.5 900.1,160.7 912.3,155.3 924.3,151.9 936.1,150 947.7,149.5 959.2,150.1 976,152.6 992.4,156.9 1008.3,162.6 1023.8,169.6 1038.8,177.8 1058.3,190.2 1077,203.8M858.9,115.4 870.5,121.3 882.2,128.3 906.1,144.4 936.9,167.8 975,199.8 1007.9,229.8 1034.9,256.1 1119.6,344.2M862.6,206.7 868.9,198.1 875.2,190.6 881.5,184 893.9,173.4 906.3,165.5 918.4,160.1 930.4,156.5 942.2,154.6 953.8,153.9 965.3,154.4 982,156.8 998.4,161 1014.3,166.6 1029.7,173.5 1049.6,184.6 1064.1,194 1082.8,207.7M865,114.4 876.5,120.2 888.2,127 912.1,143 942.8,166.2 980.9,197.9 1013.7,227.8 1040.7,254 1125.2,341.9M868.8,211.8 875.1,203.3 881.4,195.7 887.7,189.1 900.2,178.4 912.5,170.5 924.6,164.9 936.6,161.3 948.4,159.3 960,158.5 977,159.5 993.6,162.4 1009.7,166.9 1025.4,172.9 1040.7,180.1 1055.6,188.6 1070,198 1088.6,211.8M871,113.8 882.5,119.5 894.2,126.2 918.1,142 948.7,164.9 967.6,180.2 986.8,196.5 1019.5,226.2 1046.4,252.3 1130.7,340M875.1,217.1 881.4,208.5 894,194.3 906.4,183.5 918.7,175.5 930.9,169.9 942.8,166.2 954.6,164 966.2,163.2 983.2,164.1 999.7,166.8 1015.8,171.3 1031.5,177.1 1046.7,184.3 1061.5,192.7 1075.9,202.1 1094.4,215.9M877,113.5 888.5,119.2 900.2,125.8 924,141.3 954.6,164 973.4,179.2 992.6,195.3 1025.2,224.9 1052,251 1136.1,338.4M881.4,222.5 887.7,213.9 900.3,199.6 912.7,188.7 925,180.7 937.1,175 949.1,171.2 960.8,169 972.4,168.1 989.3,168.8 1005.8,171.4 1021.9,175.7 1037.5,181.5 1052.7,188.6 1067.5,196.9 1081.8,206.3 1100.3,220.2M882.9,113.6 894.4,119.1 906.1,125.7 917.9,133 935.9,145.2 966.6,168.4 998.3,194.6 1030.9,224 1057.7,250 1141.5,337.2M887.8,227.9 894.1,219.3 906.7,205 919.1,194.1 931.3,185.9 943.4,180.2 955.4,176.3 967.1,174 978.6,173 995.6,173.6 1012,176.1 1028,180.3 1043.6,186 1058.8,193 1073.5,201.2 1087.8,210.6 1106.2,224.5M888.8,114 900.3,119.4 911.9,125.8 923.7,133.1 941.7,145.2 972.4,168.1 1004,194.1 1036.5,223.4 1063.2,249.3 1146.9,336.3M894.2,233.5 900.5,224.9 913.1,210.5 925.5,199.5 937.7,191.3 949.8,185.5 961.7,181.5 973.4,179.2 984.9,178.1 1001.8,178.6 1018.2,181 1034.2,185.1 1049.8,190.6 1064.9,197.5 1079.5,205.7 1093.8,215 1112.1,228.9M894.6,114.7 906.1,120 917.7,126.3 929.5,133.4 947.4,145.4 978.1,168.1 1009.6,193.9 1042.1,223 1068.7,248.8 1152.2,335.6M900.6,239.2 907,230.5 919.5,216.1 931.9,205.1 944.1,196.8 956.2,190.9 968.1,186.9 979.8,184.4 991.2,183.3 1008.1,183.6 1024.5,186 1040.4,189.9 1055.9,195.4 1071,202.2 1085.6,210.2 1099.8,219.5 1118.1,233.4M900.4,115.6 911.9,120.8 923.5,127 935.2,134 953.1,145.8 983.7,168.3 1015.2,193.9 1047.6,222.9 1074.2,248.6 1157.4,335.2M907.1,245 913.4,236.3 926,221.9 938.4,210.7 950.6,202.4 962.6,196.4 974.5,192.3 986.1,189.8 997.6,188.6 1014.4,188.9 1030.8,191.1 1046.7,194.9 1062.1,200.3 1077.1,207 1091.7,214.9 1105.8,224.1 1124.1,238M906.2,116.7 917.6,121.8 929.2,127.9 940.9,134.8 958.8,146.5 989.3,168.8 1020.8,194.2 1053.1,223 1079.6,248.7 1162.6,334.9M913.7,250.9 920,242.2 932.5,227.7 944.9,216.5 957.1,208.2 969.1,202.1 980.9,197.9 992.6,195.3 1004,194.1 1020.8,194.2 1037.1,196.3 1052.9,200.1 1068.3,205.3 1083.3,211.9 1097.8,219.7 1111.9,228.8 1130.1,242.6M911.9,118 923.3,123 934.8,129 946.6,135.9 964.4,147.4 994.9,169.5 1026.3,194.7 1058.5,223.4 1084.9,248.9 1167.7,334.9M920.2,256.9 926.5,248.2 939,233.7 951.4,222.4 963.6,214 975.6,207.9 987.4,203.6 999,201 1010.4,199.7 1027.2,199.7 1043.4,201.7 1059.2,205.4 1074.6,210.5 1089.5,216.9 1104,224.7 1118,233.7 1136.1,247.4M917.5,119.5 928.9,124.4 940.5,130.3 952.2,137.1 970,148.5 1000.4,170.3 1031.7,195.4 1063.9,223.9 1090.2,249.3 1172.8,335M926.8,263.1 933.1,254.3 945.6,239.7 958,228.5 970.2,220 982.1,213.8 993.9,209.5 1005.5,206.8 1016.9,205.4 1033.6,205.3 1049.8,207.2 1065.6,210.8 1080.9,215.8 1095.8,222.1 1110.2,229.7 1124.2,238.6 1142.2,252.3M923.1,121.1 934.5,126 946,131.8 957.7,138.5 975.5,149.8 1005.8,171.4 1037.1,196.3 1069.2,224.7 1095.5,249.9 1177.8,335.2M933.5,269.3 939.8,260.6 952.3,245.9 964.6,234.6 976.8,226 988.7,219.8 1000.5,215.4 1012.1,212.7 1023.4,211.2 1040.1,211.1 1056.2,212.9 1072,216.3 1087.2,221.2 1102,227.4 1116.4,234.9 1130.4,243.7 1148.3,257.2M928.7,123 940,127.7 951.5,133.5 963.2,140.1 981,151.3 1011.3,172.7 1042.4,197.4 1074.4,225.6 1100.7,250.7 1182.7,335.6M940.2,275.7 946.5,266.9 959,252.2 971.3,240.9 983.4,232.2 995.3,225.9 1007.1,221.5 1018.6,218.7 1030,217.2 1046.6,217 1062.7,218.7 1078.4,222 1093.6,226.8 1108.3,232.9 1122.7,240.3 1136.6,248.9 1154.5,262.3M934.2,124.9 945.5,129.6 957,135.3 968.7,141.8 986.4,152.9 1016.6,174.1 1047.7,198.7 1079.6,226.7 1105.8,251.7 1187.6,336.1M946.9,282.2 953.2,273.4 965.7,258.7 978,247.2 990.1,238.6 1002,232.2 1013.7,227.8 1025.2,224.9 1036.5,223.4 1053.1,223 1069.2,224.7 1084.8,227.9 1100,232.6 1114.7,238.5 1129,245.8 1142.8,254.2 1160.6,267.5M939.6,127 951,131.7 962.4,137.3 974.1,143.7 991.7,154.7 1021.9,175.7 1052.9,200.1 1084.8,227.9 1110.9,252.8 1192.5,336.7M953.7,288.8 960,280 972.4,265.2 984.7,253.8 996.8,245 1008.7,238.6 1020.4,234.1 1031.9,231.2 1043.2,229.6 1059.7,229.2 1075.7,230.8 1091.3,233.9 1106.4,238.4 1121.1,244.3 1135.3,251.4 1149.1,259.7 1166.8,272.8M945.1,129.3 956.4,133.8 967.8,139.4 979.4,145.8 997.1,156.6 1027.2,177.5 1058.1,201.7 1083.5,223.5 1109.4,247.6 1135.8,274 1197.3,337.4M960.5,295.6 966.8,286.7 979.2,271.9 991.5,260.4 1003.6,251.6 1015.4,245.2 1027.1,240.6 1038.6,237.7 1049.8,236 1066.3,235.6 1082.3,237 1097.8,240.1 1112.9,244.5 1127.5,250.2 1141.6,257.1 1155.4,265.3 1173,278.1M950.4,131.6 961.7,136.1 973.1,141.7 984.7,148 1002.3,158.7 1032.4,179.4 1063.3,203.4 1088.6,225.1 1114.4,249.1 1140.7,275.3 1202,338.2M967.4,302.5 973.7,293.6 986.1,278.7 998.3,267.2 1010.4,258.4 1022.2,251.9 1033.9,247.3 1045.3,244.3 1056.5,242.6 1072.9,242 1088.9,243.4 1104.3,246.3 1119.3,250.6 1133.9,256.2 1152.6,265.5 1166.2,273.9 1179.3,283.6M955.8,134.1 967,138.6 978.4,144 990,150.3 1007.6,160.9 1037.5,181.5 1068.3,205.3 1093.6,226.8 1119.3,250.6 1145.6,276.7 1206.8,339.1M974.3,309.5 980.5,300.6 993,285.7 1005.2,274.1 1017.2,265.2 1029,258.7 1040.7,254 1052,251 1063.2,249.3 1079.6,248.7 1095.5,249.9 1110.9,252.8 1125.9,256.9 1145.1,264.4 1159,271.4 1172.5,279.7 1185.6,289.2M961,136.6 972.3,141.1 983.7,146.5 995.2,152.7 1012.7,163.3 1042.6,183.7 1073.4,207.3 1098.6,228.7 1124.2,252.3 1150.5,278.2 1211.4,340M981.2,316.6 987.5,307.7 999.9,292.7 1012.1,281.1 1024.1,272.2 1035.9,265.6 1047.5,260.9 1058.8,257.9 1070,256.1 1086.3,255.4 1102.1,256.6 1117.5,259.4 1132.4,263.4 1151.6,270.6 1165.5,277.5 1178.9,285.5 1191.9,294.8M966.3,139.3 977.5,143.7 988.9,149.1 1000.4,155.3 1017.9,165.8 1047.7,186.1 1078.4,209.5 1103.5,230.7 1129.1,254.2 1148.7,273.2 1195.4,320.8 1216,341.1M988.2,323.8 994.5,314.9 1006.8,299.9 1019,288.2 1031,279.3 1042.8,272.7 1054.3,268 1065.7,264.8 1076.8,263 1093.1,262.3 1108.8,263.4 1124.2,266.1 1139,270 1158.1,277 1171.9,283.6 1185.3,291.4 1198.3,300.5M971.4,142 982.6,146.4 994,151.8 1005.5,158 1022.9,168.4 1052.7,188.6 1083.3,211.9 1108.3,232.9 1133.9,256.2 1153.4,275 1200,322.1 1220.6,342.2M995.2,331.2 1001.5,322.3 1013.9,307.2 1026,295.5 1038,286.5 1049.7,279.8 1061.2,275.1 1072.6,271.9 1083.6,270.1 1099.8,269.3 1115.6,270.3 1130.8,272.9 1145.6,276.7 1164.6,283.5 1178.4,289.9 1191.7,297.5 1204.6,306.3M976.6,144.8 987.8,149.2 999.1,154.6 1010.5,160.8 1028,171.2 1057.7,191.2 1088.2,214.4 1113.2,235.2 1138.7,258.3 1158.1,277 1204.6,323.6 1225.1,343.3M1002.3,338.7 1008.6,329.7 1020.9,314.6 1033,302.8 1045,293.8 1056.7,287.1 1068.2,282.3 1079.5,279.1 1090.5,277.2 1106.7,276.4 1122.3,277.4 1137.5,279.8 1152.3,283.4 1171.2,290 1184.9,296.2 1198.2,303.5 1211,312.1M981.7,147.6 992.8,152.1 1004.1,157.5 1015.6,163.6 1033,174 1062.6,194 1093,217 1118,237.7 1143.4,260.6 1169.3,285.5 1209.1,325.1 1229.6,344.6M1009.4,346.2 1015.7,337.2 1028,322.1 1040.1,310.2 1052,301.2 1063.7,294.5 1075.2,289.6 1086.4,286.4 1097.4,284.5 1113.5,283.6 1129.1,284.5 1144.3,286.8 1159,290.3 1177.8,296.6 1191.5,302.6 1204.7,309.7 1217.5,318M986.7,150.5 997.9,155 1009.1,160.4 1020.6,166.6 1037.9,177 1067.5,196.9 1097.8,219.7 1122.7,240.3 1148,263 1173.9,287.6 1213.6,326.7 1234,345.9M1016.6,353.9 1022.8,344.8 1035.1,329.7 1047.2,317.8 1059.1,308.7 1070.8,301.9 1082.2,297 1093.4,293.8 1104.4,291.8 1120.4,290.9 1136,291.7 1151.1,293.9 1165.7,297.3 1184.5,303.3 1198.1,309.1 1211.2,315.9 1224,323.9M991.7,153.4 1002.8,158 1014.1,163.5 1025.5,169.6 1042.8,180.1 1072.3,199.9 1102.6,222.6 1127.4,243 1152.6,265.5 1171.9,283.6 1218,328.5 1238.3,347.3M1023.8,361.6 1030,352.5 1042.3,337.3 1054.4,325.3 1066.2,316.2 1077.9,309.4 1089.2,304.5 1100.4,301.2 1111.4,299.2 1127.3,298.2 1142.8,299 1157.9,301.1 1172.4,304.3 1191.2,310.1 1204.7,315.5 1217.8,322 1230.5,329.7M996.7,156.4 1007.8,161 1019,166.5 1030.4,172.8 1047.7,183.2 1077.1,203 1107.3,225.7 1132,245.9 1157.2,268.2 1222.4,330.3 1242.7,348.8M1031,369.3 1037.2,360.3 1049.5,345 1055.6,338.6 1067.5,328 1079.2,320.1 1090.7,314.2 1101.9,310.2 1113,307.5 1123.7,306.1 1139.5,305.6 1154.8,306.8 1174.4,310.2 1193.3,315.3 1206.9,320.2 1224.4,328.2 1237,335.6M1001.6,159.3 1012.7,164 1023.9,169.6 1035.2,175.9 1052.5,186.4 1081.8,206.3 1111.9,228.8 1136.6,248.9 1161.7,271 1226.7,332.3 1247,350.4M1038.3,377.1 1044.5,368 1056.8,352.6 1062.8,346.2 1074.7,335.7 1086.4,327.6 1097.9,321.8 1109.1,317.7 1120,315 1130.8,313.5 1146.5,313 1161.7,314.1 1181.3,317.3 1200,322.1 1213.6,326.7 1231,334.3 1243.6,341.3M1006.5,162.2 1017.5,167.1 1028.7,172.8 1051.5,186.1 1080.6,205.4 1110.5,227.4 1134.9,246.9 1159.9,268.3 1185.3,291.4 1231,334.3 1251.2,352.1M1045.7,384.9 1051.9,375.8 1064.1,360.3 1070.1,353.9 1082,343.3 1093.6,335.2 1105.1,329.3 1116.2,325.2 1127.2,322.5 1137.9,320.9 1153.5,320.4 1168.7,321.3 1188.2,324.3 1206.8,328.9 1220.4,333.2 1237.7,340.4 1250.2,347M1011.3,165.1 1022.3,170.1 1033.5,175.9 1056.2,189.4 1085.2,208.9 1115,230.8 1139.4,250.2 1164.3,271.4 1235.3,336.5 1255.4,353.9M1053,392.7 1059.2,383.5 1071.4,368 1077.4,361.5 1089.3,350.8 1100.9,342.7 1112.3,336.8 1123.4,332.6 1134.3,329.9 1145,328.3 1160.6,327.7 1175.7,328.5 1195.1,331.3 1213.7,335.6 1227.1,339.6 1244.4,346.3 1256.9,352.5M1016.1,167.9 1027.1,173.1 1038.2,179 1060.9,192.7 1089.8,212.4 1119.6,234.3 1143.9,253.7 1168.7,274.7 1232.9,333 1259.5,355.8" fill="none" stroke="#302000" stroke-opacity="0.07" stroke-width="0.7"/>
</g></g>
<g id="axes-b"><path d="M805.2,390.4 792.4,45.2M805.2,390.4 1059.7,489.2M1059.7,489.2 1262.8,375.7M803.9,357.7 h-5M802.1,307.9 h-5M800.2,257.2 h-5M798.3,205.6 h-5M796.4,153.1 h-5M794.4,99.7 h-5M792.4,45.2 h-5M827.4,399 830.7,397.7M850.3,407.9 852.3,407.1M873.9,417.1 877.1,415.7M898.1,426.5 900.1,425.6M923.1,436.2 926.3,434.7M948.8,446.2 950.7,445.2M975.3,456.4 978.5,454.8M1002.5,467 1004.5,466M1030.7,477.9 1033.8,476.2M1059.7,489.2 1061.6,488.2M1069.7,483.6 1067.6,482.8M1096.7,468.6 1093.2,467.3M1122.5,454.1 1120.4,453.4M1147.2,440.3 1143.8,439.1M1171,427 1169,426.3M1193.8,414.3 1190.4,413.2M1215.7,402 1213.7,401.4M1236.8,390.2 1233.5,389.2M1257.2,378.9 1255.2,378.3" fill="none" stroke="#1a1a1a" stroke-width="1.4" stroke-linecap="square"/></g>
<g id="labels-b"><text transform="matrix(0.94 -0.3607 0.0508 1.1945 749.19 387.14)" font-family="Liberation Sans, Arial, sans-serif" font-size="20" text-anchor="start" fill="#000">0.057</text>
<text transform="matrix(0.9498 -0.333 0.0517 1.2161 746.8 335.88)" font-family="Liberation Sans, Arial, sans-serif" font-size="20" text-anchor="start" fill="#000">0.060</text>
<text transform="matrix(0.9597 -0.3042 0.0526 1.2382 744.36 283.67)" font-family="Liberation Sans, Arial, sans-serif" font-size="20" text-anchor="start" fill="#000">0.063</text>
<text transform="matrix(0.9699 -0.2743 0.0536 1.2609 741.88 230.5)" font-family="Liberation Sans, Arial, sans-serif" font-size="20" text-anchor="start" fill="#000">0.066</text>
<text transform="matrix(0.9803 -0.2432 0.0546 1.2843 739.35 176.33)" font-family="Liberation Sans, Arial, sans-serif" font-size="20" text-anchor="start" fill="#000">0.069</text>
<text transform="matrix(0.9909 -0.211 0.0556 1.3083 736.77 121.13)" font-family="Liberation Sans, Arial, sans-serif" font-size="20" text-anchor="start" fill="#000">0.072</text>
<text transform="matrix(1.0017 -0.1775 0.0567 1.333 734.15 64.88)" font-family="Liberation Sans, Arial, sans-serif" font-size="20" text-anchor="start" fill="#000">0.075</text>
<text transform="matrix(0.0741 1.4722 -1.1597 0.293 712.41 59.09)" font-family="Liberation Sans, Arial, sans-serif" font-size="20" text-anchor="start" fill="#000">Percentage</text>
<text transform="matrix(0.0729 1.4479 -1.1484 0.3253 720.41 217.85)" font-family="Liberation Sans, Arial, sans-serif" font-size="20" text-anchor="start" fill="#000">of</text>
<text transform="matrix(0.072 1.4299 -1.1399 0.349 722.03 250.05)" font-family="Liberation Sans, Arial, sans-serif" font-size="20" text-anchor="start" fill="#000">capacity</text>
<text transform="matrix(0.071 1.4093 -1.1301 0.3754 727.71 362.89)" font-family="Liberation Sans, Arial, sans-serif" font-size="20" text-anchor="start" fill="#000">loss</text>
<text transform="matrix(0.0846 1.5234 -1.2156 0.2696 681.83 65.12)" font-family="Liberation Sans, Arial, sans-serif" font-size="20" text-anchor="start" fill="#000">per</text>
<text transform="matrix(0.0833 1.4993 -1.2041 0.302 684.74 117.61)" font-family="Liberation Sans, Arial, sans-serif" font-size="20" text-anchor="start" fill="#000">kilometer</text>
<text transform="matrix(0.0816 1.4699 -1.1899 0.3407 691.96 247.57)" font-family="Liberation Sans, Arial, sans-serif" font-size="20" text-anchor="start" fill="#000">(%/km)</text>
<text transform="matrix(0.8378 -0.3475 0.8138 0.3206 816.83 408.06)" font-family="Liberation Sans, Arial, sans-serif" font-size="20" text-anchor="start" fill="#000">6</text>
<text transform="matrix(0.8351 -0.3681 0.8614 0.3394 863.69 426.63)" font-family="Liberation Sans, Arial, sans-serif" font-size="20" text-anchor="start" fill="#000">8</text>
<text transform="matrix(0.836 -0.3932 0.9139 0.3622 904.02 450.68)" font-family="Liberation Sans, Arial, sans-serif" font-size="20" text-anchor="start" fill="#000">10</text>
<text transform="matrix(0.8294 -0.418 0.9708 0.3848 956.79 471.84)" font-family="Liberation Sans, Arial, sans-serif" font-size="20" text-anchor="start" fill="#000">12</text>
<text transform="matrix(0.8204 -0.4453 1.0333 0.4095 1012.92 494.35)" font-family="Liberation Sans, Arial, sans-serif" font-size="20" text-anchor="start" fill="#000">14</text>
<text transform="matrix(1.0781 0.4017 -0.816 0.4747 1099.42 475)" font-family="Liberation Sans, Arial, sans-serif" font-size="20" text-anchor="start" fill="#000">0.45</text>
<text transform="matrix(1.0599 0.369 -0.7488 0.4356 1150.35 446.22)" font-family="Liberation Sans, Arial, sans-serif" font-size="20" text-anchor="start" fill="#000">0.42</text>
<text transform="matrix(1.041 0.3402 -0.6896 0.4011 1197.21 419.74)" font-family="Liberation Sans, Arial, sans-serif" font-size="20" text-anchor="start" fill="#000">0.39</text>
<text transform="matrix(1.0219 0.3147 -0.6371 0.3706 1240.47 395.29)" font-family="Liberation Sans, Arial, sans-serif" font-size="20" text-anchor="start" fill="#000">0.36</text>
<text transform="matrix(1.0333 0.4303 -1.0414 0.4801 828.91 445.65)" font-family="Liberation Sans, Arial, sans-serif" font-size="20" text-anchor="start" fill="#000">Time</text>
<text transform="matrix(1.059 0.441 -1.0395 0.4922 879.8 466.85)" font-family="Liberation Sans, Arial, sans-serif" font-size="20" text-anchor="start" fill="#000">(s)</text>
<text transform="matrix(0.837 -0.5203 1.2027 0.4164 1176.5 496.03)" font-family="Liberation Sans, Arial, sans-serif" font-size="20" text-anchor="start" fill="#000">Acceleration</text>
<text transform="matrix(0.7411 -0.4607 1.168 0.3693 1273.06 436)" font-family="Liberation Sans, Arial, sans-serif" font-size="20" text-anchor="start" fill="#000">(m/s<tspan font-size="12.4" dy="-8">2</tspan><tspan dy="8">)</tspan></text></g>
</g>
<g id="panel-c">
<g id="grid-c"><path d="M1479.9,352.6 1698.6,272.8M1698.6,272.8 1945.6,339.6M1478,303.8 1698.7,230.3M1698.7,230.3 1947.8,292M1476.1,254.2 1698.7,187.2M1698.7,187.2 1950,243.6M1474.1,203.6 1698.8,143.4M1698.8,143.4 1952.3,194.3M1472.2,152.1 1698.8,99M1698.8,99 1954.6,144.2M1470.2,99.7 1698.9,53.8M1698.9,53.8 1956.9,93.2M1720.6,307 1722.1,10.9M1503.7,393.1 1720.6,307M1766,320 1770.1,17.1M1550.8,410.8 1766,320M1813.8,333.6 1820.6,23.5M1600.6,429.4 1813.8,333.6M1864,347.9 1873.9,30.3M1653.5,449.2 1864,347.9M1916.7,363 1930,37.5M1709.6,470.2 1916.7,363M1541.9,361.2 1533,35.5M1541.9,361.2 1797.2,449.9M1598.1,339.5 1592.7,25.6M1598.1,339.5 1850.4,421.3M1650.2,319.4 1647.9,16.4M1650.2,319.4 1899.3,395" fill="none" stroke="#dfe2df" stroke-width="1" stroke-dasharray="1.6 1.6"/>
<path d="M1468.1,46.3 1699,8M1699,8 1959.3,41.2" fill="none" stroke="#8a8a8a" stroke-width="1" stroke-dasharray="2.5 1.5"/>
<path d="M1698.6,300.7 1699,8M1698.6,300.7 1944.2,370.8" fill="none" stroke="#a0a0a0" stroke-width="1.1" stroke-dasharray="2 1.5"/>
<path d="M1944.2,370.8 1959.3,41.2" fill="none" stroke="#909090" stroke-width="1"/>
<path d="M1481.1,384.7 1698.6,300.7" fill="none" stroke="#707070" stroke-width="1"/></g>
<g id="surf-c"><mask id="clip-c" maskUnits="userSpaceOnUse" x="0" y="0" width="1998" height="573"><path d="M1474.57,214.63 1482.16,204.99 1489.72,196.59 1497.27,189.32 1501.03,186.08 1506.03,182.13 1509.77,179.43 1514.74,176.17 1518.46,173.97 1523.4,171.33 1527.09,169.56 1531.99,167.46 1536.87,165.66 1541.72,164.12 1546.55,162.83 1551.35,161.78 1556.13,160.94 1562.06,160.18 1566.77,159.79 1572.63,159.55 1583.06,159.75 1588.79,160.18 1594.47,160.81 1605.71,162.64 1617.86,165.39 1630.86,169.13 1641.49,172.72 1654.01,177.45 1665.27,182.05 1689.09,192.15 1698.73,196.01 1717.78,205.3 1734.89,214.19 1751.11,223.25 1767.56,233.14 1783.06,243.06 1798.76,253.63 1815.91,265.69 1835.81,280.16 1865,301.96 1900.17,328.71 1925.53,348.39 1944.52,363.63 1938.58,363.06 1931.72,361.93 1906.94,356.54 1895.89,354.48 1884.57,352.97 1872.96,352.17 1866.05,352.07 1859.04,352.26 1851.92,352.75 1845.74,353.43 1839.48,354.38 1833.14,355.59 1826.72,357.11 1820.22,358.96 1813.64,361.18 1808.1,363.36 1801.36,366.41 1795.69,369.36 1789.95,372.74 1785.32,375.78 1779.48,380.07 1774.76,383.93 1770.01,388.22 1765.21,392.97 1760.38,398.23 1756.73,402.55 1751.83,408.84 1748.14,413.99 1743.18,421.48 1739.43,427.6 1687.84,379.66 1657.95,352.57 1642.61,339.08 1626.11,324.94 1611.21,312.49 1595.19,299.44 1576.82,284.89 1558.77,271.01 1541.05,257.81 1524.88,246.2 1510.2,236.12 1496.96,227.54 1485.1,220.4 1474.57,214.63Z" fill="#fff"/></mask>
<g mask="url(#clip-c)">
<path d="M1474.6,214.6 1482.2,205 1489.7,196.6 1497.3,189.3 1501,186.1 1506,182.1 1509.8,179.4 1514.7,176.2 1518.5,174 1523.4,171.3 1527.1,169.6 1532,167.5 1536.9,165.7 1541.7,164.1 1546.5,162.8 1551.3,161.8 1556.1,160.9 1562.1,160.2 1566.8,159.8 1572.6,159.6 1583.1,159.8 1588.8,160.2 1594.5,160.8 1605.7,162.6 1617.9,165.4 1630.9,169.1 1641.5,172.7 1654,177.4 1665.3,182 1689.1,192.2 1698.7,196 1717.8,205.3 1734.9,214.2 1751.1,223.3 1767.6,233.1 1783.1,243.1 1798.8,253.6 1815.9,265.7 1835.8,280.2 1865,302 1900.2,328.7 1925.5,348.4 1944.5,363.6 1938.6,363.1 1931.7,361.9 1906.9,356.5 1895.9,354.5 1884.6,353 1873,352.2 1866.1,352.1 1859,352.3 1851.9,352.8 1845.7,353.4 1839.5,354.4 1833.1,355.6 1826.7,357.1 1820.2,359 1813.6,361.2 1808.1,363.4 1801.4,366.4 1795.7,369.4 1790,372.7 1785.3,375.8 1779.5,380.1 1774.8,383.9 1770,388.2 1765.2,393 1760.4,398.2 1756.7,402.5 1751.8,408.8 1748.1,414 1743.2,421.5 1739.4,427.6 1687.8,379.7 1657.9,352.6 1642.6,339.1 1626.1,324.9 1611.2,312.5 1595.2,299.4 1576.8,284.9 1558.8,271 1541,257.8 1524.9,246.2 1510.2,236.1 1497,227.5 1485.1,220.4 1474.6,214.6Z" fill="#7d00a5" stroke="#7d00a5" stroke-width="3"/>
<path d="M1460.1,222.1 1470.6,227.5 1483,234.7 1510.2,252.6 1545.9,278.7 1584.9,309.4 1617.3,336.3 1650.7,365.5 1678.5,391.1 1741,449.5 1748.5,435.7 1757.9,421.1 1767.1,409 1776.2,399 1785.1,390.8 1795.7,382.8 1807.7,375.6 1819.5,370.2 1832.7,365.6 1847.1,362.2 1861.1,360.3 1876.2,359.5 1889.4,360 1902.2,361.4 1914.6,363.5 1942.2,369.2 1939.7,359.7 1939.2,355.4 1899.1,324.5 1843.1,282.6 1809.6,258.7 1782.4,240.5 1762.8,228.5 1743.6,217.7 1723,207.1 1697.8,195 1684.8,189.9 1645.5,173.5 1621.5,165 1608.4,161.4 1596.7,158.9 1584.8,157.1 1572.7,156.2 1560.4,156.4 1549.7,157.5 1538.8,159.7 1529.7,162.4 1520.5,166.1 1511.2,170.8 1501.8,176.8 1492.4,184.2 1483,193.1 1475.4,201.5 1467.7,211.1 1460.1,222.1Z" fill="#6e00b6"/>
<path d="M1460.1,222.1 1470.6,227.5 1483,234.7 1510.2,252.6 1545.9,278.7 1584.9,309.4 1617.3,336.3 1650.7,365.5 1678.5,391.1 1741,449.5 1748.5,435.7 1757.9,421.1 1767.1,409 1776.2,399 1785.1,390.8 1795.7,382.8 1806,376.5 1817.9,370.8 1831.1,366.1 1843.9,362.9 1858,360.6 1873.2,359.6 1886.5,359.8 1900.8,361.2 1914.6,363.5 1938.6,368.6 1934.7,355.7 1934.2,351.4 1893.2,320 1841.2,281.3 1809.6,258.7 1784.2,241.7 1764.6,229.6 1743.6,217.7 1723,207.1 1697.8,195 1684.8,189.9 1645.5,173.5 1621.5,165 1608.4,161.4 1596.7,158.9 1584.8,157.1 1572.7,156.2 1560.4,156.4 1549.7,157.5 1538.8,159.7 1529.7,162.4 1520.5,166.1 1511.2,170.8 1501.8,176.8 1492.4,184.2 1483,193.1 1475.4,201.5 1467.7,211.1 1460.1,222.1Z" fill="#6500c1"/>
<path d="M1460.1,222.1 1470.6,227.5 1483,234.7 1510.2,252.6 1545.9,278.7 1584.9,309.4 1617.3,336.3 1650.7,365.5 1678.5,391.1 1741,449.5 1748.5,435.7 1757.9,421.1 1767.1,409 1776.2,399 1785.1,390.8 1795.7,382.8 1806,376.5 1817.9,370.8 1831.1,366.1 1843.9,362.9 1858,360.6 1873.2,359.6 1886.5,359.8 1900.8,361.2 1914.6,363.5 1935.1,367.9 1929.7,351.8 1929.1,347.4 1887.3,315.6 1841.2,281.3 1811.5,260 1786,242.9 1764.6,229.6 1745.3,218.6 1724.7,207.9 1697.8,195 1684.8,189.9 1645.5,173.5 1621.5,165 1608.4,161.4 1596.7,158.9 1584.8,157.1 1572.7,156.2 1560.4,156.4 1549.7,157.5 1538.8,159.7 1529.7,162.4 1520.5,166.1 1511.2,170.8 1501.8,176.8 1492.4,184.2 1483,193.1 1475.4,201.5 1467.7,211.1 1460.1,222.1Z" fill="#5b00cc"/>
<path d="M1460.1,222.1 1470.6,227.5 1483,234.7 1510.2,252.6 1545.9,278.7 1584.9,309.4 1617.3,336.3 1650.7,365.5 1678.5,391.1 1741,449.5 1748.5,435.7 1757.9,421.1 1765.3,411.2 1774.4,400.8 1783.3,392.3 1793.9,384 1804.3,377.4 1816.2,371.6 1829.4,366.6 1842.3,363.2 1856.5,360.8 1870.2,359.7 1883.6,359.6 1898,360.8 1911.9,363 1931.7,367.2 1924.7,347.8 1924,343.5 1881.5,311.2 1839.4,279.9 1811.5,260 1787.8,244 1768.1,231.7 1748.8,220.5 1729.8,210.5 1707.8,199.7 1697.8,195 1684.8,189.9 1648.6,174.7 1634.4,169.3 1621.5,165 1608.4,161.4 1596.7,158.9 1584.8,157.1 1572.7,156.2 1560.4,156.4 1549.7,157.5 1538.8,159.7 1529.7,162.4 1520.5,166.1 1511.2,170.8 1501.8,176.8 1492.4,184.2 1483,193.1 1475.4,201.5 1467.7,211.1 1460.1,222.1Z" fill="#4800d6"/>
<path d="M1460.1,222.1 1470.6,227.5 1483,234.7 1510.2,252.6 1545.9,278.7 1584.9,309.4 1617.3,336.3 1650.7,365.5 1678.5,391.1 1741,449.5 1748.5,435.7 1757.9,421.1 1765.3,411.2 1774.4,400.8 1783.3,392.3 1793.9,384 1804.3,377.4 1814.5,372.3 1827.8,367.2 1840.7,363.6 1854.9,361 1868.7,359.7 1882.1,359.6 1896.5,360.6 1910.5,362.7 1928.2,366.4 1923.1,352.1 1919.6,343.8 1918.8,339.5 1841.2,281.3 1815.1,262.5 1791.4,246.4 1771.7,233.9 1752.3,222.5 1733.3,212.2 1711.2,201.3 1697.8,195 1684.8,189.9 1650.1,175.3 1634.4,169.3 1621.5,165 1608.4,161.4 1596.7,158.9 1584.8,157.1 1572.7,156.2 1560.4,156.4 1549.7,157.5 1538.8,159.7 1529.7,162.4 1520.5,166.1 1511.2,170.8 1501.8,176.8 1492.4,184.2 1483,193.1 1475.4,201.5 1467.7,211.1 1460.1,222.1Z" fill="#3500df"/>
<path d="M1460.1,222.1 1470.6,227.5 1483,234.7 1510.2,252.6 1545.9,278.7 1584.9,309.4 1617.3,336.3 1650.7,365.5 1678.5,391.1 1741,449.5 1748.5,435.7 1757.9,421.1 1765.3,411.2 1774.4,400.8 1783.3,392.3 1793.9,384 1804.3,377.4 1814.5,372.3 1826.1,367.7 1839.1,363.9 1853.4,361.2 1867.2,359.8 1880.6,359.6 1893.7,360.3 1907.8,362.3 1924.7,365.7 1919.1,349.9 1914.5,339.8 1913.6,335.5 1839.4,279.9 1815.1,262.5 1793.2,247.6 1773.5,234.9 1754.1,223.5 1735,213.1 1712.9,202.1 1697.8,195 1684.8,189.9 1651.7,176 1636,169.9 1621.5,165 1608.4,161.4 1596.7,158.9 1584.8,157.1 1572.7,156.2 1560.4,156.4 1549.7,157.5 1538.8,159.7 1529.7,162.4 1520.5,166.1 1511.2,170.8 1501.8,176.8 1492.4,184.2 1483,193.1 1475.4,201.5 1467.7,211.1 1460.1,222.1Z" fill="#2200e9"/>
<path d="M1460.1,222.1 1470.6,227.5 1483,234.7 1510.2,252.6 1545.9,278.7 1584.9,309.4 1617.3,336.3 1650.7,365.5 1678.5,391.1 1741,449.5 1748.5,435.7 1756,423.8 1763.4,413.6 1772.6,402.8 1781.6,393.9 1792.2,385.2 1802.6,378.4 1812.8,373.1 1824.5,368.3 1837.5,364.3 1850.2,361.7 1864.2,360 1877.7,359.5 1890.8,360.1 1905,361.8 1921.2,364.9 1915.7,349 1909.4,335.8 1908.4,331.5 1839.4,279.9 1815.1,262.5 1795,248.8 1775.3,236 1755.8,224.5 1736.7,214 1714.5,202.9 1697.8,195 1684.8,189.9 1651.7,176 1636,169.9 1621.5,165 1608.4,161.4 1596.7,158.9 1584.8,157.1 1572.7,156.2 1560.4,156.4 1549.7,157.5 1538.8,159.7 1529.7,162.4 1520.5,166.1 1511.2,170.8 1501.8,176.8 1492.4,184.2 1483,193.1 1475.4,201.5 1467.7,211.1 1460.1,222.1Z" fill="#1205f1"/>
<path d="M1460.1,222.1 1470.6,227.5 1483,234.7 1510.2,252.6 1545.9,278.7 1584.9,309.4 1617.3,336.3 1650.7,365.5 1678.5,391.1 1741,449.5 1748.5,435.7 1756,423.8 1763.4,413.6 1772.6,402.8 1781.6,393.9 1790.4,386.5 1800.9,379.4 1811.1,373.9 1822.8,368.9 1835.9,364.8 1848.7,362 1862.6,360.1 1876.2,359.5 1889.4,360 1902.2,361.4 1917.7,364.1 1912.4,348.2 1908.8,340.3 1904.3,331.9 1903.2,327.6 1841.2,281.3 1800.5,252.4 1778.8,238.3 1759.3,226.5 1740.1,215.8 1719.6,205.4 1697.8,195 1684.8,189.9 1647,174.1 1623.2,165.5 1610.1,161.8 1596.7,158.9 1584.8,157.1 1572.7,156.2 1560.4,156.4 1549.7,157.5 1538.8,159.7 1529.7,162.4 1520.5,166.1 1511.2,170.8 1501.8,176.8 1492.4,184.2 1483,193.1 1475.4,201.5 1467.7,211.1 1460.1,222.1Z" fill="#0d16f5"/>
<path d="M1460.1,222.1 1470.6,227.5 1483,234.7 1510.2,252.6 1545.9,278.7 1584.9,309.4 1617.3,336.3 1650.7,365.5 1678.5,391.1 1741,449.5 1748.5,435.7 1756,423.8 1763.4,413.6 1772.6,402.8 1781.6,393.9 1790.4,386.5 1799.1,380.5 1809.4,374.7 1821.2,369.5 1832.7,365.6 1845.5,362.6 1859.6,360.4 1873.2,359.6 1886.5,359.8 1899.4,361 1914,363.4 1908.5,345.9 1904.7,337.6 1899.1,327.9 1898,323.6 1841.2,281.3 1802.3,253.7 1780.6,239.4 1761.1,227.5 1741.9,216.8 1721.3,206.2 1697.8,195 1684.8,189.9 1647,174.1 1623.2,165.5 1610.1,161.8 1596.7,158.9 1584.8,157.1 1572.7,156.2 1560.4,156.4 1549.7,157.5 1538.8,159.7 1529.7,162.4 1520.5,166.1 1511.2,170.8 1501.8,176.8 1492.4,184.2 1483,193.1 1475.4,201.5 1467.7,211.1 1460.1,222.1Z" fill="#0726fa"/>
<path d="M1460.1,222.1 1470.6,227.5 1483,234.7 1510.2,252.6 1545.9,278.7 1584.9,309.4 1617.3,336.3 1650.7,365.5 1678.5,391.1 1741,449.5 1748.5,435.7 1756,423.8 1763.4,413.6 1772.6,402.8 1781.6,393.9 1790.4,386.5 1799.1,380.5 1809.4,374.7 1821.2,369.5 1832.7,365.6 1845.5,362.6 1858,360.6 1870.2,359.7 1883.6,359.6 1896.5,360.6 1910.3,362.7 1908.4,356.8 1906.7,349.3 1904.6,343.3 1900.4,334.6 1893.9,324 1892.8,319.7 1841.2,281.3 1806,256.2 1784.2,241.7 1764.6,229.6 1743.6,217.7 1723,207.1 1697.8,195 1684.8,189.9 1647,174.1 1623.2,165.5 1610.1,161.8 1596.7,158.9 1584.8,157.1 1572.7,156.2 1560.4,156.4 1549.7,157.5 1538.8,159.7 1529.7,162.4 1520.5,166.1 1511.2,170.8 1501.8,176.8 1492.4,184.2 1483,193.1 1475.4,201.5 1467.7,211.1 1460.1,222.1Z" fill="#0237fe"/>
<path d="M1460.1,222.1 1470.6,227.5 1483,234.7 1510.2,252.6 1544,277.3 1583,307.8 1615.2,334.5 1648.6,363.6 1678.5,391.1 1736,445 1742.9,445.7 1750.4,432.6 1759.7,418.5 1768.9,406.8 1779.8,395.5 1786.9,389.3 1793.9,384 1802.6,378.4 1811.1,373.9 1821.2,369.5 1832.7,365.6 1843.9,362.9 1856.5,360.8 1868.7,359.7 1880.6,359.6 1893.7,360.3 1906.4,362 1904.7,356 1903.2,348.4 1900.6,340.6 1895.9,331.1 1888.8,320 1887.6,315.8 1841.2,281.3 1809.6,258.7 1787.8,244 1766.4,230.6 1747.1,219.6 1726.4,208.8 1697.8,195 1684.8,189.9 1647,174.1 1623.2,165.5 1610.1,161.8 1596.7,158.9 1584.8,157.1 1572.7,156.2 1560.4,156.4 1549.7,157.5 1538.8,159.7 1529.7,162.4 1520.5,166.1 1511.2,170.8 1501.8,176.8 1492.4,184.2 1483,193.1 1475.4,201.5 1467.7,211.1 1460.1,222.1Z" fill="#004cff"/>
<path d="M1460.1,222.1 1470.6,227.5 1481.2,233.6 1493.8,241.5 1508.4,251.3 1542.1,275.8 1581,306.2 1613.2,332.8 1646.4,361.7 1676.4,389 1730.7,440 1745.2,441.5 1752.3,429.6 1759.7,418.5 1767.1,409 1776.2,399 1785.1,390.8 1793.9,384 1804.3,377.4 1814.5,372.3 1824.5,368.3 1834.3,365.2 1845.5,362.6 1856.5,360.8 1867.2,359.8 1879.2,359.5 1890.8,360.1 1902.5,361.4 1900.9,355.3 1899.7,347.4 1897,339.1 1891.7,328.3 1883.6,316.1 1882.4,311.9 1843.1,282.6 1815.1,262.5 1791.4,246.4 1769.9,232.8 1748.8,220.5 1728.1,209.6 1697.8,195 1684.8,189.9 1647,174.1 1623.2,165.5 1610.1,161.8 1596.7,158.9 1584.8,157.1 1572.7,156.2 1560.4,156.4 1549.7,157.5 1538.8,159.7 1529.7,162.4 1520.5,166.1 1511.2,170.8 1501.8,176.8 1492.4,184.2 1483,193.1 1475.4,201.5 1467.7,211.1 1460.1,222.1Z" fill="#0062ff"/>
<path d="M1460.1,222.1 1470.6,227.5 1481.2,233.6 1493.8,241.5 1508.4,251.3 1542.1,275.8 1579,304.6 1611.2,331 1644.3,359.8 1676.4,389 1725.4,435.1 1747.6,437.3 1754.2,426.6 1761.6,416 1768.9,406.8 1778,397.2 1786.9,389.3 1795.7,382.8 1806,376.5 1816.2,371.6 1824.5,368.3 1834.3,365.2 1843.9,362.9 1854.9,361 1865.7,359.9 1876.2,359.5 1886.5,359.8 1898.3,360.9 1897,354.6 1896,345.9 1893.1,336.5 1887.6,325.4 1878.5,312.2 1877.2,308 1820.7,266.4 1795,248.8 1773.5,234.9 1752.3,222.5 1731.5,211.4 1697.8,195 1684.8,189.9 1647,174.1 1623.2,165.5 1610.1,161.8 1596.7,158.9 1584.8,157.1 1572.7,156.2 1560.4,156.4 1549.7,157.5 1538.8,159.7 1529.7,162.4 1520.5,166.1 1511.2,170.8 1501.8,176.8 1492.4,184.2 1483,193.1 1475.4,201.5 1467.7,211.1 1460.1,222.1Z" fill="#0078ff"/>
<path d="M1460.1,222.1 1470.6,227.5 1481.2,233.6 1493.8,241.5 1508.4,251.3 1540.2,274.4 1577,303 1609.1,329.3 1642.2,358 1674.2,387 1720.2,430.3 1750.2,433 1757.9,421.1 1765.3,411.2 1772.6,402.8 1781.6,393.9 1790.4,386.5 1799.1,380.5 1809.4,374.7 1819.5,370.2 1827.8,367.2 1835.9,364.8 1845.5,362.6 1854.9,361 1864.2,360 1874.7,359.5 1883.6,359.6 1894,360.4 1892.2,344.3 1889.4,334.4 1886.5,328 1883.1,322 1873.3,308.3 1872,304.1 1831.9,274.4 1804.1,254.9 1780.6,239.4 1759.3,226.5 1736.7,214 1697.8,195 1684.8,189.9 1647,174.1 1624.8,166.1 1611.7,162.2 1598.4,159.2 1586.5,157.3 1574.4,156.3 1562.1,156.3 1551.5,157.3 1540.6,159.2 1529.7,162.4 1520.5,166.1 1511.2,170.8 1501.8,176.8 1492.4,184.2 1483,193.1 1475.4,201.5 1467.7,211.1 1460.1,222.1Z" fill="#008fff"/>
<path d="M1460.1,222.1 1470.6,227.5 1481.2,233.6 1506.5,250.1 1538.3,273 1575,301.4 1607.1,327.6 1640.1,356.1 1672,385 1715.1,425.4 1752.9,428.6 1759.7,418.5 1765.3,411.2 1772.6,402.8 1779.8,395.5 1786.9,389.3 1793.9,384 1800.9,379.4 1809.4,374.7 1817.9,370.8 1827.8,367.2 1837.5,364.3 1847.1,362.2 1858,360.6 1868.7,359.7 1879.2,359.5 1889.4,360 1888.8,353.4 1888.8,346.2 1887.7,339.1 1884.7,329.9 1880,320.9 1874.8,313 1868.2,304.4 1866.8,300.2 1843.1,282.6 1813.3,261.2 1787.8,244 1764.6,229.6 1741.9,216.8 1723,207.1 1697.8,195 1684.8,189.9 1647,174.1 1624.8,166.1 1611.7,162.2 1598.4,159.2 1586.5,157.3 1574.4,156.3 1562.1,156.3 1551.5,157.3 1540.6,159.2 1529.7,162.4 1520.5,166.1 1511.2,170.8 1501.8,176.8 1492.4,184.2 1483,193.1 1475.4,201.5 1467.7,211.1 1460.1,222.1Z" fill="#00abfd"/>
<path d="M1460.1,222.1 1470.6,227.5 1481.2,233.6 1506.5,250.1 1538.3,273 1573.1,299.9 1605,325.9 1638,354.3 1669.9,383 1710,420.6 1734.5,422.8 1755.9,424.1 1767.1,409 1772.6,402.8 1779.8,395.5 1786.9,389.3 1793.9,384 1800.9,379.4 1809.4,374.7 1817.9,370.8 1826.1,367.7 1835.9,364.8 1845.5,362.6 1854.9,361 1864.2,360 1874.7,359.5 1884.6,359.7 1884.6,342.3 1883.7,336.6 1881.7,329.8 1879.5,324.6 1876.3,318.6 1870.8,310.3 1863,300.5 1861.7,296.3 1826.3,270.4 1798.7,251.2 1773.5,234.9 1748.8,220.5 1726.4,208.8 1697.8,195 1684.8,189.9 1647,174.1 1626.4,166.6 1613.4,162.7 1600.1,159.5 1588.2,157.5 1576.2,156.4 1563.9,156.2 1553.2,157 1542.5,158.8 1531.5,161.8 1520.5,166.1 1511.2,170.8 1501.8,176.8 1492.4,184.2 1483,193.1 1475.4,201.5 1467.7,211.1 1460.1,222.1Z" fill="#00c6fc"/>
<path d="M1460.1,222.1 1470.6,227.5 1481.2,233.6 1504.7,248.8 1536.4,271.6 1571.1,298.3 1603,324.2 1635.9,352.4 1667.7,381.1 1704.9,415.8 1734.9,418.4 1759.1,419.4 1765.3,411.2 1770.8,404.8 1781.6,393.9 1788.7,387.9 1795.7,382.8 1802.6,378.4 1809.4,374.7 1816.2,371.6 1824.5,368.3 1832.7,365.6 1842.3,363.2 1851.8,361.4 1861.1,360.3 1870.2,359.7 1879.4,359.5 1880.6,341.8 1879.9,335 1878,328 1875.6,322.2 1871.8,315.1 1865.9,306.4 1857.9,296.6 1856.5,292.5 1822.5,267.8 1795,248.8 1769.9,232.8 1747.1,219.6 1726.4,208.8 1697.8,195 1684.8,189.9 1647,174.1 1626.4,166.6 1613.4,162.7 1600.1,159.5 1588.2,157.5 1576.2,156.4 1563.9,156.2 1553.2,157 1542.5,158.8 1531.5,161.8 1520.5,166.1 1511.2,170.8 1501.8,176.8 1492.4,184.2 1483,193.1 1475.4,201.5 1467.7,211.1 1460.1,222.1Z" fill="#00e2fb"/>
<path d="M1460.1,222.1 1470.6,227.5 1481.2,233.6 1504.7,248.8 1534.5,270.1 1567.2,295.2 1599,320.9 1631.8,348.8 1663.4,377.1 1699.9,411.1 1735.2,413.9 1762.6,414.7 1768.9,406.8 1774.4,400.8 1785.1,390.8 1797.4,381.6 1809.4,374.7 1816.2,371.6 1824.5,368.3 1839.1,363.9 1856.5,360.8 1873.9,359.5 1876,346.7 1876.5,341.2 1876,333.5 1874.4,326.5 1871.6,319.5 1867.8,312.3 1861.2,302.9 1852.7,292.8 1851.3,288.6 1818.8,265.1 1793.2,247.6 1768.1,231.7 1745.3,218.6 1724.7,207.9 1697.8,195 1684.8,189.9 1648.6,174.7 1628,167.1 1615,163.1 1601.7,159.9 1588.2,157.5 1576.2,156.4 1563.9,156.2 1553.2,157 1542.5,158.8 1531.5,161.8 1520.5,166.1 1511.2,170.8 1501.8,176.8 1492.4,184.2 1483,193.1 1475.4,201.5 1467.7,211.1 1460.1,222.1Z" fill="#00eff2"/>
<path d="M1460.1,222.1 1479.4,232.5 1502.9,247.6 1532.6,268.7 1565.2,293.7 1597,319.2 1627.6,345.1 1659.2,373.2 1694.8,406.3 1713.2,408 1735.3,409.4 1750.1,409.8 1766.5,409.7 1776.2,399 1786.9,389.3 1799.1,380.5 1811.1,373.9 1824.5,368.3 1837.5,364.3 1851.8,361.4 1867.9,359.8 1871.3,346 1872.2,339.5 1872,331.7 1870.4,324.1 1867.7,316.8 1863.6,309.3 1857,299.9 1847.6,288.9 1846.1,284.8 1815.1,262.5 1789.6,245.2 1766.4,230.6 1743.6,217.7 1723,207.1 1697.8,195 1684.8,189.9 1648.6,174.7 1629.6,167.7 1615,163.1 1601.7,159.9 1588.2,157.5 1576.2,156.4 1563.9,156.2 1553.2,157 1542.5,158.8 1531.5,161.8 1520.5,166.1 1511.2,170.8 1501.8,176.8 1492.4,184.2 1483,193.1 1475.4,201.5 1467.7,211.1 1460.1,222.1Z" fill="#00ede2"/>
<path d="M1460.1,222.1 1479.4,232.5 1502.9,247.6 1530.7,267.4 1563.3,292.1 1594.9,317.5 1625.5,343.3 1654.9,369.3 1689.8,401.6 1713.9,403.7 1735.2,404.8 1754,405.1 1770.9,404.6 1779.8,395.5 1790.4,386.5 1800.9,379.4 1811.1,373.9 1822.8,368.9 1834.3,365.2 1847.1,362.2 1861.2,360.3 1866.1,346.4 1867.7,338.8 1868,332 1867.2,324.6 1865.1,317.6 1862.5,311.6 1858.3,304.6 1851.4,295.3 1842.4,285.1 1840.8,281 1811.5,260 1786,242.9 1762.8,228.5 1738.4,214.9 1721.3,206.2 1697.8,195 1684.8,189.9 1645.5,173.5 1621.5,165 1608.4,161.4 1596.7,158.9 1584.8,157.1 1572.7,156.2 1560.4,156.4 1549.7,157.5 1538.8,159.7 1529.7,162.4 1520.5,166.1 1511.2,170.8 1501.8,176.8 1492.4,184.2 1483,193.1 1475.4,201.5 1467.7,211.1 1460.1,222.1Z" fill="#00eac7"/>
<path d="M1460.1,222.1 1479.4,232.5 1501,246.3 1528.8,266 1559.4,289.1 1590.9,314.2 1621.4,339.8 1652.8,367.4 1684.8,396.9 1708.8,398.9 1735,400.2 1757.3,400.1 1776.2,399 1783.3,392.3 1792.2,385.2 1800.9,379.4 1811.1,373.9 1821.2,369.5 1831.1,366.1 1842.3,363.2 1853.7,361.2 1859.6,348.7 1861.9,342.4 1863.5,334.9 1863.8,328.2 1862.8,320.9 1860.6,313.7 1857.4,307 1853.6,300.7 1846.9,292 1837.2,281.2 1835.6,277.1 1807.8,257.4 1782.4,240.5 1759.3,226.5 1736.7,214 1697.8,195 1684.8,189.9 1645.5,173.5 1632.8,168.8 1619.9,164.6 1606.7,161 1595,158.6 1583.1,156.9 1570.9,156.2 1558.6,156.5 1547.9,157.8 1537,160.1 1527.9,163 1518.6,166.9 1509.3,171.9 1500,178.2 1492.4,184.2 1483,193.1 1475.4,201.5 1467.7,211.1 1460.1,222.1Z" fill="#00e698"/>
<path d="M1460.1,222.1 1479.4,232.5 1501,246.3 1526.9,264.6 1557.5,287.6 1588.9,312.6 1619.4,338 1648.6,363.6 1679.7,392.1 1709.3,394.6 1739.2,395.6 1763.7,394.8 1782.7,392.8 1788.7,387.9 1795.7,382.8 1802.6,378.4 1811.1,373.9 1819.5,370.2 1827.8,367.2 1835.9,364.8 1844.7,362.7 1848.6,357.1 1853.3,348.8 1855.8,343.6 1857.7,338.4 1859.3,331 1859.5,324.4 1858.5,317.2 1856.1,309.9 1853,303.5 1848.8,296.9 1841.6,287.7 1832,277.4 1830.3,273.3 1802.3,253.7 1778.8,238.3 1755.8,224.5 1733.3,212.2 1697.8,195 1684.8,189.9 1643.9,172.9 1631.2,168.2 1618.3,164.1 1605.1,160.6 1593.3,158.3 1581.3,156.8 1569.2,156.2 1558.6,156.5 1547.9,157.8 1537,160.1 1527.9,163 1518.6,166.9 1509.3,171.9 1500,178.2 1492.4,184.2 1483,193.1 1475.4,201.5 1467.7,211.1 1460.1,222.1Z" fill="#00e366"/>
<path d="M1460.1,222.1 1477.7,231.5 1499.2,245.1 1525.1,263.2 1553.6,284.6 1584.9,309.4 1615.2,334.5 1644.3,359.8 1674.7,387.4 1709.6,390.2 1724.8,390.8 1742.8,390.8 1754.9,390.4 1769.1,389.2 1781.5,387.5 1792,385.4 1800.9,379.4 1811.1,373.9 1821.2,369.5 1832.9,365.6 1839.4,358.9 1846.7,348.8 1850.7,341.7 1853.7,333.8 1855,326.8 1855.1,319.5 1854,312.8 1851.5,305.9 1848.5,300 1844,293 1836.3,283.5 1826.8,273.6 1825,269.5 1798.7,251.2 1775.3,236 1752.3,222.5 1729.8,210.5 1697.8,195 1684.8,189.9 1643.9,172.9 1629.6,167.7 1616.7,163.6 1603.4,160.2 1591.6,158 1579.6,156.6 1569.2,156.2 1558.6,156.5 1547.9,157.8 1537,160.1 1527.9,163 1518.6,166.9 1509.3,171.9 1500,178.2 1492.4,184.2 1483,193.1 1475.4,201.5 1467.7,211.1 1460.1,222.1Z" fill="#00e233"/>
<path d="M1460.1,222.1 1477.7,231.5 1499.2,245.1 1523.2,261.9 1551.7,283.1 1581,306.2 1611.2,331 1640.1,356.1 1669.6,382.7 1687.9,384.4 1709.8,385.8 1724.4,386.2 1741.9,386.1 1757.1,385.2 1770.3,383.8 1781.9,381.8 1794.2,378.8 1804.6,375.2 1813.3,371.2 1820.6,366.9 1827.8,361.3 1836.3,352.6 1841.8,345.7 1846.5,337.7 1849.6,329.5 1850.8,322.1 1850.8,315.6 1849.4,308.5 1846.5,301.1 1842.8,294.4 1838.3,288.1 1830.9,279.3 1821.5,269.7 1819.6,265.7 1795,248.8 1771.7,233.9 1748.8,220.5 1726.4,208.8 1697.8,195 1684.8,189.9 1653.2,176.6 1632.8,168.8 1615,163.1 1601.7,159.9 1589.9,157.8 1577.9,156.5 1567.4,156.2 1556.8,156.7 1546.1,158.1 1535.2,160.6 1526,163.7 1516.8,167.8 1507.5,173.1 1498.1,179.6 1490.5,185.8 1483,193.1 1475.4,201.5 1467.7,211.1 1460.1,222.1Z" fill="#01e100"/>
<path d="M1460.1,222.1 1477.7,231.5 1497.4,243.9 1521.3,260.5 1547.8,280.2 1577,303 1607.1,327.6 1635.9,352.4 1664.5,378.1 1682.9,379.7 1704.7,381.1 1719.4,381.5 1736.8,381.4 1752,380.6 1765.3,379.2 1776.8,377.2 1789.1,374.2 1799.5,370.7 1808.2,366.7 1816.9,361.5 1825.2,355.1 1832,348.5 1838.2,340.7 1842.7,332.7 1845.3,325.5 1846.5,318.2 1846.4,311.7 1845,304.9 1842.1,297.6 1838.5,291.3 1833.9,284.7 1826.4,276.1 1816.2,265.9 1814.1,261.8 1789.6,245.2 1768.1,231.7 1745.3,218.6 1723,207.1 1697.8,195 1684.8,189.9 1650.1,175.3 1631.2,168.2 1613.4,162.7 1601.7,159.9 1589.9,157.8 1577.9,156.5 1567.4,156.2 1556.8,156.7 1546.1,158.1 1535.2,160.6 1526,163.7 1516.8,167.8 1507.5,173.1 1498.1,179.6 1490.5,185.8 1483,193.1 1475.4,201.5 1467.7,211.1 1460.1,222.1Z" fill="#23e300"/>
<path d="M1460.1,222.1 1475.9,230.5 1495.6,242.7 1519.5,259.2 1545.9,278.7 1575,301.4 1603,324.2 1631.8,348.8 1659.3,373.4 1677.8,375.1 1699.7,376.4 1714.3,376.9 1731.8,376.8 1747,376 1760.3,374.6 1771.9,372.7 1784.2,369.7 1794.6,366.2 1803.4,362.3 1812.2,357.2 1820.7,350.9 1827.6,344.4 1833.9,336.6 1838.5,328.7 1841,321.6 1842.2,314.2 1842,307.8 1840.2,300.1 1837.2,293.3 1833.8,287.5 1828.6,280.4 1820.9,271.9 1810.8,262.1 1808.6,258 1784.2,241.7 1762.8,228.5 1741.9,216.8 1717.9,204.6 1697.8,195 1684.8,189.9 1648.6,174.7 1629.6,167.7 1611.7,162.2 1600.1,159.5 1588.2,157.5 1576.2,156.4 1565.7,156.2 1555,156.8 1544.3,158.4 1535.2,160.6 1526,163.7 1516.8,167.8 1507.5,173.1 1498.1,179.6 1490.5,185.8 1483,193.1 1475.4,201.5 1467.7,211.1 1460.1,222.1Z" fill="#46e600"/>
<path d="M1460.1,222.1 1475.9,230.5 1495.6,242.7 1517.6,257.8 1542.1,275.8 1571.1,298.3 1599,320.9 1625.5,343.3 1654.2,368.7 1672.7,370.4 1694.6,371.8 1709.3,372.2 1726.7,372.2 1742,371.4 1755.3,370 1766.9,368.2 1779.3,365.2 1789.8,361.8 1800.3,357.1 1809,352.1 1816.3,346.7 1823.3,340.2 1829.6,332.6 1834.2,324.7 1836.7,317.6 1837.8,310.3 1837.5,303.9 1835.7,296.6 1832.6,289.6 1828.7,283.1 1823.6,276.5 1815.6,267.9 1805.4,258.2 1803,254.1 1778.8,238.3 1757.6,225.5 1735,213.1 1711.2,201.3 1697.8,195 1684.8,189.9 1645.5,173.5 1626.4,166.6 1610.1,161.8 1598.4,159.2 1586.5,157.3 1574.4,156.3 1563.9,156.2 1553.2,157 1542.5,158.8 1533.4,161.2 1524.2,164.5 1514.9,168.8 1507.5,173.1 1498.1,179.6 1490.5,185.8 1483,193.1 1475.4,201.5 1467.7,211.1 1460.1,222.1Z" fill="#69e800"/>
<path d="M1460.1,222.1 1475.9,230.5 1493.8,241.5 1515.8,256.5 1540.2,274.4 1567.2,295.2 1594.9,317.5 1621.4,339.8 1649,364 1667.5,365.8 1689.5,367.2 1704.3,367.6 1721.7,367.6 1737,366.8 1750.4,365.5 1762,363.6 1774.5,360.8 1785,357.4 1795.6,352.8 1804.5,347.8 1811.8,342.5 1818.9,336.1 1825.3,328.5 1829.9,320.7 1832.4,313.7 1833.4,306.4 1833.1,300 1831.3,293 1827.8,285.6 1823.4,278.8 1818.6,272.7 1810.2,263.9 1799.8,254.4 1797.3,250.3 1773.5,234.9 1750.6,221.5 1728.1,209.6 1697.8,195 1639.2,171.1 1623.2,165.5 1608.4,161.4 1596.7,158.9 1584.8,157.1 1574.4,156.3 1563.9,156.2 1553.2,157 1542.5,158.8 1533.4,161.2 1524.2,164.5 1514.9,168.8 1507.5,173.1 1498.1,179.6 1490.5,185.8 1483,193.1 1475.4,201.5 1467.7,211.1 1460.1,222.1Z" fill="#8cea00"/>
<path d="M1460.1,222.1 1475.9,230.5 1492,240.3 1512,253.9 1536.4,271.6 1563.3,292.1 1590.9,314.2 1617.3,336.3 1643.7,359.3 1662.4,361.1 1684.5,362.5 1699.2,363 1716.7,363 1732,362.3 1745.4,361 1757.1,359.2 1769.7,356.3 1780.3,353 1791,348.5 1799.9,343.6 1808.5,337.5 1815.4,331.1 1820.9,324.5 1825.5,316.7 1828,309.7 1829,302.7 1828.6,296.1 1826.4,288.5 1823.1,281.7 1818.9,275.4 1813.5,268.7 1804.8,259.9 1794.2,250.5 1791.4,246.4 1768.1,231.7 1747.1,219.6 1726.4,208.8 1697.8,195 1639.2,171.1 1623.2,165.5 1606.7,161 1595,158.6 1583.1,156.9 1572.7,156.2 1562.1,156.3 1551.5,157.3 1542.5,158.8 1533.4,161.2 1524.2,164.5 1514.9,168.8 1507.5,173.1 1498.1,179.6 1490.5,185.8 1483,193.1 1475.4,201.5 1467.7,211.1 1460.1,222.1Z" fill="#a2ec00"/>
<path d="M1460.1,222.1 1475.9,230.5 1492,240.3 1512,253.9 1534.5,270.1 1561.3,290.6 1586.9,311 1613.2,332.8 1638.5,354.6 1657.2,356.4 1679.3,357.9 1694.1,358.4 1711.7,358.4 1727.1,357.7 1740.5,356.5 1752.2,354.7 1764.9,351.9 1775.6,348.6 1786.4,344.2 1795.4,339.3 1804,333.3 1811,327 1817.2,319.5 1821.2,312.7 1823.8,305.2 1824.6,298.6 1823.8,291.2 1821.7,284.6 1817.9,277.2 1813.5,270.9 1807.4,263.8 1799.3,255.9 1788.5,246.7 1785.4,242.5 1764.6,229.6 1745.3,218.6 1724.7,207.9 1697.8,195 1637.6,170.5 1621.5,165 1605.1,160.6 1593.3,158.3 1581.3,156.8 1570.9,156.2 1560.4,156.4 1549.7,157.5 1540.6,159.2 1531.5,161.8 1522.3,165.2 1513.1,169.8 1505.6,174.2 1496.2,181 1488.6,187.5 1481.1,195.1 1473.5,203.8 1465.8,213.7 1460.1,222.1Z" fill="#b4ee00"/>
<path d="M1460.1,222.1 1474.1,229.4 1490.2,239.2 1508.4,251.3 1530.7,267.4 1555.5,286.1 1583,307.8 1609.1,329.3 1633.1,350 1652,351.8 1674.2,353.3 1689.1,353.8 1706.7,353.9 1722.1,353.2 1735.6,352 1747.3,350.2 1760,347.5 1770.8,344.3 1781.7,339.9 1790.8,335.1 1799.6,329.1 1806.6,322.9 1812.9,315.5 1816.8,308.7 1819.3,301.5 1820.1,294.7 1819.3,287.4 1817.1,280.8 1813.4,273.8 1808.5,267.1 1802.2,259.9 1793.8,252 1782.6,242.8 1779.3,238.6 1761.1,227.5 1741.9,216.8 1723,207.1 1697.8,195 1637.6,170.5 1619.9,164.6 1603.4,160.2 1591.6,158 1581.3,156.8 1570.9,156.2 1560.4,156.4 1549.7,157.5 1540.6,159.2 1531.5,161.8 1522.3,165.2 1513.1,169.8 1505.6,174.2 1496.2,181 1488.6,187.5 1481.1,195.1 1473.5,203.8 1465.8,213.7 1460.1,222.1Z" fill="#c6ef00"/>
<path d="M1460.1,222.1 1474.1,229.4 1490.2,239.2 1508.4,251.3 1528.8,266 1553.6,284.6 1579,304.6 1603,324.2 1627.8,345.3 1646.7,347.1 1669,348.7 1683.9,349.3 1701.6,349.3 1717.1,348.7 1730.6,347.5 1742.5,345.8 1755.2,343.1 1766.1,339.9 1777.1,335.6 1786.3,330.9 1795.1,325 1802.2,318.8 1807.8,312.4 1812.4,304.8 1814.8,297.8 1815.6,290.8 1814.7,283.9 1812.3,276.9 1808.2,269.5 1803.1,262.7 1796.4,255.6 1787.6,247.6 1776.6,238.8 1772.9,234.6 1755.8,224.5 1738.4,214.9 1721.3,206.2 1697.8,195 1684.8,189.9 1651.7,176 1636,169.9 1618.3,164.1 1601.7,159.9 1589.9,157.8 1579.6,156.6 1569.2,156.2 1558.6,156.5 1549.7,157.5 1540.6,159.2 1531.5,161.8 1522.3,165.2 1513.1,169.8 1505.6,174.2 1496.2,181 1488.6,187.5 1481.1,195.1 1473.5,203.8 1465.8,213.7 1460.1,222.1Z" fill="#d8f100"/>
<path d="M1460.1,222.1 1474.1,229.4 1490.2,239.2 1506.5,250.1 1526.9,264.6 1549.7,281.7 1575,301.4 1599,320.9 1622.3,340.6 1641.4,342.5 1663.9,344.1 1678.8,344.7 1696.6,344.8 1712.1,344.2 1725.7,343 1740.3,340.9 1752.8,338.1 1763.4,334.9 1774.1,330.6 1783.1,325.8 1791.7,320 1798.7,313.8 1804.7,306.5 1808.4,299.8 1810.5,293 1811,285.9 1810,279.6 1807.3,272.4 1802.9,265.2 1797.7,258.6 1790.9,251.6 1781.7,243.6 1770.4,234.9 1766.3,230.6 1750.6,221.5 1735,213.1 1697.8,195 1684.8,189.9 1651.7,176 1636,169.9 1616.7,163.6 1600.1,159.5 1588.2,157.5 1577.9,156.5 1567.4,156.2 1556.8,156.7 1547.9,157.8 1538.8,159.7 1529.7,162.4 1520.5,166.1 1511.2,170.8 1503.7,175.5 1496.2,181 1488.6,187.5 1481.1,195.1 1473.5,203.8 1465.8,213.7 1460.1,222.1Z" fill="#eaf200"/>
<path d="M1460.1,222.1 1474.1,229.4 1488.4,238 1504.7,248.8 1523.2,261.9 1545.9,278.7 1569.1,296.7 1592.9,315.9 1616.9,335.9 1636,337.9 1658.6,339.5 1673.7,340.1 1691.5,340.2 1707.1,339.7 1720.7,338.5 1735.4,336.4 1748,333.8 1758.6,330.6 1769.5,326.3 1778.5,321.7 1787.2,315.9 1794.2,309.7 1800.3,302.5 1803.9,295.9 1806,289 1806.4,282 1805.3,275.7 1802.2,268.1 1797.7,260.9 1792.2,254.4 1784.5,246.9 1775.1,239 1763.9,230.9 1759.4,226.5 1731.5,211.4 1697.8,195 1684.8,189.9 1650.1,175.3 1634.4,169.3 1615,163.1 1598.4,159.2 1586.5,157.3 1576.2,156.4 1565.7,156.2 1556.8,156.7 1547.9,157.8 1538.8,159.7 1529.7,162.4 1520.5,166.1 1511.2,170.8 1503.7,175.5 1496.2,181 1488.6,187.5 1481.1,195.1 1473.5,203.8 1465.8,213.7 1460.1,222.1Z" fill="#f3f000"/>
<path d="M1460.1,222.1 1472.4,228.5 1486.6,236.9 1502.9,247.6 1521.3,260.5 1542.1,275.8 1565.2,293.7 1588.9,312.6 1611.4,331.2 1630.6,333.2 1653.3,334.9 1668.5,335.5 1686.4,335.7 1702,335.2 1715.8,334.1 1730.6,332 1743.1,329.4 1753.9,326.3 1764.8,322.1 1773.9,317.5 1782.7,311.7 1789.7,305.7 1795.1,299.4 1799.4,291.9 1801.5,285.1 1801.8,278.1 1800.2,270.7 1797,263.6 1792,256.3 1785.7,249.3 1778,242.2 1768.4,234.6 1757.3,226.9 1752.1,222.4 1728.1,209.6 1697.8,195 1684.8,189.9 1651.7,176 1636,169.9 1623.2,165.5 1610.1,161.8 1596.7,158.9 1586.5,157.3 1576.2,156.4 1565.7,156.2 1556.8,156.7 1547.9,157.8 1538.8,159.7 1529.7,162.4 1520.5,166.1 1511.2,170.8 1503.7,175.5 1496.2,181 1488.6,187.5 1481.1,195.1 1473.5,203.8 1465.8,213.7 1460.1,222.1Z" fill="#f8eb00"/>
<path d="M1460.1,222.1 1472.4,228.5 1486.6,236.9 1502.9,247.6 1519.5,259.2 1540.2,274.4 1561.3,290.6 1605.8,326.5 1625.2,328.6 1648,330.3 1663.2,331 1681.2,331.2 1697,330.7 1710.8,329.6 1725.7,327.6 1738.3,325 1749.1,322 1760.1,317.8 1769.3,313.3 1778.1,307.6 1785.2,301.6 1790.6,295.4 1794.9,287.9 1796.9,281.2 1797.1,274.2 1795.4,266.9 1791.7,259.3 1786.8,252.5 1780.3,245.4 1772,238.1 1762,230.6 1750.2,222.8 1744.5,218.2 1724.7,207.9 1697.8,195 1684.8,189.9 1648.6,174.7 1632.8,168.8 1619.9,164.6 1606.7,161 1595,158.6 1584.8,157.1 1574.4,156.3 1563.9,156.2 1555,156.8 1546.1,158.1 1537,160.1 1527.9,163 1518.6,166.9 1509.3,171.9 1501.8,176.8 1494.3,182.6 1486.7,189.3 1479.2,197.1 1473.5,203.8 1465.8,213.7 1460.1,222.1Z" fill="#fae100"/>
<path d="M1460.1,222.1 1472.4,228.5 1486.6,236.9 1501,246.3 1517.6,257.8 1557.5,287.6 1600.2,321.8 1619.7,323.9 1642.7,325.7 1658,326.4 1676.1,326.6 1691.9,326.2 1705.8,325.2 1720.7,323.2 1733.5,320.7 1744.4,317.7 1755.4,313.6 1764.7,309.1 1773.6,303.5 1780.7,297.6 1786.8,290.5 1790.3,284 1792.3,277.3 1792.4,270.3 1790.6,263 1786.7,255.4 1780.8,247.6 1773.4,240.3 1764.7,233.1 1736.4,213.9 1697.8,195 1684.8,189.9 1643.9,172.9 1629.6,167.7 1616.7,163.6 1605.1,160.6 1593.3,158.3 1583.1,156.9 1572.7,156.2 1562.1,156.3 1553.2,157 1544.3,158.4 1535.2,160.6 1526,163.7 1518.6,166.9 1509.3,171.9 1501.8,176.8 1494.3,182.6 1486.7,189.3 1479.2,197.1 1473.5,203.8 1465.8,213.7 1460.1,222.1Z" fill="#fbd200"/>
<path d="M1460.1,222.1 1472.4,228.5 1484.8,235.8 1499.2,245.1 1513.9,255.2 1553.6,284.6 1594.5,317.1 1614.1,319.3 1637.3,321.1 1652.7,321.8 1670.9,322.1 1686.8,321.7 1700.7,320.7 1715.8,318.9 1728.6,316.4 1739.6,313.4 1750.7,309.4 1760,304.9 1769,299.4 1776.1,293.5 1782.2,286.5 1785.7,280 1787.6,273.5 1787.6,266.4 1785.6,258.9 1781.6,251.5 1775.3,243.6 1767.5,236.2 1757.9,228.8 1748.7,222.5 1727.9,209.5 1697.8,195 1686.3,190.5 1640.8,171.7 1628,167.1 1615,163.1 1603.4,160.2 1591.6,158 1581.3,156.8 1572.7,156.2 1562.1,156.3 1553.2,157 1544.3,158.4 1535.2,160.6 1526,163.7 1518.6,166.9 1509.3,171.9 1501.8,176.8 1494.3,182.6 1486.7,189.3 1479.2,197.1 1473.5,203.8 1465.8,213.7 1460.1,222.1Z" fill="#fbc400"/>
<path d="M1460.1,222.1 1470.6,227.5 1483,234.7 1497.4,243.9 1512,253.9 1547.8,280.2 1588.7,312.5 1608.5,314.6 1631.8,316.5 1647.3,317.3 1665.6,317.6 1681.7,317.2 1695.7,316.3 1710.8,314.5 1723.7,312 1734.8,309.1 1746,305.1 1755.4,300.8 1764.4,295.3 1771.5,289.5 1776.9,283.4 1780.7,277 1782.8,270 1783.1,266.5 1782.8,262.5 1780.7,255.2 1776.4,247.6 1769.7,239.6 1761.8,232.4 1751,224.5 1741.4,218.3 1718.8,205 1697.8,195 1637.6,170.5 1624.8,166.1 1613.4,162.7 1601.7,159.9 1589.9,157.8 1579.6,156.6 1570.9,156.2 1560.4,156.4 1551.5,157.3 1542.5,158.8 1533.4,161.2 1524.2,164.5 1516.8,167.8 1509.3,171.9 1501.8,176.8 1494.3,182.6 1486.7,189.3 1479.2,197.1 1473.5,203.8 1465.8,213.7 1460.1,222.1Z" fill="#fcb500"/>
<path d="M1460.1,222.1 1470.6,227.5 1483,234.7 1510.2,252.6 1544,277.3 1583,307.8 1602.9,309.9 1626.3,311.9 1641.9,312.7 1660.4,313.1 1676.5,312.8 1690.6,311.9 1703,310.5 1716.4,308.2 1727.9,305.4 1739.5,301.6 1749.2,297.3 1758.5,292 1766,286.2 1772.3,279.3 1776,273 1778,266.4 1778.2,260.2 1776.5,253.4 1773.4,247 1768.8,240.8 1762.8,234.5 1755,228 1746.1,221.6 1734.3,214.4 1709.4,200.5 1697.8,195 1684.8,189.9 1645.5,173.5 1631.2,168.2 1616.7,163.6 1603.4,160.2 1589.9,157.8 1579.6,156.6 1570.9,156.2 1560.4,156.4 1551.5,157.3 1542.5,158.8 1533.4,161.2 1524.2,164.5 1516.8,167.8 1509.3,171.9 1501.8,176.8 1494.3,182.6 1486.7,189.3 1479.2,197.1 1473.5,203.8 1465.8,213.7 1460.1,222.1Z" fill="#fc9e00"/>
<path d="M1460.1,222.1 1470.6,227.5 1481.2,233.6 1493.8,241.5 1508.4,251.3 1540.2,274.4 1577.1,303.1 1597.1,305.3 1620.8,307.3 1636.5,308.1 1655,308.6 1671.3,308.3 1685.5,307.4 1697.9,306.1 1711.4,303.9 1723,301.2 1734.7,297.4 1744.5,293.2 1753.9,287.9 1761.3,282.2 1767.7,275.3 1771.3,269.1 1773.2,262.5 1773.3,256.7 1771.9,250.6 1768.8,244.2 1764,237.7 1757.5,231.1 1750.1,225 1741.1,218.8 1730.8,212.6 1697.8,195 1684.8,189.9 1643.9,172.9 1629.6,167.7 1615,163.1 1601.7,159.9 1588.2,157.5 1577.9,156.5 1569.2,156.2 1558.6,156.5 1549.7,157.5 1540.6,159.2 1533.4,161.2 1524.2,164.5 1516.8,167.8 1509.3,171.9 1501.8,176.8 1494.3,182.6 1486.7,189.3 1479.2,197.1 1473.5,203.8 1465.8,213.7 1460.1,222.1Z" fill="#fc8400"/>
<path d="M1460.1,222.1 1470.6,227.5 1481.2,233.6 1504.7,248.8 1536.4,271.6 1571.2,298.4 1578.2,299.2 1597.6,301.2 1620.6,303 1635.9,303.8 1654,304.1 1669.8,303.7 1683.6,302.7 1695.8,301.3 1708.9,299.1 1720.2,296.3 1731.6,292.5 1741.2,288.3 1750.3,283 1757.5,277.3 1762.9,271.3 1766.6,265.1 1768.4,258.6 1768.4,252.7 1766.8,246.6 1763.9,240.9 1759.3,234.7 1753.5,228.9 1746.2,222.8 1737.1,216.6 1726.2,210.2 1695,193.9 1640.8,171.7 1626.4,166.6 1611.7,162.2 1598.4,159.2 1586.5,157.3 1576.2,156.4 1567.4,156.2 1556.8,156.7 1547.9,157.8 1538.8,159.7 1531.5,161.8 1522.3,165.2 1514.9,168.8 1507.5,173.1 1500,178.2 1492.4,184.2 1486.7,189.3 1479.2,197.1 1473.5,203.8 1465.8,213.7 1460.1,222.1Z" fill="#fd6800"/>
<path d="M1460.1,222.1 1479.4,232.5 1502.9,247.6 1532.6,268.7 1565.3,293.7 1579,295.3 1597.9,297.2 1620.3,298.7 1635.1,299.4 1652.8,299.5 1668.1,299 1681.6,298 1693.5,296.6 1706.3,294.2 1717.3,291.4 1728.5,287.6 1737.8,283.4 1746.7,278.1 1753.7,272.4 1758.8,266.5 1761.9,260.7 1763.5,254.6 1763.4,249.1 1762,243.7 1758.8,237.4 1754.3,231.6 1748.6,225.9 1741.2,219.9 1732,213.8 1722.1,208.1 1691.5,192.6 1639.2,171.1 1624.8,166.1 1610.1,161.8 1596.7,158.9 1584.8,157.1 1574.4,156.3 1565.7,156.2 1556.8,156.7 1547.9,157.8 1538.8,159.7 1531.5,161.8 1522.3,165.2 1514.9,168.8 1507.5,173.1 1500,178.2 1492.4,184.2 1486.7,189.3 1479.2,197.1 1473.5,203.8 1465.8,213.7 1460.1,222.1Z" fill="#fd4b00"/>
<path d="M1460.1,222.1 1479.4,232.5 1501,246.3 1528.8,266 1559.2,289 1586,292 1603.8,293.5 1624.8,294.7 1638.8,295 1655.4,294.9 1669.9,294.2 1682.6,293 1693.8,291.4 1705.9,288.9 1716.4,286 1727,282.1 1735.8,277.8 1743,273.2 1748.9,268.4 1754,262.5 1757.3,256.3 1758.5,250.7 1758.3,244.9 1756.8,239.8 1754,234.6 1749.3,228.5 1743.6,222.9 1736.3,217.2 1727.9,211.6 1718,206 1688.1,191.3 1653.2,176.6 1636,169.9 1621.5,165 1606.7,161 1593.3,158.3 1581.3,156.8 1570.9,156.2 1562.1,156.3 1553.2,157 1544.3,158.4 1535.2,160.6 1527.9,163 1520.5,166.1 1513.1,169.8 1505.6,174.2 1498.1,179.6 1490.5,185.8 1484.9,191.2 1477.3,199.3 1471.6,206.1 1460.1,222.1Z" fill="#fe2a00"/>
<path d="M1460.1,222.1 1477.7,231.5 1499.2,245.1 1525.1,263.2 1553.2,284.3 1592.3,288.4 1609,289.6 1628.7,290.4 1657.5,290.2 1671.2,289.2 1683.2,287.9 1693.8,286.1 1705.3,283.5 1715.2,280.5 1725.2,276.5 1733.5,272.2 1740.3,267.6 1745.7,262.7 1749.7,257.6 1752.4,252.3 1753.5,246.7 1753.2,241.5 1751.4,235.9 1748.4,230.6 1743.9,225.1 1737.7,219.3 1731,214.2 1722.7,208.9 1712.9,203.5 1684.8,189.9 1651.7,176 1632.8,168.8 1618.3,164.1 1605.1,160.6 1591.6,158 1579.6,156.6 1570.9,156.2 1562.1,156.3 1553.2,157 1544.3,158.4 1535.2,160.6 1527.9,163 1520.5,166.1 1513.1,169.8 1505.6,174.2 1498.1,179.6 1490.5,185.8 1484.9,191.2 1477.3,199.3 1471.6,206.1 1460.1,222.1Z" fill="#ff1200"/>
<path d="M1460.1,222.1 1477.7,231.5 1497.4,243.9 1519.5,259.2 1547,279.6 1567.7,282 1592.2,284.3 1623.1,285.9 1652.1,285.7 1665.9,284.8 1678,283.5 1688.7,281.8 1700.3,279.2 1710.2,276.3 1718.7,273 1727.4,268.8 1734.4,264.3 1740.1,259.5 1744.3,254.5 1747.1,249.2 1748.4,243.7 1748.1,238.4 1746.6,233.2 1743.5,227.7 1739.2,222.5 1733.4,217 1726.8,212 1718.5,206.8 1709.5,201.9 1681.4,188.5 1650.1,175.3 1631.2,168.2 1618.3,164.1 1605.1,160.6 1591.6,158 1579.6,156.6 1570.9,156.2 1562.1,156.3 1553.2,157 1544.3,158.4 1535.2,160.6 1527.9,163 1520.5,166.1 1513.1,169.8 1505.6,174.2 1498.1,179.6 1490.5,185.8 1484.9,191.2 1477.3,199.3 1471.6,206.1 1460.1,222.1Z" fill="#ff0400"/>
<path d="M1460.1,222.1 1475.9,230.5 1493.8,241.5 1515.8,256.5 1540.8,274.9 1568.2,278 1597.4,280.4 1626.5,281.5 1653.9,280.9 1666.9,279.8 1678.3,278.4 1688.4,276.5 1699.4,273.9 1708.8,270.8 1716.9,267.5 1723.7,264 1730.6,259.4 1735.9,254.6 1739.9,249.6 1742.2,244.9 1743.2,239.8 1742.9,235 1741.4,230 1738.5,224.8 1734.1,219.5 1728.9,214.7 1722.4,209.7 1714.2,204.6 1705.3,199.8 1678.1,187.1 1662.4,180.4 1643.9,172.9 1629.6,167.7 1616.7,163.6 1603.4,160.2 1589.9,157.8 1577.9,156.5 1569.2,156.2 1560.4,156.4 1551.5,157.3 1544.3,158.4 1535.2,160.6 1527.9,163 1520.5,166.1 1513.1,169.8 1505.6,174.2 1498.1,179.6 1490.5,185.8 1484.9,191.2 1477.3,199.3 1471.6,206.1 1460.1,222.1Z" fill="#ff0000"/>
<path d="M1460.1,222.1 1475.9,230.5 1492,240.3 1512,253.9 1534.5,270.2 1568.4,274 1602,276.4 1629.4,277.1 1655.2,276 1667.5,274.8 1678.3,273.2 1687.9,271.3 1696.3,269.1 1705.5,266 1713.3,262.7 1720,259.1 1726.6,254.6 1731.7,249.8 1734.8,245.6 1737.2,240.4 1738,235.8 1737.6,231 1735.8,226 1732.6,220.8 1728.1,215.8 1723,211.3 1716.3,206.4 1707.9,201.4 1698.6,196.6 1674.8,185.7 1656.3,177.9 1640.8,171.7 1626.4,166.6 1613.4,162.7 1600.1,159.5 1586.5,157.3 1574.4,156.3 1565.7,156.2 1556.8,156.7 1547.9,157.8 1540.6,159.2 1533.4,161.2 1526,163.7 1518.6,166.9 1511.2,170.8 1503.7,175.5 1498.1,179.6 1490.5,185.8 1484.9,191.2 1477.3,199.3 1471.6,206.1 1460.1,222.1Z" fill="#ff0000"/>
<path d="M1460.1,222.1 1474.1,229.4 1490.2,239.2 1508.4,251.3 1528.1,265.5 1568.4,269.9 1585.6,271.3 1606,272.3 1631.8,272.5 1656.2,271.1 1667.8,269.7 1678,268 1695,263.7 1703.7,260.5 1711.1,257.2 1717.4,253.5 1722.5,249.7 1726.6,245.8 1729.7,241.6 1731.7,237.3 1732.6,232.3 1732.3,228 1730.6,223 1727.3,217.8 1723.4,213.4 1717.7,208.4 1711,203.7 1703.4,199.2 1694.2,194.5 1671.4,184.3 1651.7,176 1636,169.9 1623.2,165.5 1610.1,161.8 1596.7,158.9 1584.8,157.1 1572.7,156.2 1556.8,156.7 1547.9,157.8 1540.6,159.2 1533.4,161.2 1526,163.7 1518.6,166.9 1511.2,170.8 1503.7,175.5 1498.1,179.6 1490.5,185.8 1484.9,191.2 1477.3,199.3 1471.6,206.1 1460.1,222.1Z" fill="#ff0000"/>
<path d="M1460.1,222.1 1472.4,228.5 1486.6,236.9 1502.9,247.6 1521.6,260.7 1543.1,263.4 1568.3,265.8 1585.1,267 1604.9,267.9 1630.1,267.9 1653.8,266.4 1665.1,265 1675.1,263.2 1691.7,258.9 1698.6,256.4 1706,253 1712.3,249.5 1717.4,245.7 1721.5,241.7 1724.5,237.6 1726.4,233.3 1727.2,228.7 1726.7,224 1724.8,219.1 1721.9,214.8 1717.5,210 1712.3,205.6 1705.4,200.9 1697.8,196.5 1688.7,192 1648.6,174.7 1634.4,169.3 1621.5,165 1608.4,161.4 1595,158.6 1583.1,156.9 1570.9,156.2 1555,156.8 1546.1,158.1 1538.8,159.7 1531.5,161.8 1524.2,164.5 1516.8,167.8 1509.3,171.9 1501.8,176.8 1496.2,181 1488.6,187.5 1483,193.1 1471.6,206.1 1460.1,222.1Z" fill="#ff0000"/>
<path d="M1460.1,222.1 1472.4,228.5 1484.8,235.8 1499.2,245.1 1515,256 1536.7,258.7 1562.2,261.2 1584.3,262.8 1608.1,263.6 1631.8,263.2 1654.2,261.4 1672.2,258.5 1688.4,254.1 1695,251.6 1702.2,248.2 1708.3,244.6 1713.2,240.8 1717,236.9 1719.3,233.6 1721.1,229.2 1721.7,225.1 1721.2,220.9 1719.3,216 1716.5,211.8 1712.1,207.1 1706.7,202.7 1699.9,198.2 1692.2,193.9 1684,189.9 1669,183.6 1664.7,181.4 1645.5,173.5 1631.2,168.2 1618.3,164.1 1605.1,160.6 1593.3,158.3 1581.3,156.8 1569.2,156.2 1553.2,157 1544.3,158.4 1537,160.1 1529.7,162.4 1522.3,165.2 1509.3,171.9 1501.8,176.8 1496.2,181 1488.6,187.5 1483,193.1 1471.6,206.1 1460.1,222.1Z" fill="#fb0000"/>
<path d="M1460.1,222.1 1470.6,227.5 1481.2,233.6 1493.8,241.5 1508.1,251.2 1537.1,254.7 1561.8,257.1 1588.4,258.7 1610.8,259.2 1633.2,258.5 1651.6,256.7 1669.1,253.7 1684.9,249.3 1691.4,246.8 1698.3,243.4 1704.1,239.8 1707.9,236.8 1711.7,232.8 1713.9,229.5 1715.5,225.6 1716,221.6 1715.4,217 1713.7,212.9 1710.8,208.8 1706.6,204.3 1701.3,200 1694.7,195.7 1686.9,191.5 1678.1,187.3 1643.9,172.9 1629.6,167.7 1616.7,163.6 1603.4,160.2 1591.6,158 1579.6,156.6 1567.4,156.2 1558.6,156.5 1551.5,157.3 1542.5,158.8 1535.2,160.6 1527.9,163 1520.5,166.1 1507.5,173.1 1500,178.2 1494.3,182.6 1483,193.1 1471.6,206.1 1460.1,222.1Z" fill="#f70000"/>
<path d="M1460.1,222.1 1479.4,232.5 1501,246.3 1530.5,250.1 1561.3,252.9 1587.2,254.4 1613,254.6 1634.1,253.6 1651.5,251.6 1668,248.4 1682.9,243.9 1694.3,238.6 1699.9,235 1703.5,231.9 1706.3,228.8 1708.5,225.5 1709.8,222 1710.3,218.1 1709.4,213.1 1707.2,208.6 1703.1,203.5 1697.5,198.6 1690.6,194 1683,189.8 1673.4,185.3 1662.1,180.7 1657.8,178.5 1631.2,168.2 1619.9,164.6 1608.4,161.4 1596.7,158.9 1586.5,157.3 1576.2,156.4 1565.7,156.2 1556.8,156.7 1549.7,157.5 1535.2,160.6 1527.9,163 1520.5,166.1 1507.5,173.1 1500,178.2 1494.3,182.6 1483,193.1 1471.6,206.1 1460.1,222.1Z" fill="#f30000"/>
<path d="M1460.1,222.1 1475.9,230.5 1493.6,241.4 1530.6,246.1 1560.6,248.7 1590.4,250.1 1614.7,250 1634.7,248.7 1651.1,246.5 1666.7,243.1 1679.2,239.1 1690.2,233.7 1694.5,230.9 1698.1,227.8 1700.9,224.7 1702.9,221.4 1704.1,218 1704.4,214.4 1703.5,209.7 1700.9,204.9 1697,200.4 1691.8,195.9 1685.7,191.9 1678.2,187.8 1668.7,183.4 1658.5,179.3 1654.3,177 1628,167.1 1616.7,163.6 1605.1,160.6 1593.3,158.3 1583.1,156.9 1572.7,156.2 1563.9,156.2 1555,156.8 1547.9,157.8 1533.4,161.2 1520.5,166.1 1507.5,173.1 1500,178.2 1494.3,182.6 1483,193.1 1471.6,206.1 1460.1,222.1Z" fill="#f00000"/>
<path d="M1460.1,222.1 1472.4,228.5 1485.7,236.4 1517.1,240.6 1554.3,244.1 1584.3,245.6 1612.5,245.4 1632,244 1648,241.8 1661.3,238.9 1673.8,234.9 1679.7,232.3 1684.8,229.6 1689.1,226.8 1692.6,223.8 1695.3,220.6 1697.2,217.3 1698.1,214.6 1698.5,211.2 1697.5,206.5 1695.4,202.6 1691.8,198.2 1686.6,193.7 1680.9,189.9 1673.4,185.8 1665.1,181.9 1654.9,177.8 1650.1,175.3 1624.8,166.1 1613.4,162.7 1603.4,160.2 1591.6,158 1581.3,156.8 1570.9,156.2 1562.1,156.3 1553.2,157 1546.1,158.1 1538.8,159.7 1531.5,161.8 1518.6,166.9 1505.6,174.2 1498.1,179.6 1492.4,184.2 1481.1,195.1 1469.7,208.6 1460.1,222.1Z" fill="#ec0000"/>
<path d="M1460.1,222.1 1477.1,231.1 1510,235.8 1542.2,239.1 1568.8,240.8 1595.3,241.3 1616.9,240.5 1632,239 1647.1,236.6 1659.6,233.6 1671.4,229.5 1680.4,224.8 1687,219.7 1689.4,216.8 1691,214.1 1692.1,210.7 1692.3,207.4 1691.4,203.4 1689.2,199.3 1685.5,195.1 1680,190.5 1674,186.7 1667.3,183.2 1643.9,172.9 1631.2,168.2 1619.9,164.6 1608.4,161.4 1598.4,159.2 1588.2,157.5 1579.6,156.6 1569.2,156.2 1560.4,156.4 1546.1,158.1 1538.8,159.7 1531.5,161.8 1518.6,166.9 1505.6,174.2 1498.1,179.6 1492.4,184.2 1481.1,195.1 1469.7,208.6 1460.1,222.1Z" fill="#e80000"/>
<path d="M1460.1,222.1 1467,225.6 1477.5,227.4 1502.6,231 1535.6,234.5 1557.5,236 1580.9,236.8 1600.7,236.6 1617.4,235.6 1631.6,234 1645.9,231.4 1657.7,228.3 1668.6,224 1676.9,219.2 1681.9,214.8 1684.2,211.6 1685.4,209.1 1686,206.6 1686.1,203.9 1685,200 1682.6,195.8 1678.9,191.8 1673.9,187.9 1668.4,184.5 1662.3,181.2 1639.2,171.1 1616.7,163.6 1596.7,158.9 1586.5,157.3 1577.9,156.5 1567.4,156.2 1558.6,156.5 1544.3,158.4 1537,160.1 1529.7,162.4 1516.8,167.8 1503.7,175.5 1492.4,184.2 1481.1,195.1 1469.7,208.6 1460.1,222.1Z" fill="#e40000"/>
<path d="M1462,219.2 1461.1,220.6 1484.8,224.6 1509.5,227.8 1534.7,230.3 1556.1,231.7 1574.7,232.3 1594.6,232.2 1611.5,231.2 1625.8,229.7 1640.2,227.2 1652,224.1 1661.5,220.5 1669.1,216.5 1675.4,211.4 1677.4,208.8 1679,205.8 1679.6,203.3 1679.6,200.6 1678.6,196.9 1676.2,192.8 1672.9,189.4 1667.8,185.3 1662.7,182.2 1656,178.7 1643.7,173.5 1639.6,171.2 1634.4,169.3 1613.4,162.7 1603.4,160.2 1593.3,158.3 1583.1,156.9 1574.4,156.3 1565.7,156.2 1556.8,156.7 1542.5,158.8 1529.7,162.4 1516.8,167.8 1505.6,174.2 1494.3,182.6 1483,193.1 1471.6,206.1 1462,219.2Z" fill="#de0000"/>
<path d="M1463.9,216.4 1463.5,217.1 1466.6,217.7 1494.3,222 1515.5,224.5 1539.1,226.5 1559.3,227.5 1576.8,227.9 1592.1,227.6 1608.6,226.6 1622.6,225 1634.4,222.9 1646.2,219.8 1655.8,216.3 1663.2,212.3 1667.1,209.5 1669.4,207.3 1671.1,204.9 1672.4,202.5 1673,199.9 1673,197.3 1672,193.7 1670.1,190.5 1666.7,186.7 1662.4,183.4 1652,177.3 1632.8,168.8 1611.7,162.2 1593.3,158.3 1583.1,156.9 1574.4,156.3 1565.7,156.2 1556.8,156.7 1542.5,158.8 1529.7,162.4 1516.8,167.8 1505.6,174.2 1494.3,182.6 1483,193.1 1473.5,203.8 1463.9,216.4Z" fill="#d70000"/>
<path d="M1467.7,211.1 1465.9,213.7 1468,214 1493.6,217.9 1526.6,221.4 1547.9,222.8 1566.3,223.3 1585.9,223.2 1602.5,222.2 1616.6,220.7 1628.5,218.6 1640.4,215.6 1649.9,212.1 1657.2,208.2 1662.5,203.8 1664.3,201.5 1665.6,199.1 1666.3,194.7 1665.5,191.2 1663.8,188.2 1661.1,185 1657.7,182.1 1648.8,176.6 1635.7,170.7 1631.8,168.4 1611.7,162.2 1601.7,159.9 1591.6,158 1574.4,156.3 1565.7,156.2 1556.8,156.7 1544.3,158.4 1531.5,161.8 1520.5,166.1 1509.3,171.9 1498.1,179.6 1486.7,189.3 1477.3,199.3 1467.7,211.1Z" fill="#d00000"/>
<path d="M1469.7,208.6 1468.5,210.1 1483.6,212.6 1506.8,215.5 1530.7,217.6 1550.8,218.6 1568.1,218.9 1583.2,218.6 1599.4,217.6 1613.1,216 1624.7,213.9 1634.4,211.3 1643.8,207.9 1650,204.6 1655.5,200.4 1657.4,198.1 1658.7,195.7 1659.3,193.2 1659.3,191.2 1658.7,188.5 1656.9,185.3 1654.4,182.3 1651.2,179.6 1643.3,174.7 1631.5,169.3 1627.7,167 1608.4,161.4 1589.9,157.8 1572.7,156.2 1556.8,156.7 1544.3,158.4 1531.5,161.8 1520.5,166.1 1509.3,171.9 1498.1,179.6 1488.6,187.5 1479.2,197.1 1469.7,208.6Z" fill="#c90000"/>
<path d="M1471.6,206.1 1471.2,206.6 1473.3,207 1498.4,210.5 1517.7,212.4 1534.1,213.5 1565.6,214.4 1580.3,214 1596.1,212.9 1609.4,211.3 1620.6,209.1 1630,206.5 1637.7,203.6 1644.8,199.7 1649,196.1 1651.5,192.2 1652.1,189.7 1652.1,188 1651.4,185.2 1650.1,182.8 1647.9,180.2 1645.2,177.8 1638.6,173.4 1627.1,168 1623.4,165.6 1605.1,160.6 1588.2,157.5 1570.9,156.2 1555,156.8 1542.5,158.8 1531.5,161.8 1520.5,166.1 1509.3,171.9 1500,178.2 1490.5,185.8 1481.1,195.1 1471.6,206.1Z" fill="#c20000"/>
<path d="M1475.4,201.5 1474.1,203 1480.7,204.1 1503.4,206.9 1526.8,208.9 1546.2,209.7 1562.8,209.8 1577.2,209.4 1592.6,208.3 1603.1,206.9 1614.4,204.8 1623.7,202.3 1631.3,199.4 1637.3,196.1 1641.6,192.6 1644.1,188.7 1644.7,186.4 1644.6,184.5 1643.9,181.9 1642.6,179.7 1638.3,175.3 1632.7,171.6 1622.6,166.7 1619,164.3 1601.7,159.9 1584.8,157.1 1569.2,156.2 1555,156.8 1542.5,158.8 1531.5,161.8 1520.5,166.1 1511.2,170.8 1501.8,176.8 1492.4,184.2 1483,193.1 1475.4,201.5Z" fill="#bb0000"/>
<path d="M1477.3,199.3 1486.6,200.8 1501.2,202.5 1519.1,204.1 1534.4,204.9 1563.5,205.2 1577.1,204.6 1588.9,203.6 1599.1,202.2 1610,200 1617.3,197.9 1624.8,195.1 1630.6,191.8 1634,189 1636.5,185.2 1637,181.8 1636.4,179.5 1635.2,177.2 1631.1,172.9 1626.6,169.8 1617.8,165.4 1614.4,163 1598.4,159.2 1583.1,156.9 1569.2,156.2 1555,156.8 1544.3,158.4 1533.4,161.2 1522.3,165.2 1513.1,169.8 1503.7,175.5 1494.3,182.6 1484.9,191.2 1477.3,199.3Z" fill="#b40000"/>
<path d="M1481.1,195.1 1480.4,195.7 1498.4,198 1516.5,199.6 1531.6,200.4 1560.2,200.6 1573.5,199.9 1584.9,198.8 1594.8,197.4 1603.4,195.6 1610.6,193.6 1618.1,190.7 1622.7,188.2 1626.8,184.7 1628.6,181.6 1628.9,178.2 1627.6,174.8 1624.5,171.3 1620.2,168.1 1612.8,164.2 1609.5,161.7 1595,158.6 1579.6,156.6 1565.7,156.2 1553.2,157 1542.5,158.8 1533.4,161.2 1524.2,164.5 1514.9,168.8 1505.6,174.2 1498.1,179.6 1488.6,187.5 1481.1,195.1Z" fill="#a90000"/>
<path d="M1484.9,191.2 1484,192 1495.6,193.4 1513.4,195 1528.5,195.8 1556.6,195.9 1578.1,194.4 1588,193 1596.6,191.2 1603.8,189.2 1609.7,187 1614.5,184.5 1617.9,181.7 1620,178.7 1620.5,175.3 1619.2,171.8 1616.8,169 1612.9,166.1 1607.4,163 1604.4,160.5 1591.6,158 1577.9,156.5 1565.7,156.2 1553.2,157 1544.3,158.4 1535.2,160.6 1526,163.7 1516.8,167.8 1507.5,173.1 1500,178.2 1492.4,184.2 1484.9,191.2Z" fill="#9b0000"/>
<path d="M1488.6,187.5 1487.9,188.2 1502.4,189.8 1529.4,191.3 1552.7,191.2 1573.6,189.6 1589.5,186.8 1596.6,184.8 1602.4,182.5 1606.9,180 1609.4,177.9 1611.4,174.9 1611.7,172.1 1610.9,169.7 1608.7,166.8 1605.6,164.3 1601.7,161.9 1598.9,159.3 1586.5,157.3 1574.4,156.3 1563.9,156.2 1553.2,157 1544.3,158.4 1535.2,160.6 1526,163.7 1518.6,166.9 1511.2,170.8 1503.7,175.5 1496.2,181 1488.6,187.5Z" fill="#8e0000"/>
<path d="M1492.4,184.2 1510.9,185.9 1533.7,186.7 1551.6,186.3 1568.7,184.7 1582.1,182.3 1587.5,180.9 1593.4,178.6 1598,176.1 1600.4,174.1 1602,171.8 1602.4,169.3 1601.7,166.9 1600.2,164.7 1595.4,161 1593,158.3 1581.3,156.8 1570.9,156.2 1560.4,156.4 1551.5,157.3 1542.5,158.8 1535.2,160.6 1527.9,163 1520.5,166.1 1513.1,169.8 1505.6,174.2 1498.1,179.6 1492.4,184.2Z" fill="#810000"/>
<path d="M1498.1,179.6 1497.2,180.3 1504.9,180.9 1529,181.9 1546.7,181.4 1563.4,179.8 1576.1,177.3 1585.3,174 1588.6,172.2 1590.9,170.1 1592.3,167.8 1592.4,165.8 1591.5,163.4 1588.3,160.2 1586.5,157.3 1576.2,156.4 1567.4,156.2 1558.6,156.5 1549.7,157.5 1535.2,160.6 1522.3,165.2 1509.3,171.9 1498.1,179.6Z" fill="#730000"/>
<path d="M1503.7,175.5 1503,176 1510.2,176.4 1531.1,176.8 1547.1,176 1559.6,174.3 1569.4,172.1 1576.4,169.3 1579.1,167.5 1580.7,165.9 1581.5,164.4 1581.6,162.6 1580.1,159.6 1579.2,156.6 1563.9,156.2 1555,156.8 1547.9,157.8 1535.2,160.6 1524.2,164.5 1513.1,169.8 1503.7,175.5Z" fill="#660000"/>
<path d="M1511.2,170.8 1510.2,171.4 1516.3,171.6 1534.6,171.2 1545.7,170.2 1556.5,168.2 1562.9,166.2 1567.5,163.6 1569.3,161.4 1570.3,157.8 1570.4,156.2 1555,156.8 1546.1,158.1 1538.8,159.7 1531.5,161.8 1524.2,164.5 1511.2,170.8Z" fill="#590000"/>
<path d="M1718.2,428.3 1751.3,431.2M1892.2,360.2 1891.4,353.7 1891.3,348.7 1890.7,344 1889.4,338.2 1887.8,333.4 1885.2,327.6 1881.8,321.4 1877.4,314.7 1871.3,306.7 1870,302.5M1681.7,394 1711.3,396.5 1736.7,397.4 1758.2,397.2 1769.5,396.5 1779.9,395.4M1848.5,362 1851.8,356.7 1856.1,348.3 1859.4,340 1860.6,334.7 1861.2,330.4 1861.2,324.9 1860.6,320.5 1859.5,316 1857.9,311.4 1855.8,306.7 1853.1,302 1849.2,296.3 1845.2,291.2 1834.1,278.9 1832.4,274.8M1644.8,360.3 1674.8,362.9 1700.2,363.9 1713.6,364 1725.6,363.6 1736.5,362.9 1746.4,361.9 1755.3,360.6 1765.9,358.4 1772.9,356.6 1781.3,353.9 1788.6,350.9 1795.1,347.7 1800.8,344.4 1807.1,340.1 1812.5,335.6 1818,330 1822.5,324.3 1825.4,319.5 1827.8,314.2 1829.4,308.5 1829.9,302.9 1829.5,297.3 1828.3,292.2 1826.4,287 1823.4,281.3 1819.5,275.7 1814.9,269.9 1809.8,264.5 1803.5,258.5 1795.3,251.3 1792.6,247.2M1605.8,326.5 1637,329.5 1653.3,330.6 1668,331.1 1693.3,330.9 1714,329.3 1722.9,328.1 1733.5,326.1 1742.9,323.9 1751.1,321.3 1758.4,318.6 1766.4,314.8 1773.3,310.9 1779.3,306.8 1784.3,302.5 1789.2,297.2 1793,291.7 1795.3,287 1796.8,281.9 1797.2,276.3 1796.6,271.1 1795,265.8 1792.4,260.3 1789.1,255.4 1784.6,249.9 1779,244.2 1767.5,234.6 1759.5,228.9 1750.2,222.8 1744.5,218.2M1564.1,292.7 1596.8,296.2 1613.8,297.5 1629.3,298.3 1655.7,298.6 1667.1,298.2 1680.6,297.2 1692.5,295.7 1702.9,293.9 1712.1,291.8 1720.3,289.4 1729.2,286.1 1736.9,282.6 1743.4,278.8 1749,274.9 1753.6,270.8 1757.9,265.7 1760.7,260.7 1762.2,255.7 1762.6,251 1761.9,246 1760.1,240.9 1757,235.6 1752.8,230.4 1747.9,225.6 1741.7,220.5 1734.5,215.5 1719.2,206.6 1690.9,192.4M1519,258.8 1553.7,262.9 1582.7,265.2 1607.1,266.2 1631.6,266 1642.1,265.5 1654.6,264.4 1663,263.3 1673,261.5 1681.9,259.5 1689.7,257.2 1696.6,254.7 1704,251.4 1710.2,247.8 1715.4,244.1 1719.4,240.1 1722.8,235.4 1724.5,230.8 1725,226.7 1724.4,222.4 1722.5,217.7 1719.4,213.2 1715.3,208.8 1709.9,204.3 1704,200.3 1697.6,196.5 1690.7,193 1671,184.5 1666.7,182.3M1460.2,222 1490,226.9 1519.1,230.5 1548.4,232.9 1572.8,234 1597,233.9 1616.9,232.7 1635.7,230.2 1650.6,226.8 1657.7,224.6 1665.2,221.5 1671.4,218.2 1675.3,215.3 1679.1,211.5 1681.1,208.3 1682.1,204.9 1682.1,201.3 1681,197.6 1679,194.3 1675.6,190.6 1671.4,187.1 1666.5,183.9 1661.1,181 1654.1,177.7 1645.2,174.1 1641.2,171.8M1479.8,196.5 1493.5,198.3 1512.6,200.2 1533.2,201.4 1550.4,201.7 1565.1,201.4 1580.8,200.3 1593.8,198.7 1606.6,196 1616.7,192.8 1620.7,191 1624.1,189.1 1626.8,187 1628.8,184.8 1629.9,182.9 1630.5,180.8 1630.6,179.1 1629.8,176.6 1628.5,174.4 1626.6,172.3 1622,168.7 1613.8,164.4 1610.5,161.9" fill="none" stroke="#1a0c00" stroke-opacity="0.36" stroke-width="0.9"/>
<path d="M1480.4,217.7 1486.7,209.6 1499.2,195.9 1511.7,185.2 1524,177 1536.3,170.9 1548.4,166.6 1560.3,163.8 1572.1,162.4 1583.7,162 1600.8,163.2 1611.9,165 1628.3,168.9 1639,172.1 1654.7,177.7 1704.3,198.7M1480.9,206.5 1504.3,220 1528.5,235.9 1559.6,258.2 1598.2,287.9 1631.6,315.2 1659,338.7 1694.3,370.4 1745.6,417.7M1486.2,221 1492.5,212.9 1505.1,199.1 1517.5,188.3 1529.9,180 1542.1,173.9 1554.2,169.5 1566.1,166.7 1577.9,165.1 1589.5,164.7 1606.5,165.7 1617.7,167.4 1634,171.2 1650,176.2 1665.5,182 1709.8,201.4M1487.1,199.3 1510.6,212.6 1534.7,228.4 1565.8,250.5 1604.5,280 1637.8,307.1 1672.2,336.5 1700.5,361.9 1751.8,408.9M1492.1,224.5 1498.4,216.4 1510.9,202.5 1523.4,191.6 1535.8,183.3 1548,177 1560.1,172.6 1572,169.6 1583.7,168 1595.3,167.4 1612.3,168.4 1623.4,170 1639.8,173.7 1655.7,178.6 1671.2,184.5 1715.4,204.1M1493.4,192.9 1516.9,206.1 1541,221.7 1572.1,243.6 1610.7,272.9 1644,299.8 1678.4,329.2 1706.7,354.4 1757.9,401.2M1498,228.2 1504.3,220 1516.9,206.1 1529.3,195.1 1541.7,186.7 1553.9,180.3 1566,175.8 1577.9,172.8 1589.6,171 1601.2,170.4 1618.1,171.2 1629.3,172.7 1645.6,176.3 1661.5,181.1 1677,187 1721.1,207M1499.7,187.2 1523.1,200.3 1547.2,215.7 1578.3,237.4 1616.9,266.6 1650.2,293.4 1684.5,322.6 1712.8,347.7 1763.9,394.4M1504,232 1510.3,223.8 1522.8,209.8 1535.3,198.7 1547.6,190.2 1559.8,183.8 1571.9,179.2 1583.8,176 1595.5,174.2 1607,173.4 1624,174.1 1635.1,175.5 1651.4,179 1667.3,183.8 1682.7,189.6 1697.8,196.2 1726.7,209.9M1505.9,182.2 1529.3,195.1 1559.6,214.5 1590.8,236.6 1623.1,261 1656.3,287.7 1690.6,316.8 1718.8,341.8 1769.9,388.4M1510,236 1516.3,227.7 1528.9,213.6 1541.3,202.5 1553.6,193.9 1565.8,187.4 1577.9,182.7 1589.8,179.4 1601.5,177.5 1613,176.7 1629.9,177.2 1646.5,179.5 1662.6,183.3 1678.3,188.4 1693.6,194.5 1732.4,212.9M1512.1,177.9 1535.5,190.6 1565.7,209.8 1597,231.7 1629.2,256 1662.4,282.6 1696.7,311.6 1724.8,336.6 1775.8,383.1M1516.1,240.1 1522.4,231.7 1534.9,217.6 1547.4,206.4 1559.7,197.7 1571.9,191.1 1583.9,186.3 1595.8,183 1607.4,180.9 1619,180 1635.9,180.4 1652.4,182.6 1668.5,186.3 1684.1,191.4 1699.4,197.5 1738.1,216M1518.2,174.1 1541.7,186.7 1571.9,205.7 1603.1,227.4 1635.3,251.6 1668.4,278.1 1702.6,307.1 1737.9,338.4 1781.6,378.4M1522.2,244.3 1528.5,235.9 1541,221.7 1553.4,210.4 1565.8,201.6 1577.9,195 1590,190.1 1601.8,186.6 1613.5,184.5 1625,183.5 1641.8,183.7 1658.3,185.8 1674.4,189.4 1690,194.4 1705.2,200.5 1743.9,219.1M1524.4,170.8 1547.8,183.3 1578,202.1 1609.1,223.7 1641.3,247.7 1674.4,274.2 1708.6,303.1 1743.8,334.4 1787.4,374.4M1528.3,248.6 1534.6,240.2 1547.1,225.8 1559.6,214.5 1571.9,205.7 1584,198.9 1596,193.9 1607.9,190.4 1625.3,187.5 1636.7,186.9 1653.4,187.7 1664.3,189.1 1680.3,192.7 1695.9,197.6 1711.1,203.7 1725.9,210.5 1749.7,222.4M1530.5,168.1 1553.9,180.3 1584,198.9 1615.2,220.4 1647.3,244.3 1680.4,270.7 1714.5,299.5 1749.6,330.8 1793.1,370.8M1534.5,253 1540.8,244.5 1553.3,230.1 1565.7,218.7 1578,209.8 1590.2,203 1602.2,197.9 1614,194.4 1631.4,191.3 1642.7,190.6 1659.4,191.2 1670.3,192.6 1686.3,196.1 1701.9,201 1717,207 1731.8,213.8 1755.5,225.8M1536.6,165.8 1559.9,177.9 1590.1,196.2 1621.2,217.5 1653.2,241.3 1686.3,267.6 1720.3,296.5 1755.4,327.7 1798.8,367.7M1540.7,257.6 1547,249 1559.5,234.5 1572,223 1584.2,214.1 1596.4,207.2 1608.4,202 1620.2,198.4 1637.5,195.2 1648.9,194.4 1665.5,194.9 1676.4,196.3 1692.3,199.6 1707.9,204.4 1723,210.4 1737.7,217.3 1761.3,229.3M1542.6,163.9 1566,175.8 1596,193.9 1627.1,215 1659.1,238.7 1692.1,265 1726.1,293.7 1761.1,324.9 1804.4,365M1547,262.2 1553.3,253.6 1565.8,239 1578.2,227.5 1590.5,218.4 1602.6,211.5 1614.6,206.3 1626.3,202.5 1643.7,199.3 1655,198.4 1671.6,198.8 1682.5,200 1698.4,203.3 1713.9,208 1729,214 1743.6,220.8 1767.2,232.9M1548.6,162.4 1571.9,174.1 1602,192 1633,212.9 1665,236.5 1697.9,262.7 1731.8,291.4 1766.7,322.5 1810,362.6M1553.3,266.9 1559.6,258.2 1572.1,243.6 1584.5,232 1596.8,222.9 1608.9,215.9 1620.8,210.6 1632.6,206.8 1649.9,203.4 1661.2,202.5 1677.8,202.7 1693.9,204.8 1709.7,208.5 1719.9,211.8 1735,217.7 1749.6,224.5 1773.1,236.6M1554.5,161.2 1577.9,172.8 1607.9,190.4 1638.8,211.2 1670.8,234.6 1703.7,260.7 1737.5,289.4 1772.3,320.5 1815.5,360.5M1559.6,271.6 1565.9,263 1578.4,248.3 1590.8,236.6 1603.1,227.4 1615.2,220.4 1627.1,215 1638.8,211.2 1656.1,207.7 1667.4,206.7 1684,206.8 1700.1,208.8 1715.8,212.4 1726,215.6 1741,221.5 1755.6,228.3 1779,240.4M1560.5,160.4 1583.8,171.7 1613.7,189.2 1644.7,209.7 1676.5,233.1 1709.3,259 1743.1,287.6 1777.9,318.7 1820.9,358.7M1566,276.5 1572.3,267.8 1584.8,253 1597.2,241.3 1609.4,232.1 1621.5,225 1633.4,219.6 1645.2,215.7 1662.4,212.1 1673.7,211 1690.2,211 1706.3,212.9 1721.9,216.5 1732.1,219.6 1747.1,225.4 1761.6,232.2 1785,244.3M1566.3,159.8 1589.6,171 1619.5,188.2 1650.4,208.6 1682.2,231.8 1715,257.7 1748.7,286.2 1783.4,317.1 1826.3,357.2M1572.4,281.5 1578.7,272.7 1591.2,257.9 1603.6,246.1 1615.8,236.8 1627.9,229.6 1639.8,224.2 1651.5,220.2 1668.7,216.6 1679.9,215.4 1696.4,215.4 1712.5,217.2 1728.1,220.6 1738.3,223.8 1753.2,229.5 1767.7,236.3 1791,248.3M1572.2,159.6 1595.4,170.6 1625.3,187.5 1656.1,207.7 1687.9,230.7 1720.6,256.5 1754.2,284.9 1788.8,315.9 1831.7,355.9M1578.9,286.5 1585.2,277.7 1597.7,262.8 1610,250.9 1622.3,241.6 1634.3,234.4 1646.2,229 1657.9,224.9 1675.1,221.2 1686.3,220 1702.7,219.8 1718.8,221.6 1734.3,224.9 1744.5,228 1759.4,233.7 1773.8,240.4 1797,252.4M1577.9,159.6 1601.2,170.4 1613,176.7 1631,187.1 1661.8,207.1 1693.5,230 1726.1,255.6 1759.7,284 1794.2,314.8 1836.9,354.8M1585.4,291.6 1591.7,282.8 1604.2,267.8 1616.5,255.9 1628.7,246.6 1640.8,239.3 1652.6,233.8 1664.3,229.7 1681.5,225.9 1692.6,224.6 1709.1,224.4 1725,226.1 1740.6,229.3 1750.7,232.4 1765.5,238 1779.9,244.7 1803.1,256.6M1583.7,159.8 1606.9,170.4 1618.7,176.6 1636.7,186.9 1667.4,206.7 1699,229.4 1731.6,255 1765.1,283.2 1799.6,314 1842.2,353.9M1591.9,296.8 1598.2,287.9 1610.7,272.9 1623.1,261 1635.3,251.6 1647.3,244.3 1659.1,238.7 1670.8,234.6 1687.9,230.7 1699,229.4 1715.4,229.1 1731.4,230.7 1746.9,233.9 1757,236.9 1771.7,242.5 1786.1,249.1 1809.2,260.9M1589.4,160.2 1612.5,170.7 1624.3,176.8 1642.3,186.9 1673,206.5 1704.6,229.1 1737.1,254.6 1770.5,282.7 1804.8,313.3 1847.3,353.2M1598.5,302.1 1604.8,293.2 1617.3,278.1 1629.6,266.1 1641.8,256.7 1653.8,249.4 1665.6,243.8 1677.3,239.6 1694.3,235.7 1705.5,234.3 1721.8,233.9 1737.7,235.4 1753.2,238.5 1763.2,241.5 1778,247 1792.3,253.5 1815.3,265.2M1595,160.9 1618.1,171.2 1629.9,177.2 1647.9,187.2 1678.5,206.6 1710,229 1742.5,254.3 1775.8,282.4 1810.1,312.9 1852.4,352.7M1605.1,307.5 1611.4,298.5 1623.9,283.4 1636.2,271.4 1648.4,261.9 1660.4,254.6 1672.2,248.9 1683.8,244.8 1700.9,240.7 1712,239.3 1728.3,238.9 1744.1,240.3 1759.5,243.3 1769.6,246.2 1784.3,251.6 1798.5,258.1 1821.4,269.7M1600.6,161.7 1623.7,171.8 1635.5,177.8 1653.4,187.7 1684,206.8 1715.4,229.1 1747.8,254.3 1781.1,282.2 1815.3,312.6 1857.5,352.3M1611.8,313 1618.1,304 1630.6,288.8 1642.9,276.7 1655,267.2 1667,259.8 1678.8,254.2 1690.4,250 1707.4,245.9 1718.5,244.4 1734.7,243.9 1750.6,245.2 1765.9,248.2 1775.9,251 1790.6,256.4 1804.8,262.8 1827.6,274.2M1606.2,162.7 1629.3,172.7 1641,178.5 1658.9,188.3 1689.4,207.3 1720.8,229.4 1753.1,254.5 1786.3,282.3 1827.3,318.9 1862.5,352.1M1618.5,318.6 1624.8,309.5 1637.3,294.2 1649.6,282.1 1661.7,272.6 1673.7,265.2 1685.4,259.5 1697,255.3 1714,251.2 1725,249.7 1741.3,249.1 1757,250.3 1772.3,253.2 1782.3,256 1796.9,261.2 1811.1,267.5 1833.8,278.7M1611.7,163.9 1634.7,173.7 1646.5,179.5 1664.3,189.1 1694.8,208 1726.1,230 1758.3,254.9 1791.4,282.5 1832.4,319 1867.5,352.1M1625.3,324.2 1631.6,315.2 1644,299.8 1656.3,287.7 1668.4,278.1 1680.4,270.7 1692.1,265 1703.7,260.7 1720.6,256.5 1731.6,255 1747.8,254.3 1763.5,255.5 1778.8,258.3 1788.7,261 1803.3,266.2 1817.4,272.4 1840.1,283.3M1617.2,165.2 1634.4,172.3 1646,177.7 1669.7,190.2 1700.1,208.8 1731.4,230.7 1763.5,255.5 1796.6,283 1837.4,319.2 1872.4,352.2M1632.1,330 1638.4,320.9 1650.8,305.5 1663.1,293.3 1675.2,283.7 1687.1,276.3 1698.8,270.5 1710.3,266.2 1727.2,262 1738.2,260.4 1754.4,259.7 1770.1,260.8 1785.3,263.5 1795.2,266.1 1809.7,271.2 1823.8,277.3 1846.4,288M1622.6,166.7 1639.8,173.7 1651.4,179 1675,191.4 1705.4,209.8 1736.6,231.6 1768.7,256.2 1801.6,283.6 1842.3,319.6 1877.2,352.4M1638.9,335.9 1645.2,326.7 1657.6,311.3 1669.9,299 1682,289.4 1693.9,281.9 1705.6,276.2 1717.1,271.9 1733.9,267.6 1744.9,266 1761,265.2 1776.6,266.2 1791.8,268.8 1801.7,271.4 1816.1,276.3 1830.2,282.3 1852.7,292.7M1628,168.2 1645.1,175.2 1656.7,180.5 1680.3,192.7 1710.6,211 1741.7,232.6 1773.8,257.2 1806.6,284.3 1847.2,320.1 1882,352.7M1645.8,341.9 1652.1,332.7 1664.5,317.1 1676.8,304.8 1688.8,295.2 1700.7,287.7 1712.4,281.9 1723.8,277.6 1740.7,273.3 1751.6,271.6 1767.7,270.8 1783.2,271.7 1798.4,274.2 1808.2,276.7 1822.6,281.6 1859,297.4M1633.3,169.9 1650.4,176.8 1662,182.1 1685.6,194.2 1715.8,212.4 1746.9,233.9 1778.8,258.3 1811.6,285.3 1852.1,320.8 1886.8,353.2M1652.8,348 1659,338.7 1671.4,323.1 1683.7,310.8 1695.7,301.1 1707.6,293.6 1719.2,287.8 1730.7,283.4 1747.4,279.1 1758.3,277.4 1774.3,276.4 1784.8,276.8 1800,278.7 1814.8,282.1 1829.1,286.9 1865.4,302.2M1638.6,171.7 1655.7,178.6 1667.3,183.8 1690.8,195.8 1720.9,213.9 1751.9,235.3 1783.8,259.6 1816.5,286.4 1856.9,321.7 1891.5,353.8M1659.7,354.2 1666,344.8 1678.4,329.2 1684.5,322.6 1696.7,311.6 1708.6,303.1 1720.3,296.5 1731.8,291.4 1748.7,286.2 1759.7,284 1775.8,282.4 1791.4,282.5 1806.6,284.3 1816.5,286.4 1830.9,290.6 1845,295.8 1871.8,307.1M1643.9,173.6 1660.9,180.4 1672.5,185.6 1695.9,197.6 1719.9,211.8 1750.7,232.4 1782.3,256 1821.4,287.6 1861.6,322.6 1896.2,354.5M1666.8,360.4 1673,351.1 1685.4,335.3 1691.5,328.7 1703.6,317.7 1715.5,309.2 1727.2,302.5 1738.7,297.4 1755.6,292.2 1766.5,289.9 1782.6,288.3 1798.2,288.4 1813.3,290.1 1823.1,292 1837.5,296.1 1851.5,301.2 1878.2,312M1649.1,175.5 1677.6,187.6 1701,199.5 1725,213.6 1755.7,234.1 1787.2,257.6 1826.2,289 1866.3,323.7 1900.8,355.3M1673.8,366.8 1680.1,357.4 1692.4,341.6 1698.6,335 1710.7,323.9 1722.5,315.3 1734.2,308.7 1745.7,303.6 1762.5,298.3 1773.4,296 1789.4,294.3 1804.9,294.3 1820,295.9 1829.8,297.8 1844.2,301.7 1884.7,316.9M1654.2,177.5 1682.7,189.6 1706.1,201.5 1730,215.6 1760.6,236 1792.1,259.3 1830.9,290.6 1871,324.9 1905.3,356.2M1680.9,373.3 1687.2,363.8 1699.5,347.9 1705.6,341.3 1717.7,330.2 1729.6,321.6 1741.2,314.9 1752.7,309.8 1769.4,304.5 1780.3,302.2 1796.3,300.4 1811.7,300.3 1826.8,301.8 1836.5,303.6 1850.8,307.4 1891.2,321.9M1659.4,179.6 1687.8,191.8 1711.1,203.7 1735,217.7 1765.5,238 1796.9,261.2 1835.7,292.2 1875.6,326.2 1909.8,357.1M1688.1,379.9 1694.3,370.4 1706.7,354.4 1712.8,347.7 1724.8,336.6 1736.7,327.9 1748.3,321.2 1759.7,316.1 1776.4,310.8 1787.2,308.5 1803.1,306.6 1818.6,306.4 1833.6,307.8 1843.3,309.5 1857.5,313.1 1897.8,326.9M1664.4,181.7 1692.8,194 1716.1,205.9 1739.9,219.9 1770.4,240.2 1801.7,263.2 1840.3,294 1880.2,327.6 1914.3,358.1M1695.3,386.5 1701.5,377 1713.9,360.9 1719.9,354.2 1732,343.1 1743.8,334.4 1755.4,327.7 1766.7,322.5 1783.4,317.1 1794.2,314.8 1810.1,312.9 1825.5,312.7 1840.4,313.9 1850.1,315.6 1864.2,319 1904.3,331.9M1669.5,183.8 1697.8,196.2 1721,208.2 1744.8,222.2 1775.2,242.4 1806.4,265.4 1845,295.8 1884.7,329 1918.7,359.1M1702.5,393.3 1708.8,383.6 1721.1,367.5 1727.2,360.8 1739.2,349.6 1750.9,340.9 1762.5,334.2 1773.8,329 1790.5,323.6 1801.2,321.3 1817,319.3 1827.3,318.9 1842.3,319.6 1852.1,320.8 1866.3,323.7 1911,337M1674.4,185.9 1702.7,198.5 1725.9,210.5 1749.6,224.5 1779.9,244.7 1811.1,267.5 1849.5,297.7 1889.2,330.5 1923.1,360.1M1709.8,400.1 1716,390.4 1728.3,374.1 1734.4,367.4 1746.4,356.2 1758.1,347.5 1769.7,340.7 1781,335.6 1797.5,330.2 1808.3,327.8 1824,325.8 1834.3,325.4 1849.2,325.9 1859,327.1 1873.2,329.8 1909,340.1 1917.6,342.2M1679.4,188.1 1707.6,200.8 1730.7,212.9 1754.4,226.9 1784.7,247.1 1815.7,269.8 1854.1,299.6 1893.6,331.9 1927.5,361.1M1717.2,406.9 1723.4,397.1 1735.7,380.8 1741.7,374.1 1753.7,362.8 1765.4,354.1 1776.9,347.4 1788.2,342.2 1799.2,338.4 1810.1,335.5 1825.9,332.9 1841.3,331.9 1856.2,332.4 1865.9,333.5 1880,336.1 1915.7,345.6 1924.3,347.4M1684.3,190.1 1712.4,203.1 1735.5,215.3 1759.1,229.4 1789.3,249.5 1820.3,272 1858.6,301.6 1898,333.4 1931.8,361.9M1724.5,413.8 1730.7,404 1743,387.6 1749.1,380.8 1761,369.6 1772.7,360.8 1784.2,354.1 1795.4,349 1806.4,345.1 1817.2,342.2 1833,339.6 1848.3,338.5 1863.2,338.9 1872.8,339.9 1886.9,342.4 1918.2,350.2 1931,352.7M1689.1,192.2 1717.2,205.4 1740.3,217.7 1763.8,231.8 1787.9,247.7 1818.6,269.7 1856.6,298.5 1902.3,334.7 1936.1,362.7M1732,420.7 1738.2,410.8 1750.4,394.4 1756.4,387.6 1768.4,376.3 1780,367.6 1791.5,360.9 1802.7,355.7 1813.7,351.9 1824.4,349 1840.1,346.4 1850.4,345.5 1865.3,345.4 1875,346 1889.2,347.9 1925,356 1937.7,358.1M1694,194.1 1722,207.7 1745,220.1 1768.5,234.2 1792.5,250.1 1823.1,271.9 1861,300.4 1906.7,335.9 1940.3,363.3" fill="none" stroke="#302000" stroke-opacity="0.07" stroke-width="0.7"/>
</g></g>
<g id="axes-c"><path d="M1481.1,384.7 1468.1,46.3M1481.1,384.7 1739,481.2M1739,481.2 1944.2,370.8M1479.9,352.6 h-5M1478,303.8 h-5M1476.1,254.2 h-5M1474.1,203.6 h-5M1472.2,152.1 h-5M1470.2,99.7 h-5M1468.1,46.3 h-5M1503.7,393.1 1507,391.8M1526.9,401.8 1528.9,401M1550.8,410.8 1554.1,409.4M1575.4,420 1577.3,419.1M1600.6,429.4 1603.9,428M1626.7,439.2 1628.6,438.3M1653.5,449.2 1656.7,447.7M1681.1,459.6 1683,458.6M1709.6,470.2 1712.8,468.6M1739,481.2 1740.9,480.2M1739,481.2 1735.4,479.9M1768.8,465.2 1766.6,464.4M1797.2,449.9 1793.7,448.7M1824.4,435.3 1822.3,434.5M1850.4,421.3 1847,420.1M1875.4,407.8 1873.3,407.2M1899.3,395 1895.9,394M1922.2,382.7 1920.2,382.1M1944.2,370.8 1940.9,369.9" fill="none" stroke="#1a1a1a" stroke-width="1.4" stroke-linecap="square"/></g>
<g id="labels-c"><text transform="matrix(0.9468 -0.3506 0.0519 1.1704 1424.73 381.33)" font-family="Liberation Sans, Arial, sans-serif" font-size="20" text-anchor="start" fill="#000">0.057</text>
<text transform="matrix(0.9566 -0.3239 0.0528 1.1916 1422.29 331.11)" font-family="Liberation Sans, Arial, sans-serif" font-size="20" text-anchor="start" fill="#000">0.060</text>
<text transform="matrix(0.9667 -0.296 0.0538 1.2134 1419.8 279.96)" font-family="Liberation Sans, Arial, sans-serif" font-size="20" text-anchor="start" fill="#000">0.063</text>
<text transform="matrix(0.977 -0.2671 0.0548 1.2358 1417.26 227.86)" font-family="Liberation Sans, Arial, sans-serif" font-size="20" text-anchor="start" fill="#000">0.066</text>
<text transform="matrix(0.9875 -0.2371 0.0558 1.2588 1414.68 174.78)" font-family="Liberation Sans, Arial, sans-serif" font-size="20" text-anchor="start" fill="#000">0.069</text>
<text transform="matrix(0.9982 -0.2059 0.0569 1.2825 1412.05 120.68)" font-family="Liberation Sans, Arial, sans-serif" font-size="20" text-anchor="start" fill="#000">0.072</text>
<text transform="matrix(1.0092 -0.1735 0.058 1.3069 1409.36 65.55)" font-family="Liberation Sans, Arial, sans-serif" font-size="20" text-anchor="start" fill="#000">0.075</text>
<text transform="matrix(0.0757 1.4424 -1.1674 0.2854 1387.48 59.86)" font-family="Liberation Sans, Arial, sans-serif" font-size="20" text-anchor="start" fill="#000">Percentage</text>
<text transform="matrix(0.0744 1.4186 -1.156 0.3166 1395.64 215.42)" font-family="Liberation Sans, Arial, sans-serif" font-size="20" text-anchor="start" fill="#000">of</text>
<text transform="matrix(0.0735 1.4008 -1.1474 0.3394 1397.29 246.96)" font-family="Liberation Sans, Arial, sans-serif" font-size="20" text-anchor="start" fill="#000">capacity</text>
<text transform="matrix(0.0724 1.3805 -1.1375 0.365 1403.09 357.51)" font-family="Liberation Sans, Arial, sans-serif" font-size="20" text-anchor="start" fill="#000">loss</text>
<text transform="matrix(0.0863 1.4924 -1.2231 0.2627 1356.69 65.75)" font-family="Liberation Sans, Arial, sans-serif" font-size="20" text-anchor="start" fill="#000">per</text>
<text transform="matrix(0.0849 1.4686 -1.2115 0.294 1359.67 117.18)" font-family="Liberation Sans, Arial, sans-serif" font-size="20" text-anchor="start" fill="#000">kilometer</text>
<text transform="matrix(0.0832 1.4397 -1.1971 0.3314 1367.03 244.49)" font-family="Liberation Sans, Arial, sans-serif" font-size="20" text-anchor="start" fill="#000">(%/km)</text>
<text transform="matrix(0.844 -0.3378 0.825 0.3134 1493.06 401.91)" font-family="Liberation Sans, Arial, sans-serif" font-size="20" text-anchor="start" fill="#000">6</text>
<text transform="matrix(0.8413 -0.3577 0.8729 0.3316 1540.55 420.06)" font-family="Liberation Sans, Arial, sans-serif" font-size="20" text-anchor="start" fill="#000">8</text>
<text transform="matrix(0.8422 -0.3819 0.9257 0.3538 1581.47 443.54)" font-family="Liberation Sans, Arial, sans-serif" font-size="20" text-anchor="start" fill="#000">10</text>
<text transform="matrix(0.8357 -0.4058 0.983 0.3757 1634.91 464.2)" font-family="Liberation Sans, Arial, sans-serif" font-size="20" text-anchor="start" fill="#000">12</text>
<text transform="matrix(0.8267 -0.4321 1.0458 0.3996 1691.73 486.17)" font-family="Liberation Sans, Arial, sans-serif" font-size="20" text-anchor="start" fill="#000">14</text>
<text transform="matrix(1.1027 0.4162 -0.8741 0.4893 1741.51 487.88)" font-family="Liberation Sans, Arial, sans-serif" font-size="20" text-anchor="start" fill="#000">0.42</text>
<text transform="matrix(1.0838 0.3792 -0.7954 0.4453 1800.19 455.96)" font-family="Liberation Sans, Arial, sans-serif" font-size="20" text-anchor="start" fill="#000">0.39</text>
<text transform="matrix(1.0639 0.3469 -0.727 0.4069 1853.75 426.82)" font-family="Liberation Sans, Arial, sans-serif" font-size="20" text-anchor="start" fill="#000">0.36</text>
<text transform="matrix(1.0435 0.3186 -0.667 0.3733 1902.84 400.11)" font-family="Liberation Sans, Arial, sans-serif" font-size="20" text-anchor="start" fill="#000">0.33</text>
<text transform="matrix(1.0228 0.2937 -0.6141 0.3437 1948 375.55)" font-family="Liberation Sans, Arial, sans-serif" font-size="20" text-anchor="start" fill="#000">0.30</text>
<text transform="matrix(1.078 0.4326 -1.0461 0.4801 1529.78 448.27)" font-family="Liberation Sans, Arial, sans-serif" font-size="20" text-anchor="start" fill="#000">Time</text>
<text transform="matrix(1.105 0.4434 -1.0436 0.4922 1582.88 469.58)" font-family="Liberation Sans, Arial, sans-serif" font-size="20" text-anchor="start" fill="#000">(s)</text>
<text transform="matrix(0.8668 -0.5183 1.2239 0.417 1841.85 497.08)" font-family="Liberation Sans, Arial, sans-serif" font-size="20" text-anchor="start" fill="#000">Acceleration</text>
<text transform="matrix(0.7676 -0.4589 1.1895 0.3698 1941.86 437.29)" font-family="Liberation Sans, Arial, sans-serif" font-size="20" text-anchor="start" fill="#000">(m/s<tspan font-size="12.4" dy="-8">2</tspan><tspan dy="8">)</tspan></text></g>
</g>
<text font-family="Liberation Serif, Noto Serif CJK SC, serif" fill="#000"><tspan x="358.7" y="561.6" font-size="42" textLength="44.52" lengthAdjust="spacingAndGlyphs">(a)</tspan> <tspan x="433.6" y="559.8" font-size="37.5" font-style="italic">a</tspan><tspan x="450.5" y="570.4" font-size="21.6" textLength="9.18" lengthAdjust="spacingAndGlyphs">1</tspan> <tspan x="470.3" y="563.1" font-size="37.5" textLength="22.84" lengthAdjust="spacingAndGlyphs">=</tspan> <tspan x="500.8" y="559.8" font-size="37.5" textLength="43.36" lengthAdjust="spacingAndGlyphs">0.5</tspan><tspan x="546.1" y="559.8" font-size="37.5" font-style="italic">m</tspan> <tspan x="579.8" y="559.8" font-size="37.5">/</tspan> <tspan x="598.7" y="559.8" font-size="37.5" font-style="italic">s</tspan><tspan x="615.7" y="542" font-size="21.6" textLength="10.26" lengthAdjust="spacingAndGlyphs">2</tspan><tspan x="630.3" y="559.8" font-size="37.5">;</tspan> <tspan x="649.1" y="559.8" font-size="37.5" font-style="italic">t</tspan><tspan x="658.6" y="570.4" font-size="21.6" textLength="9.18" lengthAdjust="spacingAndGlyphs">1</tspan> <tspan x="677.2" y="563.1" font-size="37.5" textLength="22.84" lengthAdjust="spacingAndGlyphs">=</tspan> <tspan x="705.8" y="559.8" font-size="37.5">5</tspan><tspan x="725.4" y="559.8" font-size="37.5" font-style="italic">s</tspan></text>
<text font-family="Liberation Serif, Noto Serif CJK SC, serif" fill="#000"><tspan x="766" y="558.5" font-size="36" textLength="41.4" lengthAdjust="spacingAndGlyphs">（</tspan><tspan x="810.3" y="561.6" font-size="42">b</tspan><tspan x="834.7" y="558.5" font-size="36" textLength="41.4" lengthAdjust="spacingAndGlyphs">）</tspan> <tspan x="882" y="559.8" font-size="37.5" font-style="italic">a</tspan><tspan x="898.9" y="570.4" font-size="21.6" textLength="9.18" lengthAdjust="spacingAndGlyphs">1</tspan> <tspan x="918.7" y="563.1" font-size="37.5" textLength="22.84" lengthAdjust="spacingAndGlyphs">=</tspan> <tspan x="949.2" y="559.8" font-size="37.5" textLength="43.36" lengthAdjust="spacingAndGlyphs">0.7</tspan><tspan x="994.5" y="559.8" font-size="37.5" font-style="italic">m</tspan> <tspan x="1028.2" y="559.8" font-size="37.5">/</tspan> <tspan x="1047.1" y="559.8" font-size="37.5" font-style="italic">s</tspan><tspan x="1064.1" y="542" font-size="21.6" textLength="10.26" lengthAdjust="spacingAndGlyphs">2</tspan><tspan x="1078.7" y="559.8" font-size="37.5">;</tspan> <tspan x="1097.5" y="559.8" font-size="37.5" font-style="italic">t</tspan><tspan x="1107" y="570.4" font-size="21.6" textLength="9.18" lengthAdjust="spacingAndGlyphs">1</tspan> <tspan x="1125.6" y="563.1" font-size="37.5" textLength="22.84" lengthAdjust="spacingAndGlyphs">=</tspan> <tspan x="1154.2" y="559.8" font-size="37.5">5</tspan><tspan x="1173.8" y="559.8" font-size="37.5" font-style="italic">s</tspan></text>
<text font-family="Liberation Serif, Noto Serif CJK SC, serif" fill="#000"><tspan x="1217.5" y="558.5" font-size="36" textLength="41.4" lengthAdjust="spacingAndGlyphs">（</tspan><tspan x="1262.6" y="561.6" font-size="42" font-weight="bold">c</tspan><tspan x="1283.6" y="558.5" font-size="36" textLength="41.4" lengthAdjust="spacingAndGlyphs">）</tspan> <tspan x="1331.7" y="559.8" font-size="37.5" font-style="italic">a</tspan><tspan x="1348.6" y="570.4" font-size="21.6" textLength="9.18" lengthAdjust="spacingAndGlyphs">1</tspan> <tspan x="1368.4" y="563.1" font-size="37.5" textLength="22.84" lengthAdjust="spacingAndGlyphs">=</tspan> <tspan x="1398.9" y="559.8" font-size="37.5" textLength="43.36" lengthAdjust="spacingAndGlyphs">0.9</tspan><tspan x="1444.2" y="559.8" font-size="37.5" font-style="italic">m</tspan> <tspan x="1477.9" y="559.8" font-size="37.5">/</tspan> <tspan x="1496.8" y="559.8" font-size="37.5" font-style="italic">s</tspan><tspan x="1513.8" y="542" font-size="21.6" textLength="10.26" lengthAdjust="spacingAndGlyphs">2</tspan><tspan x="1528.4" y="559.8" font-size="37.5">;</tspan> <tspan x="1547.2" y="559.8" font-size="37.5" font-style="italic">t</tspan><tspan x="1556.7" y="570.4" font-size="21.6" textLength="9.18" lengthAdjust="spacingAndGlyphs">1</tspan> <tspan x="1575.3" y="563.1" font-size="37.5" textLength="22.84" lengthAdjust="spacingAndGlyphs">=</tspan> <tspan x="1603.9" y="559.8" font-size="37.5">5</tspan><tspan x="1623.5" y="559.8" font-size="37.5" font-style="italic">s</tspan></text>
</svg>
</body></html>
